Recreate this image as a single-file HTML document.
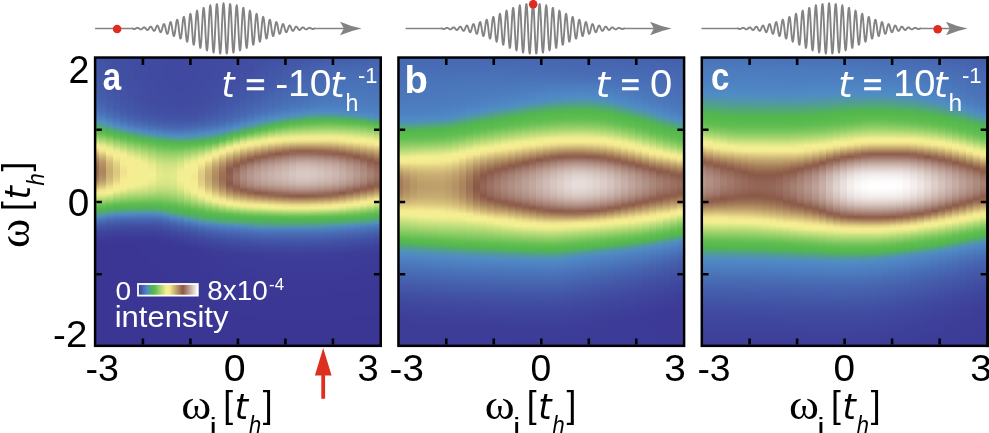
<!DOCTYPE html>
<html><head><meta charset="utf-8"><title>figure</title>
<style>
html,body{margin:0;padding:0;background:#fff}
#f{position:relative;width:989px;height:433px;overflow:hidden;background:#fff}
#f i{position:absolute;top:57.6px;height:288.3px;display:block}
.sans{font-family:"Liberation Sans",sans-serif}
.sansb{font-family:"Liberation Sans",sans-serif;font-weight:bold}
.sansi{font-family:"Liberation Sans",sans-serif;font-style:italic}
.serif{font-family:"Liberation Serif",serif}
.dvi{font-family:"DejaVu Sans",sans-serif;font-style:italic}
</style></head><body><div id="f">
<i style="left:96.05px;width:3.75px;background:linear-gradient(#4355a7 0px,#4355a7 3px,#4356a7 6px,#4357a8 9px,#4357a8 12px,#4358a9 15px,#4459a9 18px,#445aaa 21px,#445baa 24px,#445cab 27px,#455dac 30px,#455fac 33px,#4560ad 36px,#4662ae 39px,#4664b0 42px,#4767b1 45px,#486ab3 48px,#496fb6 51px,#4a75ba 54px,#4d7dbf 57px,#4f87c5 60px,#5092b4 63px,#519e91 66px,#52ad69 69px,#55b94c 72px,#68c054 75px,#89cb63 78px,#add773 81px,#d1e483 84px,#f3ef92 87px,#f6ec91 90px,#e2d183 93px,#ceb576 96px,#bc9d6a 99px,#ae8a60 102px,#a47b58 105px,#9e7355 108px,#9a6e52 111px,#996d52 114px,#9d7254 117px,#a37a58 120px,#af8b60 123px,#bfa06b 126px,#d3bc79 129px,#ebdc89 132px,#f4ee92 135px,#e1e98a 138px,#bbdc79 141px,#95cf68 144px,#72c459 147px,#59bb4d 150px,#52b25c 153px,#51a57f 156px,#508cc3 159px,#4b77bb 162px,#4766b1 165px,#4459a9 168px,#414fa3 171px,#3f479e 174px,#3e429b 177px,#3d3d98 180px,#3c3a96 183px,#3b3795 186px,#3b3694 189px,#3b3694 288px)"></i>
<i style="left:99.20px;width:7.64px;background:linear-gradient(#4253a5 0px,#4253a6 3px,#4254a6 6px,#4254a6 9px,#4355a6 12px,#4355a7 15px,#4356a7 18px,#4357a8 21px,#4358a8 24px,#4459a9 27px,#445aa9 30px,#445baa 33px,#445cab 36px,#455eac 39px,#455fad 42px,#4662ae 45px,#4765b0 48px,#4869b3 51px,#496fb6 54px,#4b76ba 57px,#4d80c0 60px,#508bc6 63px,#5197a5 66px,#51a67d 69px,#52b551 72px,#5cbc4f 75px,#7ac65c 78px,#9cd26b 81px,#bedd7b 84px,#e1e98a 87px,#f4ee92 90px,#f2e68e 93px,#dfcc81 96px,#ceb576 99px,#c1a36d 102px,#b69465 105px,#b18d61 108px,#ad885f 111px,#ac865e 114px,#af8a60 117px,#b49164 120px,#bd9e6a 123px,#cbb174 126px,#dcc97f 129px,#f1e58d 132px,#f4ee92 135px,#dde888 138px,#b6db77 141px,#90ce66 144px,#6cc256 147px,#56ba4c 150px,#52af64 153px,#51a08d 156px,#4f86c4 159px,#4a72b8 162px,#4662ae 165px,#4356a7 168px,#414da2 171px,#3f459d 174px,#3e409a 177px,#3d3c98 180px,#3c3996 183px,#3b3794 186px,#3b3694 189px,#3b3694 288px)"></i>
<i style="left:106.24px;width:7.64px;background:linear-gradient(#4251a4 0px,#4251a4 6px,#4252a5 9px,#4252a5 12px,#4253a5 15px,#4253a6 18px,#4254a6 21px,#4355a6 24px,#4356a7 27px,#4356a7 30px,#4357a8 33px,#4358a9 36px,#4459a9 39px,#445baa 42px,#455dab 45px,#455fad 48px,#4663af 51px,#4768b2 54px,#496eb5 57px,#4b76bb 60px,#4e81c1 63px,#508dc1 66px,#519b9a 69px,#51ac6d 72px,#55b94c 75px,#68c054 78px,#89cb63 81px,#aad672 84px,#cbe280 87px,#eaec8e 90px,#f4ee92 93px,#f5ea90 96px,#e6d686 99px,#dbc77e 102px,#d2ba78 105px,#cdb475 108px,#caaf73 111px,#c9ae72 114px,#cbb173 117px,#cfb676 120px,#d5bf7a 123px,#e0cd82 126px,#eddf8b 129px,#f5ed91 132px,#f3ef92 135px,#d3e484 138px,#aed873 141px,#87cb62 144px,#63bf52 147px,#52b84a 150px,#51ab6f 153px,#5196a8 156px,#4d7ebf 159px,#486cb4 162px,#455dab 165px,#4252a5 168px,#404aa0 171px,#3e449c 174px,#3d3f99 177px,#3c3b97 180px,#3b3895 183px,#3b3694 186px,#3b3694 288px)"></i>
<i style="left:113.28px;width:7.64px;background:linear-gradient(#414fa3 0px,#414fa3 6px,#4150a3 9px,#4150a4 12px,#4250a4 15px,#4251a4 18px,#4252a5 21px,#4252a5 24px,#4253a5 27px,#4253a6 30px,#4254a6 33px,#4355a7 36px,#4356a7 39px,#4357a8 42px,#4459a9 45px,#445aaa 48px,#455dac 51px,#4662ae 54px,#4767b1 57px,#496eb6 60px,#4b78bb 63px,#4e84c3 66px,#5091b7 69px,#51a18a 72px,#52b358 75px,#5bbc4e 78px,#75c55a 81px,#94cf68 84px,#b2d975 87px,#cfe382 90px,#ebec8e 93px,#f4ee92 96px,#f6ec91 99px,#eee18c 102px,#e5d585 105px,#e0ce82 108px,#ddca80 111px,#dcc87f 114px,#ddca80 117px,#e1cf83 120px,#e7d787 123px,#f1e58d 126px,#f5ed91 129px,#f4ee92 132px,#dde888 135px,#bddd7a 138px,#9cd26b 141px,#7ac75d 144px,#5cbc4f 147px,#52b552 150px,#51a779 153px,#508fbc 156px,#4c79bc 159px,#4767b2 162px,#445aaa 165px,#4150a4 168px,#3f489f 171px,#3e429b 174px,#3d3e99 177px,#3c3a97 180px,#3b3795 183px,#3b3694 186px,#3b3694 288px)"></i>
<i style="left:120.32px;width:7.64px;background:linear-gradient(#414ea2 0px,#414ea2 9px,#414ea3 12px,#414fa3 15px,#414fa3 21px,#4150a4 24px,#4251a4 27px,#4251a4 30px,#4252a5 33px,#4252a5 36px,#4253a5 39px,#4254a6 42px,#4355a7 45px,#4357a8 48px,#4459a9 51px,#445cab 54px,#4661ae 57px,#4767b2 60px,#496fb6 63px,#4c7abd 66px,#4f88c5 69px,#5197a7 72px,#51aa72 75px,#54b94b 78px,#65bf53 81px,#84ca61 84px,#a2d46e 87px,#bfdd7b 90px,#d9e687 93px,#f0ee91 96px,#f4ee92 99px,#f5ed91 102px,#f6ec91 105px,#f4e98f 108px,#f0e38d 111px,#eee18c 114px,#f0e38d 117px,#f4e98f 120px,#f6ec91 123px,#f5ed91 126px,#f4ee92 129px,#eaec8e 132px,#d0e383 135px,#b3d975 138px,#93cf68 141px,#73c459 144px,#5abb4e 147px,#52b456 150px,#51a57f 153px,#508cc4 156px,#4b77bb 159px,#4766b1 162px,#4459a9 165px,#414fa3 168px,#3f489f 171px,#3e429b 174px,#3d3e99 177px,#3c3a96 180px,#3b3795 183px,#3b3694 186px,#3b3694 288px)"></i>
<i style="left:127.36px;width:7.64px;background:linear-gradient(#414da2 0px,#414da2 15px,#414ea2 18px,#414ea2 21px,#414ea3 24px,#414fa3 27px,#414fa3 30px,#4150a3 33px,#4150a4 36px,#4251a4 39px,#4252a5 42px,#4253a5 45px,#4254a6 48px,#4356a7 51px,#4358a8 54px,#445cab 57px,#4662ae 60px,#4869b3 63px,#4a73b8 66px,#4d7fc0 69px,#508ec0 72px,#519f8e 75px,#52b357 78px,#5bbc4f 81px,#74c45a 84px,#8fcd66 87px,#a9d671 90px,#c2df7d 93px,#d9e687 96px,#eeed90 99px,#f4ee92 102px,#f5ed91 105px,#f5ed91 108px,#f6ec91 111px,#f6ec91 117px,#f5ed91 120px,#f5ed91 123px,#f4ee92 126px,#f0ee91 129px,#dbe788 132px,#c4df7d 135px,#a9d671 138px,#8dcd65 141px,#70c358 144px,#59bb4e 147px,#52b25a 150px,#51a481 153px,#508bc7 156px,#4b76ba 159px,#4765b0 162px,#4459a9 165px,#414fa3 168px,#3f479e 171px,#3e429b 174px,#3d3e99 177px,#3c3a96 180px,#3b3795 183px,#3b3694 186px,#3b3694 288px)"></i>
<i style="left:134.40px;width:7.64px;background:linear-gradient(#404ca1 0px,#404ca1 15px,#414ca1 18px,#414da2 21px,#414da2 27px,#414ea2 30px,#414ea2 33px,#414ea3 36px,#414fa3 39px,#4150a3 42px,#4250a4 45px,#4252a5 48px,#4253a5 51px,#4355a7 54px,#4459a9 57px,#455eac 60px,#4664b0 63px,#496db5 66px,#4b79bc 69px,#4f87c5 72px,#5197a6 75px,#51ab6d 78px,#56ba4c 81px,#68c054 84px,#82c960 87px,#9cd26b 90px,#b5da76 93px,#cce281 96px,#e0e98a 99px,#f1ee91 102px,#f4ee92 105px,#f4ee92 108px,#f5ed91 111px,#f5ed91 120px,#f4ee92 123px,#f3ef92 126px,#eaec8e 129px,#d6e585 132px,#bfde7b 135px,#a5d570 138px,#8acc64 141px,#6dc257 144px,#58bb4d 147px,#52b25c 150px,#51a383 153px,#508ac7 156px,#4b75ba 159px,#4765b0 162px,#4459a9 165px,#414fa3 168px,#3f479e 171px,#3e429b 174px,#3d3e99 177px,#3c3a96 180px,#3b3795 183px,#3b3794 186px,#3b3694 189px,#3b3694 288px)"></i>
<i style="left:141.44px;width:7.64px;background:linear-gradient(#404ba1 0px,#404ba1 18px,#404ca1 21px,#404ca1 30px,#414da2 33px,#414da2 39px,#414ea2 42px,#414fa3 45px,#4150a3 48px,#4251a4 51px,#4253a5 54px,#4355a7 57px,#445aaa 60px,#4661ae 63px,#4768b2 66px,#4a73b9 69px,#4d81c1 72px,#5090b9 75px,#51a384 78px,#52b74d 81px,#5dbd50 84px,#75c55a 87px,#8ecd65 90px,#a6d570 93px,#bddd7a 96px,#d1e483 99px,#e2e98b 102px,#f0ee91 105px,#f3ef92 108px,#f4ee92 111px,#f4ee92 123px,#f1ee91 126px,#e2e98a 129px,#cfe382 132px,#badc79 135px,#a1d46e 138px,#87cb62 141px,#6bc156 144px,#58ba4d 147px,#52b15d 150px,#51a385 153px,#508ac6 156px,#4b75ba 159px,#4765b0 162px,#4459a9 165px,#414fa3 168px,#3f489f 171px,#3e429b 174px,#3d3e99 177px,#3c3a97 180px,#3b3895 183px,#3b3794 186px,#3b3794 195px,#3b3694 198px,#3b3694 288px)"></i>
<i style="left:148.48px;width:7.64px;background:linear-gradient(#404aa0 0px,#404aa0 15px,#404ba0 18px,#404ba0 21px,#404ba1 24px,#404ba1 33px,#404ca1 36px,#404ca1 39px,#414ca1 42px,#414da2 45px,#414ea2 48px,#414fa3 51px,#4251a4 54px,#4253a5 57px,#4357a8 60px,#455dab 63px,#4664b0 66px,#496eb6 69px,#4c7bbd 72px,#508ac6 75px,#519b9a 78px,#52b062 81px,#58bb4d 84px,#69c155 87px,#80c85f 90px,#97d069 93px,#acd773 96px,#c0de7b 99px,#d0e383 102px,#dee889 105px,#e9ec8d 108px,#eeed90 111px,#f2ef92 114px,#f3ef92 117px,#f1ee91 120px,#eced8f 123px,#e4ea8b 126px,#d7e585 129px,#c6e07e 132px,#b2d975 135px,#9cd26b 138px,#83c960 141px,#69c155 144px,#57ba4d 147px,#52b15d 150px,#51a385 153px,#5089c6 156px,#4b75ba 159px,#4765b0 162px,#4459a9 165px,#414fa3 168px,#3f489f 171px,#3e429b 174px,#3d3e99 177px,#3c3a97 180px,#3b3895 183px,#3b3795 186px,#3b3794 189px,#3b3794 204px,#3b3694 207px,#3b3694 288px)"></i>
<i style="left:155.52px;width:7.64px;background:linear-gradient(#404aa0 0px,#404aa0 30px,#404ba0 33px,#404ba0 36px,#404ba1 39px,#404ba1 42px,#404ca1 45px,#414da2 48px,#414ea2 51px,#414fa3 54px,#4251a4 57px,#4355a6 60px,#445aaa 63px,#4661ae 66px,#486ab3 69px,#4b76ba 72px,#4e85c3 75px,#5095ac 78px,#51a875 81px,#54b94b 84px,#5ebd50 87px,#73c459 90px,#89cb63 93px,#9dd26c 96px,#b0d874 99px,#c0de7b 102px,#cde281 105px,#d8e686 108px,#dde888 111px,#e2e98a 114px,#e3ea8b 117px,#e2e98a 120px,#dee889 123px,#d8e686 126px,#cce281 129px,#bedd7a 132px,#acd772 135px,#98d06a 138px,#81c960 141px,#69c155 144px,#58bb4d 147px,#52b359 150px,#51a67d 153px,#508dc1 156px,#4b78bc 159px,#4768b2 162px,#445baa 165px,#4251a4 168px,#4049a0 171px,#3e449c 174px,#3d3f9a 177px,#3c3b97 180px,#3c3895 183px,#3b3795 186px,#3b3795 192px,#3b3794 195px,#3b3794 210px,#3b3694 213px,#3b3694 288px)"></i>
<i style="left:162.56px;width:7.64px;background:linear-gradient(#40499f 0px,#40499f 6px,#4049a0 9px,#4049a0 21px,#404aa0 24px,#404aa0 39px,#404ba0 42px,#404ba1 45px,#404ca1 48px,#414da2 51px,#414ea3 54px,#4150a4 57px,#4253a5 60px,#4358a8 63px,#455fac 66px,#4767b1 69px,#4a72b8 72px,#4d80c1 75px,#5090b9 78px,#51a385 81px,#52b551 84px,#5bbc4e 87px,#6cc256 90px,#82c960 93px,#96d069 96px,#a9d671 99px,#b9dc78 102px,#c7e07e 105px,#d2e483 108px,#d8e686 111px,#dde888 114px,#dfe889 117px,#dfe889 120px,#dbe787 123px,#d6e585 126px,#cce281 129px,#bedd7b 132px,#aed873 135px,#9bd26b 138px,#86ca62 141px,#6fc358 144px,#5bbc4f 147px,#52b74e 150px,#51ab6e 153px,#5199a1 156px,#4d80c1 159px,#496eb6 162px,#4560ad 165px,#4355a7 168px,#414da2 171px,#3f469e 174px,#3e419b 177px,#3d3d98 180px,#3c3a96 183px,#3b3895 186px,#3b3795 189px,#3b3795 201px,#3b3794 204px,#3b3794 216px,#3b3694 219px,#3b3694 288px)"></i>
<i style="left:169.60px;width:7.64px;background:linear-gradient(#40499f 0px,#40499f 21px,#4049a0 24px,#4049a0 30px,#404aa0 33px,#404aa0 42px,#404ba0 45px,#404ca1 48px,#414da2 51px,#414ea2 54px,#414fa3 57px,#4252a5 60px,#4357a8 63px,#455dab 66px,#4765b0 69px,#4970b7 72px,#4d7ebf 75px,#508dc0 78px,#519f8f 81px,#52b25a 84px,#59bb4d 87px,#69c155 90px,#7fc85e 93px,#94cf68 96px,#a7d670 99px,#b9db78 102px,#c7e07e 105px,#d3e484 108px,#dae787 111px,#dfe889 114px,#e2e98a 117px,#e1e98a 120px,#dee889 123px,#d9e687 126px,#d0e383 129px,#c4df7d 132px,#b4da76 135px,#a2d46e 138px,#8ecd65 141px,#77c55b 144px,#60be51 147px,#55b94b 150px,#52b060 153px,#51a481 156px,#508bc6 159px,#4b77bb 162px,#4767b1 165px,#445baa 168px,#4251a4 171px,#404aa0 174px,#3e449c 177px,#3d3f9a 180px,#3c3c97 183px,#3c3996 186px,#3b3795 189px,#3b3795 207px,#3b3794 210px,#3b3794 222px,#3b3694 225px,#3b3694 288px)"></i>
<i style="left:176.64px;width:7.64px;background:linear-gradient(#40499f 0px,#40499f 24px,#4049a0 27px,#4049a0 33px,#404aa0 36px,#404aa0 42px,#404ba0 45px,#404ba1 48px,#414ca1 51px,#414ea2 54px,#414fa3 57px,#4252a5 60px,#4356a7 63px,#455dab 66px,#4664b0 69px,#496fb6 72px,#4d7dbf 75px,#508dc2 78px,#519e92 81px,#52b15d 84px,#59bb4d 87px,#6bc156 90px,#83c960 93px,#9ad16b 96px,#b0d874 99px,#c3df7d 102px,#d3e484 105px,#e0e98a 108px,#e9ec8e 111px,#efee90 114px,#f2ef92 117px,#f2ef92 120px,#efee90 123px,#eaec8e 126px,#e1e98a 129px,#d4e584 132px,#c4df7d 135px,#b0d975 138px,#9bd26b 141px,#84ca61 144px,#6bc156 147px,#58bb4d 150px,#52b455 153px,#51aa71 156px,#5198a2 159px,#4d80c1 162px,#496eb6 165px,#4560ad 168px,#4356a7 171px,#414da2 174px,#3f479e 177px,#3e429b 180px,#3d3e99 183px,#3c3a96 186px,#3c3895 189px,#3b3895 192px,#3b3795 195px,#3b3795 213px,#3b3794 216px,#3b3794 225px,#3b3694 228px,#3b3694 288px)"></i>
<i style="left:183.68px;width:7.64px;background:linear-gradient(#40499f 0px,#40499f 21px,#4049a0 24px,#4049a0 30px,#404aa0 33px,#404aa0 42px,#404ba1 45px,#404ca1 48px,#414da2 51px,#414ea2 54px,#4150a3 57px,#4252a5 60px,#4357a8 63px,#455eac 66px,#4766b1 69px,#4a71b7 72px,#4d7fc0 75px,#508ebe 78px,#51a08d 81px,#52b359 84px,#5abc4e 87px,#71c459 90px,#8ccd64 93px,#a6d570 96px,#bfde7b 99px,#d5e585 102px,#e8eb8d 105px,#f3ef92 108px,#f4ee92 111px,#f4ee92 114px,#f5ed91 117px,#f5ed91 123px,#f4ee92 126px,#f4ee92 129px,#eced8f 132px,#dbe787 135px,#c6e07e 138px,#afd874 141px,#95cf68 144px,#79c65c 147px,#5dbd50 150px,#52b84a 153px,#52ae65 156px,#51a385 159px,#508ac6 162px,#4b76ba 165px,#4766b1 168px,#445baa 171px,#4251a4 174px,#404aa0 177px,#3f449d 180px,#3d409a 183px,#3c3c98 186px,#3c3996 189px,#3b3895 192px,#3b3895 201px,#3b3795 204px,#3b3795 219px,#3b3794 222px,#3b3794 231px,#3b3694 234px,#3b3694 288px)"></i>
<i style="left:190.72px;width:7.64px;background:linear-gradient(#40499f 0px,#40499f 12px,#4049a0 15px,#4049a0 21px,#404aa0 24px,#404aa0 36px,#404ba0 39px,#404ba1 42px,#404ca1 45px,#414da2 48px,#414ea2 51px,#414fa3 54px,#4251a4 57px,#4254a6 60px,#4459a9 63px,#4560ad 66px,#4768b2 69px,#4a74b9 72px,#4e82c2 75px,#5091b5 78px,#51a385 81px,#52b551 84px,#5dbd4f 87px,#79c65c 90px,#97d069 93px,#b3d976 96px,#cee382 99px,#e6eb8c 102px,#f4ee92 105px,#f5ed91 108px,#f6ec91 111px,#f6ec91 114px,#f3e88f 117px,#f2e78f 120px,#f4ea90 123px,#f6ec91 126px,#f5ed91 129px,#f4ee92 132px,#f2ef91 135px,#dce788 138px,#c3df7d 141px,#a8d671 144px,#8bcc64 147px,#6cc256 150px,#58ba4d 153px,#52b359 156px,#51a974 159px,#5096a9 162px,#4d7fc0 165px,#496db5 168px,#4560ad 171px,#4356a7 174px,#414ea2 177px,#3f479e 180px,#3e429b 183px,#3d3e99 186px,#3c3b97 189px,#3c3996 192px,#3c3895 195px,#3c3895 198px,#3b3895 201px,#3b3895 207px,#3b3795 210px,#3b3795 225px,#3b3794 228px,#3b3794 237px,#3b3694 240px,#3b3694 288px)"></i>
<i style="left:197.76px;width:7.64px;background:linear-gradient(#4049a0 0px,#4049a0 6px,#404aa0 9px,#404aa0 27px,#404ba0 30px,#404ba1 33px,#404ba1 36px,#404ca1 39px,#404ca1 42px,#414da2 45px,#414ea2 48px,#414fa3 51px,#4251a4 54px,#4253a6 57px,#4357a8 60px,#445cab 63px,#4662af 66px,#486cb4 69px,#4b78bc 72px,#4f87c4 75px,#5095aa 78px,#51a779 81px,#53b84a 84px,#63bf52 87px,#84ca61 90px,#a5d56f 93px,#c5e07e 96px,#e3ea8b 99px,#f4ee92 102px,#f5ed91 105px,#efe38c 108px,#e6d686 111px,#e1d083 114px,#decb81 117px,#ddca80 120px,#dfcc81 123px,#e3d184 126px,#e9da88 129px,#f2e78e 132px,#f5ed91 135px,#f3ef92 138px,#dce788 141px,#bcdd7a 144px,#9bd16b 147px,#7ac65d 150px,#5dbd50 153px,#52b84a 156px,#52ae67 159px,#51a189 162px,#4f88c5 165px,#4b75ba 168px,#4766b1 171px,#445baa 174px,#4252a5 177px,#404ba0 180px,#3f459d 183px,#3e419a 186px,#3d3d98 189px,#3c3a96 192px,#3c3996 195px,#3c3996 198px,#3c3895 201px,#3c3895 207px,#3b3895 210px,#3b3895 216px,#3b3795 219px,#3b3795 231px,#3b3794 234px,#3b3794 240px,#3b3694 243px,#3b3694 288px)"></i>
<i style="left:204.80px;width:7.64px;background:linear-gradient(#404aa0 0px,#404aa0 15px,#404ba0 18px,#404ba0 21px,#404ba1 24px,#404ba1 27px,#404ca1 30px,#404ca1 33px,#414ca1 36px,#414da2 39px,#414ea2 42px,#414fa3 45px,#4150a4 48px,#4252a5 51px,#4254a6 54px,#4356a7 57px,#445aaa 60px,#455fad 63px,#4766b1 66px,#4970b7 69px,#4c7dbe 72px,#508bc6 75px,#519a9e 78px,#51ac6c 81px,#57ba4c 84px,#70c358 87px,#97d069 90px,#bddd7a 93px,#e2e98b 96px,#f4ee92 99px,#f5eb90 102px,#e5d586 105px,#d9c47d 108px,#cfb676 111px,#caaf73 114px,#c6aa70 117px,#c5a96f 120px,#c7ac71 123px,#cbb274 126px,#d2bb79 129px,#decb80 132px,#ecde8a 135px,#f5ed91 138px,#f3ef92 141px,#d5e585 144px,#b0d975 147px,#8ccc64 150px,#6ac155 153px,#56ba4c 156px,#52b15d 159px,#51a77a 162px,#5090b9 165px,#4c7bbe 168px,#486cb4 171px,#4560ad 174px,#4356a7 177px,#414ea2 180px,#3f489f 183px,#3e439c 186px,#3d3f99 189px,#3c3b97 192px,#3c3a96 195px,#3c3996 198px,#3c3996 207px,#3c3895 210px,#3c3895 213px,#3b3895 216px,#3b3895 222px,#3b3795 225px,#3b3795 234px,#3b3794 237px,#3b3794 246px,#3b3694 249px,#3b3694 288px)"></i>
<i style="left:211.84px;width:7.64px;background:linear-gradient(#404aa0 0px,#404aa0 3px,#404ba0 6px,#404ba0 9px,#404ba1 12px,#404ba1 18px,#404ca1 21px,#404ca1 24px,#414ca1 27px,#414da2 30px,#414da2 33px,#414ea2 36px,#414ea3 39px,#414fa3 42px,#4251a4 45px,#4252a5 48px,#4254a6 51px,#4357a8 54px,#4459a9 57px,#455dac 60px,#4663af 63px,#486ab3 66px,#4a74b9 69px,#4e82c1 72px,#5090ba 75px,#519f8e 78px,#52b25b 81px,#5dbc4f 84px,#86ca62 87px,#b3da76 90px,#e0e98a 93px,#f4ee92 96px,#f0e38d 99px,#decb81 102px,#ceb676 105px,#c2a56d 108px,#b89767 111px,#b39063 114px,#af8b60 117px,#ae8a60 120px,#b18d61 123px,#b59365 126px,#bd9e6a 129px,#c9af72 132px,#d9c47d 135px,#eadc89 138px,#f5ed91 141px,#eced8f 144px,#c4df7d 147px,#9bd26b 150px,#75c55a 153px,#5abb4e 156px,#52b456 159px,#51aa72 162px,#5198a3 165px,#4d80c1 168px,#4970b7 171px,#4663af 174px,#4459a9 177px,#4251a4 180px,#404aa0 183px,#3f459d 186px,#3e419a 189px,#3d3d98 192px,#3c3b97 195px,#3c3a96 198px,#3c3a96 201px,#3c3996 204px,#3c3996 213px,#3c3895 216px,#3c3895 219px,#3b3895 222px,#3b3895 225px,#3b3795 228px,#3b3795 240px,#3b3794 243px,#3b3794 249px,#3b3694 252px,#3b3694 288px)"></i>
<i style="left:218.88px;width:7.64px;background:linear-gradient(#404ba1 0px,#404ba1 9px,#404ca1 12px,#404ca1 15px,#414ca1 18px,#414da2 21px,#414da2 24px,#414ea2 27px,#414ea2 30px,#414fa3 33px,#414fa3 36px,#4250a4 39px,#4252a5 42px,#4253a6 45px,#4355a7 48px,#4358a8 51px,#445aaa 54px,#455dac 57px,#4662ae 60px,#4767b1 63px,#496fb6 66px,#4c7bbd 69px,#4f89c6 72px,#5197a6 75px,#51a974 78px,#56ba4c 81px,#76c55b 84px,#a7d670 87px,#d9e686 90px,#f4ee92 93px,#f0e38d 96px,#dcc87f 99px,#cab073 102px,#bb9b68 105px,#ae8a60 108px,#a57c59 111px,#9f7556 114px,#9c7053 117px,#9b6f53 120px,#9d7354 123px,#a27958 126px,#aa845d 129px,#b79566 132px,#c6ab70 135px,#d9c47d 138px,#eee18c 141px,#f4ee92 144px,#dce788 147px,#afd874 150px,#82c960 153px,#5dbd4f 156px,#52b650 159px,#51ac6c 162px,#519e93 165px,#4e85c3 168px,#4a73b9 171px,#4766b1 174px,#445cab 177px,#4253a6 180px,#404ca1 183px,#3f479e 186px,#3e429b 189px,#3d3e99 192px,#3c3b97 195px,#3c3b97 198px,#3c3a97 201px,#3c3a96 204px,#3c3a96 207px,#3c3996 210px,#3c3996 216px,#3c3895 219px,#3c3895 222px,#3b3895 225px,#3b3895 231px,#3b3795 234px,#3b3795 243px,#3b3794 246px,#3b3794 252px,#3b3694 255px,#3b3694 288px)"></i>
<i style="left:225.92px;width:7.64px;background:linear-gradient(#404ca1 0px,#404ca1 9px,#414ca1 12px,#414da2 15px,#414da2 18px,#414ea2 21px,#414ea3 24px,#414fa3 27px,#4150a3 30px,#4250a4 33px,#4251a4 36px,#4253a5 39px,#4355a6 42px,#4356a7 45px,#4459a9 48px,#445baa 51px,#455eac 54px,#4661ae 57px,#4766b1 60px,#486cb5 63px,#4b76bb 66px,#4e83c2 69px,#5091b8 72px,#51a288 75px,#52b650 78px,#68c054 81px,#98d16a 84px,#cbe280 87px,#f4ee92 90px,#f3e88f 93px,#dcc97f 96px,#c7ac71 99px,#b59264 102px,#a47c59 105px,#976a50 108px,#8d5c49 111px,#8c5c4b 114px,#906151 117px,#916252 120px,#8f5e4e 123px,#8b5947 126px,#94654e 129px,#a27857 132px,#b39063 135px,#c8ad71 138px,#dfcd81 141px,#f6ec91 144px,#eeed90 147px,#bedd7a 150px,#8ecd65 153px,#63bf52 156px,#52b84a 159px,#52ad68 162px,#51a288 165px,#4f88c5 168px,#4b76bb 171px,#4869b3 174px,#455eac 177px,#4355a7 180px,#414ea2 183px,#40489f 186px,#3e449c 189px,#3d3f9a 192px,#3d3c98 195px,#3c3b97 198px,#3c3b97 201px,#3c3a97 204px,#3c3a96 207px,#3c3a96 210px,#3c3996 213px,#3c3996 219px,#3c3895 222px,#3c3895 225px,#3b3895 228px,#3b3895 234px,#3b3795 237px,#3b3795 246px,#3b3794 249px,#3b3794 252px,#3b3694 255px,#3b3694 288px)"></i>
<i style="left:232.96px;width:7.64px;background:linear-gradient(#414ca1 0px,#414ca1 3px,#414da2 6px,#414da2 12px,#414ea2 15px,#414ea3 18px,#414fa3 21px,#4150a4 24px,#4251a4 27px,#4251a4 30px,#4252a5 33px,#4254a6 36px,#4355a7 39px,#4357a8 42px,#445aa9 45px,#445cab 48px,#455fac 51px,#4662ae 54px,#4765b0 57px,#486ab3 60px,#4a73b8 63px,#4d7ebf 66px,#508bc7 69px,#519a9c 72px,#52af64 75px,#5cbc4f 78px,#88cb63 81px,#bbdc79 84px,#eded8f 87px,#f6ec91 90px,#e2d183 93px,#ccb274 96px,#b79566 99px,#a47c59 102px,#94664e 105px,#8d5c4b 108px,#96695a 111px,#9b7162 114px,#9f7668 117px,#a07769 120px,#9d7365 123px,#986c5d 126px,#8f5f4e 129px,#94654e 132px,#a67e5a 135px,#bb9c69 138px,#d4bd7a 141px,#eee18c 144px,#f4ee92 147px,#cce281 150px,#99d16a 153px,#6ac155 156px,#54b94b 159px,#52af64 162px,#51a481 165px,#508cc5 168px,#4c79bc 171px,#486bb4 174px,#4661ae 177px,#4357a8 180px,#4150a3 183px,#404aa0 186px,#3f459d 189px,#3e419a 192px,#3d3d98 195px,#3c3c97 198px,#3c3b97 201px,#3c3b97 204px,#3c3a97 207px,#3c3a96 210px,#3c3a96 213px,#3c3996 216px,#3c3996 222px,#3c3895 225px,#3c3895 228px,#3b3895 231px,#3b3895 234px,#3b3795 237px,#3b3795 246px,#3b3794 249px,#3b3794 255px,#3b3694 258px,#3b3694 288px)"></i>
<i style="left:240.00px;width:7.64px;background:linear-gradient(#414da2 0px,#414da2 6px,#414ea2 9px,#414ea3 12px,#414fa3 15px,#4150a3 18px,#4250a4 21px,#4251a4 24px,#4252a5 27px,#4253a6 30px,#4355a6 33px,#4356a7 36px,#4358a8 39px,#445aaa 42px,#455dab 45px,#455fad 48px,#4662ae 51px,#4765b0 54px,#4869b3 57px,#4970b7 60px,#4c79bc 63px,#4f85c3 66px,#5093b1 69px,#51a67d 72px,#54b94b 75px,#74c45a 78px,#a6d570 81px,#d9e686 84px,#f4ee92 87px,#ecde8a 90px,#d4bd79 93px,#bd9d6a 96px,#a8815b 99px,#95674f 102px,#8e5e4e 105px,#9b7162 108px,#a47d70 111px,#a98478 114px,#ad8a7e 117px,#ad8b7f 120px,#aa867a 123px,#a57e71 126px,#9b7062 129px,#8c5b4a 132px,#9b6f53 135px,#b28f62 138px,#ccb374 141px,#e8d887 144px,#f5ed91 147px,#d9e687 150px,#a4d46f 153px,#72c459 156px,#56b94c 159px,#52b061 162px,#51a67c 165px,#508fbb 168px,#4c7cbe 171px,#496eb5 174px,#4663af 177px,#4459a9 180px,#4251a4 183px,#404ba1 186px,#3f469e 189px,#3e419b 192px,#3d3e99 195px,#3c3c98 198px,#3c3b97 201px,#3c3b97 207px,#3c3a96 210px,#3c3a96 213px,#3c3996 216px,#3c3996 222px,#3c3895 225px,#3c3895 228px,#3b3895 231px,#3b3895 237px,#3b3795 240px,#3b3795 246px,#3b3794 249px,#3b3794 255px,#3b3694 258px,#3b3694 288px)"></i>
<i style="left:247.04px;width:7.64px;background:linear-gradient(#414ea2 0px,#414ea2 3px,#414ea3 6px,#414fa3 9px,#414fa3 12px,#4150a4 15px,#4251a4 18px,#4252a5 21px,#4253a6 24px,#4254a6 27px,#4356a7 30px,#4357a8 33px,#4459a9 36px,#445baa 39px,#455dac 42px,#4560ad 45px,#4662af 48px,#4765b0 51px,#4869b2 54px,#496eb6 57px,#4b76ba 60px,#4d81c1 63px,#508dc1 66px,#519d94 69px,#52b25b 72px,#5ebd50 75px,#8ccd65 78px,#bddd7a 81px,#eded90 84px,#f6ec91 87px,#e1cf82 90px,#c8ad71 93px,#b08c61 96px,#9b6f53 99px,#8a5948 102px,#9a6e5f 105px,#a68073 108px,#ae8b80 111px,#b39388 114px,#b6978d 117px,#b7988d 120px,#b39388 123px,#ae8b7f 126px,#a47d6f 129px,#946657 132px,#92634d 135px,#a9835d 138px,#c4a86f 141px,#e1d083 144px,#f5ed91 147px,#e1e98a 150px,#abd772 153px,#78c65b 156px,#57ba4d 159px,#52b15d 162px,#51a876 165px,#5094ae 168px,#4d7fc0 171px,#4970b7 174px,#4765b0 177px,#445baa 180px,#4253a5 183px,#414ca1 186px,#3f479e 189px,#3e439c 192px,#3d3f99 195px,#3d3c98 198px,#3c3c97 201px,#3c3b97 204px,#3c3b97 207px,#3c3a97 210px,#3c3a96 213px,#3c3a96 216px,#3c3996 219px,#3c3996 225px,#3c3895 228px,#3c3895 231px,#3b3895 234px,#3b3895 237px,#3b3795 240px,#3b3795 249px,#3b3794 252px,#3b3794 255px,#3b3694 258px,#3b3694 288px)"></i>
<i style="left:254.08px;width:7.64px;background:linear-gradient(#414fa3 0px,#414fa3 3px,#4150a3 6px,#4150a4 9px,#4251a4 12px,#4252a5 15px,#4253a5 18px,#4254a6 21px,#4355a7 24px,#4357a8 27px,#4358a9 30px,#445aaa 33px,#445cab 36px,#455eac 39px,#4661ae 42px,#4663af 45px,#4766b1 48px,#4869b2 51px,#496db5 54px,#4a74b9 57px,#4d7dbf 60px,#4f89c6 63px,#5196a8 66px,#51a974 69px,#56ba4c 72px,#75c55a 75px,#a2d46e 78px,#d1e383 81px,#f4ee92 84px,#f0e48d 87px,#d6c07b 90px,#bc9d6a 93px,#a57c59 96px,#90604b 99px,#956758 102px,#a47d6f 105px,#af8d82 108px,#b6978d 111px,#bb9e94 114px,#bea299 117px,#bea299 120px,#ba9d93 123px,#b5958a 126px,#ab867a 129px,#9b7062 132px,#8b5a48 135px,#a27957 138px,#be9f6a 141px,#dcc87f 144px,#f6ec91 147px,#e8eb8d 150px,#b2d975 153px,#7dc85e 156px,#59bb4e 159px,#52b25a 162px,#51a973 165px,#5198a2 168px,#4e81c1 171px,#4a72b8 174px,#4767b1 177px,#455dab 180px,#4355a6 183px,#414ea2 186px,#40489f 189px,#3e449c 192px,#3d3f9a 195px,#3d3d98 198px,#3c3c98 201px,#3c3b97 204px,#3c3b97 210px,#3c3a96 213px,#3c3a96 216px,#3c3996 219px,#3c3996 225px,#3c3895 228px,#3c3895 231px,#3b3895 234px,#3b3895 237px,#3b3795 240px,#3b3795 249px,#3b3794 252px,#3b3794 258px,#3b3694 261px,#3b3694 288px)"></i>
<i style="left:261.12px;width:7.64px;background:linear-gradient(#4150a3 0px,#4150a4 3px,#4251a4 6px,#4252a5 9px,#4253a5 12px,#4254a6 15px,#4355a7 18px,#4356a7 21px,#4358a8 24px,#4459a9 27px,#445baa 30px,#455dab 33px,#455fad 36px,#4661ae 39px,#4664b0 42px,#4766b1 45px,#4869b3 48px,#486cb5 51px,#4a72b8 54px,#4c79bc 57px,#4e84c3 60px,#5090ba 63px,#51a08d 66px,#52b456 69px,#5fbd50 72px,#89cb63 75px,#b6da77 78px,#e3ea8b 81px,#f5ed91 84px,#e6d686 87px,#ccb274 90px,#b28f63 93px,#9b6f52 96px,#8e5d4d 99px,#9e7567 102px,#ab887c 105px,#b7988d 108px,#bda197 111px,#c2a79e 114px,#c4aba2 117px,#c4aaa2 120px,#c0a59b 123px,#ba9c92 126px,#af8d82 129px,#a1786b 132px,#8e5e4e 135px,#9d7254 138px,#b99867 141px,#d8c27c 144px,#f6ec91 147px,#eded90 150px,#b7db77 153px,#82c960 156px,#5bbc4e 159px,#52b357 162px,#51aa70 165px,#519b9b 168px,#4e83c2 171px,#4a74b9 174px,#4768b2 177px,#455eac 180px,#4356a7 183px,#414fa3 186px,#4049a0 189px,#3f449d 192px,#3d409a 195px,#3d3d98 198px,#3d3c98 201px,#3c3c97 204px,#3c3b97 207px,#3c3b97 210px,#3c3a97 213px,#3c3a96 216px,#3c3a96 219px,#3c3996 222px,#3c3996 228px,#3c3895 231px,#3b3895 234px,#3b3895 240px,#3b3795 243px,#3b3795 249px,#3b3794 252px,#3b3794 258px,#3b3694 261px,#3b3694 288px)"></i>
<i style="left:268.16px;width:7.64px;background:linear-gradient(#4251a4 0px,#4252a5 3px,#4253a5 6px,#4254a6 9px,#4355a6 12px,#4356a7 15px,#4357a8 18px,#4459a9 21px,#445aaa 24px,#445cab 27px,#455eac 30px,#4560ad 33px,#4662ae 36px,#4664b0 39px,#4767b1 42px,#4869b3 45px,#486cb4 48px,#4970b7 51px,#4b76ba 54px,#4d7fc0 57px,#508ac6 60px,#5197a6 63px,#51a973 66px,#56ba4c 69px,#71c359 72px,#9bd26b 75px,#c7e07f 78px,#f3ef92 81px,#f6ec91 84px,#dcc97f 87px,#c1a46d 90px,#a8815b 93px,#91614c 96px,#96695a 99px,#a57f72 102px,#b29186 105px,#bda097 108px,#c2a89f 111px,#c7aea6 114px,#c9b2aa 117px,#c8b0a8 120px,#c4aba2 123px,#bea299 126px,#b39388 129px,#a57e71 132px,#936556 135px,#976a50 138px,#b39163 141px,#d3bc79 144px,#f3e78f 147px,#f3ef92 150px,#bcdd7a 153px,#86cb62 156px,#5cbc4f 159px,#52b455 162px,#51ab6f 165px,#519b9a 168px,#4e83c2 171px,#4a74b9 174px,#4768b2 177px,#455fac 180px,#4356a7 183px,#414fa3 186px,#404aa0 189px,#3f459d 192px,#3e409a 195px,#3d3d98 198px,#3d3c98 201px,#3c3c97 204px,#3c3b97 207px,#3c3b97 210px,#3c3a97 213px,#3c3a96 216px,#3c3a96 219px,#3c3996 222px,#3c3996 228px,#3c3895 231px,#3c3895 234px,#3b3895 237px,#3b3895 240px,#3b3795 243px,#3b3795 249px,#3b3794 252px,#3b3794 258px,#3b3694 261px,#3b3694 288px)"></i>
<i style="left:275.20px;width:7.64px;background:linear-gradient(#4252a5 0px,#4253a5 3px,#4254a6 6px,#4355a7 9px,#4357a8 12px,#4358a8 15px,#445aa9 18px,#445baa 21px,#455dab 24px,#455fac 27px,#4661ae 30px,#4663af 33px,#4765b0 36px,#4767b1 39px,#4869b3 42px,#486cb4 45px,#496fb6 48px,#4a74b9 51px,#4c7bbd 54px,#4e84c3 57px,#508fbd 60px,#519f90 63px,#52b359 66px,#5dbd4f 69px,#81c960 72px,#aad672 75px,#d3e484 78px,#f4ee92 81px,#f1e58e 84px,#d6c07b 87px,#ba9a68 90px,#a07656 93px,#8a5847 96px,#9c7264 99px,#ab877b 102px,#b8998f 105px,#c1a79e 108px,#c7afa7 111px,#cbb5ad 114px,#cdb8b0 117px,#ccb6ae 120px,#c7b0a8 123px,#c2a79e 126px,#b7988d 129px,#a88377 132px,#976b5b 135px,#93644d 138px,#af8a60 141px,#ceb676 144px,#efe28c 147px,#f3ef92 150px,#c1de7c 153px,#8bcc64 156px,#5dbd50 159px,#52b553 162px,#51ab6f 165px,#519b9a 168px,#4e83c2 171px,#4a74b9 174px,#4869b2 177px,#455fad 180px,#4357a8 183px,#4150a3 186px,#404aa0 189px,#3f459d 192px,#3e409a 195px,#3d3d98 198px,#3d3c98 201px,#3c3c98 204px,#3c3b97 207px,#3c3b97 210px,#3c3a97 213px,#3c3a96 216px,#3c3a96 219px,#3c3996 222px,#3c3996 228px,#3c3895 231px,#3c3895 234px,#3b3895 237px,#3b3895 240px,#3b3795 243px,#3b3795 249px,#3b3794 252px,#3b3794 258px,#3b3694 261px,#3b3694 288px)"></i>
<i style="left:282.24px;width:7.64px;background:linear-gradient(#4253a5 0px,#4354a6 3px,#4356a7 6px,#4357a8 9px,#4459a9 12px,#445aaa 15px,#445cab 18px,#455eac 21px,#455fad 24px,#4661ae 27px,#4663af 30px,#4765b0 33px,#4767b2 36px,#486ab3 39px,#486cb4 42px,#496fb6 45px,#4a72b8 48px,#4b77bb 51px,#4d7fc0 54px,#4f88c5 57px,#5095ac 60px,#51a779 63px,#54b94b 66px,#6ac155 69px,#8ecd65 72px,#b4da76 75px,#dce788 78px,#f4ee92 81px,#ecdf8a 84px,#d0b877 87px,#b49164 90px,#9a6d52 93px,#906050 96px,#a27a6c 99px,#b08e83 102px,#bda097 105px,#c6ada5 108px,#cbb5ad 111px,#cfbbb4 114px,#d1bdb6 117px,#cfbbb4 120px,#cbb4ad 123px,#c5aca4 126px,#ba9c92 129px,#ab887c 132px,#9a6f60 135px,#8f5f4a 138px,#ab855d 141px,#cbb073 144px,#ebde8a 147px,#f4ee92 150px,#c6e07e 153px,#8fcd66 156px,#5fbd50 159px,#52b551 162px,#51ab6e 165px,#519b9a 168px,#4e83c2 171px,#4a74b9 174px,#4869b3 177px,#455fad 180px,#4357a8 183px,#4150a4 186px,#404aa0 189px,#3f459d 192px,#3e419a 195px,#3d3e99 198px,#3d3c98 201px,#3c3c98 204px,#3c3b97 207px,#3c3b97 213px,#3c3a96 216px,#3c3a96 219px,#3c3996 222px,#3c3996 228px,#3c3895 231px,#3c3895 234px,#3b3895 237px,#3b3895 240px,#3b3795 243px,#3b3795 252px,#3b3794 255px,#3b3794 258px,#3b3694 261px,#3b3694 288px)"></i>
<i style="left:289.28px;width:7.64px;background:linear-gradient(#4254a6 0px,#4356a7 3px,#4357a8 6px,#4459a9 9px,#445baa 12px,#455dab 15px,#455eac 18px,#4560ad 21px,#4662ae 24px,#4664af 27px,#4766b1 30px,#4768b2 33px,#486ab3 36px,#486cb4 39px,#496eb6 42px,#4a71b7 45px,#4b75ba 48px,#4c7bbd 51px,#4e82c2 54px,#508cc4 57px,#519b9b 60px,#52af64 63px,#59bb4e 66px,#75c55a 69px,#98d06a 72px,#bcdd7a 75px,#e2e98a 78px,#f4ee92 81px,#e9da88 84px,#cbb274 87px,#ae8960 90px,#94654e 93px,#956859 96px,#a78175 99px,#b6968b 102px,#c2a89f 105px,#cbb5ad 108px,#d0bcb5 111px,#d4c2bb 114px,#d5c3bd 117px,#d3c1ba 120px,#cfbab3 123px,#c8b1a9 126px,#bda197 129px,#af8c81 132px,#9d7365 135px,#8c5a48 138px,#a7805b 141px,#c7ac71 144px,#e9da88 147px,#f4ee92 150px,#c9e17f 153px,#92ce67 156px,#61be51 159px,#52b650 162px,#51ab6e 165px,#519b9a 168px,#4e83c2 171px,#4a74b9 174px,#4869b3 177px,#4560ad 180px,#4357a8 183px,#4150a4 186px,#404aa0 189px,#3f459d 192px,#3e419a 195px,#3d3e99 198px,#3d3d98 201px,#3c3c98 204px,#3c3c97 207px,#3c3b97 210px,#3c3b97 213px,#3c3a96 216px,#3c3a96 219px,#3c3996 222px,#3c3996 228px,#3c3895 231px,#3c3895 234px,#3b3895 237px,#3b3895 240px,#3b3795 243px,#3b3795 252px,#3b3794 255px,#3b3794 258px,#3b3694 261px,#3b3694 288px)"></i>
<i style="left:296.32px;width:7.64px;background:linear-gradient(#4355a7 0px,#4357a8 3px,#4459a9 6px,#445baa 9px,#455dab 12px,#455fac 15px,#4661ae 18px,#4662af 21px,#4664b0 24px,#4766b1 27px,#4768b2 30px,#486ab3 33px,#486cb4 36px,#496eb6 39px,#4970b7 42px,#4a73b9 45px,#4b77bb 48px,#4d7dbf 51px,#4f85c3 54px,#508fbb 57px,#51a08d 60px,#52b456 63px,#5dbc4f 66px,#7cc75d 69px,#9dd26c 72px,#c0de7c 75px,#e5ea8c 78px,#f5ed91 81px,#e7d787 84px,#c9ae72 87px,#ab865e 90px,#91614c 93px,#986c5d 96px,#aa867a 99px,#b99b91 102px,#c6aea6 105px,#cfbab3 108px,#d4c2bb 111px,#d8c7c1 114px,#d9c9c3 117px,#d6c5bf 120px,#d2beb8 123px,#cbb5ad 126px,#bfa49b 129px,#b18f84 132px,#9f7668 135px,#8a5847 138px,#a57e5a 141px,#c6aa70 144px,#e8d988 147px,#f4ee92 150px,#c9e180 153px,#92ce67 156px,#61be51 159px,#52b650 162px,#51ab6e 165px,#519b9a 168px,#4e83c2 171px,#4a74b9 174px,#4869b3 177px,#4560ad 180px,#4357a8 183px,#4150a4 186px,#404ba0 189px,#3f459d 192px,#3e419a 195px,#3d3e99 198px,#3d3d98 201px,#3c3c98 204px,#3c3c97 207px,#3c3b97 210px,#3c3b97 213px,#3c3a97 216px,#3c3a96 219px,#3c3996 222px,#3c3996 228px,#3c3895 231px,#3c3895 234px,#3b3895 237px,#3b3895 240px,#3b3795 243px,#3b3795 252px,#3b3794 255px,#3b3794 258px,#3b3694 261px,#3b3694 288px)"></i>
<i style="left:303.36px;width:7.64px;background:linear-gradient(#4356a7 0px,#4458a9 3px,#445baa 6px,#455dab 9px,#455fad 12px,#4661ae 15px,#4663af 18px,#4765b0 21px,#4767b1 24px,#4768b2 27px,#486ab3 30px,#486cb4 33px,#496eb6 36px,#4970b7 39px,#4a73b8 42px,#4b76ba 45px,#4c7abd 48px,#4d80c0 51px,#4f88c5 54px,#5093b2 57px,#51a580 60px,#52b84a 63px,#62be52 66px,#81c960 69px,#a2d46e 72px,#c4df7d 75px,#e8eb8d 78px,#f5ed91 81px,#e6d686 84px,#c8ae72 87px,#ab855e 90px,#91614c 93px,#986d5e 96px,#ab877a 99px,#ba9c92 102px,#c7afa6 105px,#cfbbb4 108px,#d5c2bc 111px,#d8c8c2 114px,#d9c9c4 117px,#d7c6c0 120px,#d2bfb8 123px,#cbb5ae 126px,#bfa49b 129px,#b18f84 132px,#9f7668 135px,#8b5947 138px,#a67f5a 141px,#c7ac71 144px,#e9da88 147px,#f4ee92 150px,#c8e17f 153px,#91ce66 156px,#60be51 159px,#52b651 162px,#51ab6f 165px,#519a9c 168px,#4e83c2 171px,#4a74b9 174px,#4869b3 177px,#455fad 180px,#4357a8 183px,#4150a4 186px,#404aa0 189px,#3f459d 192px,#3e419a 195px,#3d3e99 198px,#3d3d98 201px,#3c3c98 204px,#3c3c97 207px,#3c3b97 210px,#3c3b97 213px,#3c3a96 216px,#3c3a96 219px,#3c3996 222px,#3c3996 228px,#3c3895 231px,#3c3895 234px,#3b3895 237px,#3b3895 240px,#3b3795 243px,#3b3795 252px,#3b3794 255px,#3b3794 258px,#3b3694 261px,#3b3694 288px)"></i>
<i style="left:310.40px;width:7.64px;background:linear-gradient(#4357a8 0px,#445aaa 3px,#455dab 6px,#455fad 9px,#4662ae 12px,#4664af 15px,#4766b1 18px,#4768b2 21px,#4869b3 24px,#486bb4 27px,#496db5 30px,#496fb6 33px,#4970b7 36px,#4a72b8 39px,#4b75ba 42px,#4b78bb 45px,#4c7cbe 48px,#4e82c2 51px,#508ac6 54px,#5096a8 57px,#51a974 60px,#55b94b 63px,#67c054 66px,#86ca62 69px,#a6d570 72px,#c7e07e 75px,#eaec8e 78px,#f5ed91 81px,#e6d686 84px,#c9ae72 87px,#ac865e 90px,#92634c 93px,#976b5b 96px,#a98478 99px,#b89a8f 102px,#c5aca4 105px,#cdb8b1 108px,#d3c0b9 111px,#d6c5bf 114px,#d8c7c1 117px,#d5c3bd 120px,#d0bcb6 123px,#cab3ab 126px,#bea298 129px,#af8c81 132px,#9d7364 135px,#8d5c49 138px,#a9825c 141px,#c9af72 144px,#ebdd89 147px,#f4ee92 150px,#c5e07e 153px,#8ecd65 156px,#5ebd50 159px,#52b553 162px,#51aa70 165px,#5199a0 168px,#4e82c2 171px,#4a73b9 174px,#4768b2 177px,#455fac 180px,#4356a7 183px,#4150a3 186px,#404aa0 189px,#3f459d 192px,#3e409a 195px,#3d3d98 198px,#3d3d98 201px,#3c3c98 204px,#3c3b97 207px,#3c3b97 213px,#3c3a96 216px,#3c3a96 219px,#3c3996 222px,#3c3996 228px,#3c3895 231px,#3c3895 234px,#3b3895 237px,#3b3895 240px,#3b3795 243px,#3b3795 252px,#3b3794 255px,#3b3794 258px,#3b3694 261px,#3b3694 288px)"></i>
<i style="left:317.44px;width:7.64px;background:linear-gradient(#4358a9 0px,#445baa 3px,#455fac 6px,#4661ae 9px,#4664b0 12px,#4766b1 15px,#4769b2 18px,#486ab3 21px,#486cb4 24px,#496db5 27px,#496fb6 30px,#4a71b7 33px,#4a73b8 36px,#4a74b9 39px,#4b77bb 42px,#4c7abd 45px,#4d7ebf 48px,#4e84c3 51px,#508bc6 54px,#5198a2 57px,#51ab6d 60px,#56ba4c 63px,#6ac155 66px,#89cb63 69px,#a8d671 72px,#c9e17f 75px,#ebec8f 78px,#f5ed91 81px,#e6d686 84px,#caaf73 87px,#ae895f 90px,#94664e 93px,#956758 96px,#a78174 99px,#b5968b 102px,#c2a89f 105px,#cab4ac 108px,#d0bbb5 111px,#d3c1ba 114px,#d5c2bc 117px,#d2bfb9 120px,#ceb8b1 123px,#c7afa7 126px,#bb9e94 129px,#ac887c 132px,#9a6f60 135px,#90604b 138px,#ac875e 141px,#ccb374 144px,#ede08b 147px,#f3ef92 150px,#c2df7c 153px,#8bcc64 156px,#5dbd4f 159px,#52b455 162px,#51aa72 165px,#5197a6 168px,#4e81c1 171px,#4a73b8 174px,#4768b2 177px,#455eac 180px,#4356a7 183px,#414fa3 186px,#404aa0 189px,#3f449d 192px,#3d409a 195px,#3d3d98 198px,#3d3c98 201px,#3c3c98 204px,#3c3b97 207px,#3c3b97 213px,#3c3a96 216px,#3c3a96 219px,#3c3996 222px,#3c3996 228px,#3c3895 231px,#3c3895 234px,#3b3895 237px,#3b3895 240px,#3b3795 243px,#3b3795 249px,#3b3794 252px,#3b3794 258px,#3b3694 261px,#3b3694 288px)"></i>
<i style="left:324.48px;width:7.64px;background:linear-gradient(#4459a9 0px,#455dab 3px,#4560ad 6px,#4664af 9px,#4766b1 12px,#4869b3 15px,#486bb4 18px,#486db5 21px,#496eb6 24px,#4970b7 27px,#4a71b7 30px,#4a73b8 33px,#4a74b9 36px,#4b76bb 39px,#4b78bc 42px,#4c7bbd 45px,#4d7fc0 48px,#4e84c3 51px,#508cc5 54px,#5199a0 57px,#51ac6b 60px,#57ba4c 63px,#6bc256 66px,#8acc64 69px,#a9d671 72px,#cae180 75px,#eced8f 78px,#f5ed91 81px,#e6d786 84px,#cbb174 87px,#b08c61 90px,#976a50 93px,#926353 96px,#a37c6f 99px,#b29186 102px,#bea399 105px,#c7afa7 108px,#ccb6af 111px,#d0bcb5 114px,#d1bdb7 117px,#cfbab3 120px,#cab4ac 123px,#c4aaa1 126px,#b7998e 129px,#a98477 132px,#966a5a 135px,#94664e 138px,#b08c61 141px,#d0b877 144px,#f0e48d 147px,#f3ef92 150px,#bedd7b 153px,#87cb62 156px,#5cbc4f 159px,#52b357 162px,#51a974 165px,#5095ac 168px,#4d80c0 171px,#4a72b8 174px,#4767b1 177px,#455dac 180px,#4355a7 183px,#414fa3 186px,#40499f 189px,#3e449c 192px,#3d409a 195px,#3d3d98 198px,#3d3c98 201px,#3c3c98 204px,#3c3b97 207px,#3c3b97 210px,#3c3a97 213px,#3c3a96 216px,#3c3a96 219px,#3c3996 222px,#3c3996 228px,#3c3895 231px,#3c3895 234px,#3b3895 237px,#3b3895 240px,#3b3795 243px,#3b3795 249px,#3b3794 252px,#3b3794 258px,#3b3694 261px,#3b3694 288px)"></i>
<i style="left:331.52px;width:7.64px;background:linear-gradient(#445aaa 0px,#455eac 3px,#4662ae 6px,#4765b0 9px,#4768b2 12px,#486bb4 15px,#496db5 18px,#496eb6 21px,#4970b7 24px,#4a71b8 27px,#4a73b8 30px,#4a74b9 33px,#4b76ba 36px,#4b77bb 39px,#4c79bc 42px,#4c7cbe 45px,#4d7fc0 48px,#4e84c3 51px,#508bc7 54px,#5198a4 57px,#51ab6e 60px,#56ba4c 63px,#6ac155 66px,#89cb63 69px,#a8d671 72px,#c8e17f 75px,#eaec8e 78px,#f5ed91 81px,#e9da88 84px,#cfb676 87px,#b49264 90px,#9b7053 93px,#8e5d4d 96px,#9f7668 99px,#ae8b7f 102px,#ba9d93 105px,#c3a9a0 108px,#c8b0a8 111px,#cbb5ae 114px,#cdb7b0 117px,#cbb4ad 120px,#c6aea5 123px,#bfa49b 126px,#b39287 129px,#a47d70 132px,#916252 135px,#9a6e52 138px,#b79566 141px,#d6c07b 144px,#f5eb90 147px,#eeed90 150px,#b7db78 153px,#82c960 156px,#5abb4e 159px,#52b25a 162px,#51a878 165px,#5092b5 168px,#4d7ebf 171px,#4970b7 174px,#4766b1 177px,#445cab 180px,#4254a6 183px,#414ea2 186px,#40489f 189px,#3e439c 192px,#3d3f9a 195px,#3d3d98 198px,#3d3c98 201px,#3c3c97 204px,#3c3b97 207px,#3c3b97 210px,#3c3a97 213px,#3c3a96 216px,#3c3a96 219px,#3c3996 222px,#3c3996 228px,#3c3895 231px,#3b3895 234px,#3b3895 240px,#3b3795 243px,#3b3795 249px,#3b3794 252px,#3b3794 258px,#3b3694 261px,#3b3694 288px)"></i>
<i style="left:338.56px;width:7.64px;background:linear-gradient(#445baa 0px,#455fad 3px,#4663af 6px,#4766b1 9px,#4869b3 12px,#486cb4 15px,#496eb6 18px,#4970b7 21px,#4a71b8 24px,#4a72b8 27px,#4a74b9 30px,#4b75ba 33px,#4b77bb 36px,#4b78bc 39px,#4c7abd 42px,#4c7cbe 45px,#4d7fc0 48px,#4e83c2 51px,#5089c6 54px,#5094ad 57px,#51a876 60px,#55b94b 63px,#67c054 66px,#86ca62 69px,#a5d56f 72px,#c5df7d 75px,#e6ea8c 78px,#f4ee92 81px,#ede08b 84px,#d4be7a 87px,#ba9a68 90px,#a27957 93px,#8c5b49 96px,#996e5f 99px,#a78275 102px,#b49489 105px,#bda096 108px,#c2a79e 111px,#c5ada4 114px,#c7afa7 117px,#c5aca3 120px,#c0a59c 123px,#b99b91 126px,#ac897d 129px,#9d7365 132px,#8a5847 135px,#a37a58 138px,#c0a16c 141px,#decb81 144px,#f5ed91 147px,#e3ea8b 150px,#aed874 153px,#7bc75d 156px,#58bb4d 159px,#52b15e 162px,#51a67d 165px,#508ec0 168px,#4c7cbe 171px,#496eb6 174px,#4664b0 177px,#445baa 180px,#4253a5 183px,#414da2 186px,#3f479e 189px,#3e439c 192px,#3d3f99 195px,#3d3d98 198px,#3d3c98 201px,#3c3c97 204px,#3c3b97 207px,#3c3b97 210px,#3c3a97 213px,#3c3a96 216px,#3c3996 219px,#3c3996 228px,#3c3895 231px,#3b3895 234px,#3b3895 237px,#3b3795 240px,#3b3795 249px,#3b3794 252px,#3b3794 258px,#3b3694 261px,#3b3694 288px)"></i>
<i style="left:345.60px;width:7.64px;background:linear-gradient(#445cab 0px,#4560ad 3px,#4664af 6px,#4767b1 9px,#486ab3 12px,#486db5 15px,#496fb6 18px,#4970b7 21px,#4a72b8 24px,#4a73b9 27px,#4a74b9 30px,#4b76ba 33px,#4b77bb 36px,#4b79bc 39px,#4c7abd 42px,#4c7cbe 45px,#4d7fc0 48px,#4e83c2 51px,#4f88c5 54px,#5091b7 57px,#51a481 60px,#53b84a 63px,#63bf52 66px,#82c960 69px,#a1d36e 72px,#c0de7b 75px,#e0e98a 78px,#f4ee92 81px,#f2e78e 84px,#dac67e 87px,#c2a56d 90px,#aa845d 93px,#94664e 96px,#926353 99px,#a0786a 102px,#ad897d 105px,#b5968b 108px,#ba9d93 111px,#bea399 114px,#c0a59c 117px,#bea298 120px,#b99b91 123px,#b29186 126px,#a57e71 129px,#956858 132px,#94654e 135px,#ad885f 138px,#cab073 141px,#e7d887 144px,#f4ee92 147px,#d7e686 150px,#a4d46f 153px,#74c45a 156px,#57ba4c 159px,#52af62 162px,#51a384 165px,#508ac7 168px,#4c79bc 171px,#486cb5 174px,#4662ae 177px,#4459a9 180px,#4251a4 183px,#404ca1 186px,#3f469e 189px,#3e429b 192px,#3d3e99 195px,#3d3c98 198px,#3c3c98 201px,#3c3b97 204px,#3c3b97 210px,#3c3a96 213px,#3c3a96 216px,#3c3996 219px,#3c3996 225px,#3c3895 228px,#3c3895 231px,#3b3895 234px,#3b3895 237px,#3b3795 240px,#3b3795 249px,#3b3794 252px,#3b3794 258px,#3b3694 261px,#3b3694 288px)"></i>
<i style="left:352.64px;width:7.64px;background:linear-gradient(#455dab 0px,#4661ae 3px,#4664b0 6px,#4767b1 9px,#486ab3 12px,#486cb5 15px,#496fb6 18px,#4970b7 21px,#4a72b8 24px,#4a73b9 27px,#4a74b9 30px,#4b76ba 33px,#4b77bb 36px,#4b79bc 39px,#4c7abd 42px,#4c7cbe 45px,#4d7ebf 48px,#4e82c1 51px,#4f86c4 54px,#508ec0 57px,#51a08d 60px,#52b650 63px,#5ebd50 66px,#7ec85e 69px,#9cd26c 72px,#bbdc79 75px,#dbe787 78px,#f4ee92 81px,#f6ec91 84px,#e0ce82 87px,#c8ad72 90px,#b18d61 93px,#9b7053 96px,#8a5847 99px,#996d5e 102px,#a57f72 105px,#ae8b7f 108px,#b39287 111px,#b7988d 114px,#b89a90 117px,#b6978d 120px,#b19085 123px,#aa867a 126px,#9d7365 129px,#8c5b4a 132px,#9d7254 135px,#b79566 138px,#d3bc79 141px,#f0e48d 144px,#f4ee92 147px,#cbe280 150px,#9ad16b 153px,#6dc257 156px,#54b94b 159px,#52ae67 162px,#51a08d 165px,#4f87c4 168px,#4b76bb 171px,#486ab3 174px,#4560ad 177px,#4357a8 180px,#4150a4 183px,#404aa0 186px,#3f459d 189px,#3e419a 192px,#3d3d98 195px,#3d3c98 198px,#3c3c97 201px,#3c3b97 204px,#3c3b97 207px,#3c3a97 210px,#3c3a96 213px,#3c3a96 216px,#3c3996 219px,#3c3996 225px,#3c3895 228px,#3c3895 231px,#3b3895 234px,#3b3895 237px,#3b3795 240px,#3b3795 249px,#3b3794 252px,#3b3794 255px,#3b3694 258px,#3b3694 288px)"></i>
<i style="left:359.68px;width:7.64px;background:linear-gradient(#455eac 0px,#4661ae 3px,#4664b0 6px,#4767b1 9px,#486ab3 12px,#486cb4 15px,#496eb6 18px,#4970b7 21px,#4a71b8 24px,#4a73b8 27px,#4a74b9 30px,#4b75ba 33px,#4b77bb 36px,#4b78bc 39px,#4c7abd 42px,#4c7bbe 45px,#4d7ebf 48px,#4d81c1 51px,#4e85c3 54px,#508bc7 57px,#519a9c 60px,#52b15d 63px,#5bbc4f 66px,#77c65b 69px,#96d069 72px,#b5da77 75px,#d4e584 78px,#f3ef92 81px,#f5ed91 84px,#e7d787 87px,#d0b877 90px,#b99967 93px,#a47c59 96px,#92634c 99px,#906151 102px,#9d7365 105px,#a68073 108px,#ab877b 111px,#af8c81 114px,#b08f83 117px,#ae8c80 120px,#a98578 123px,#a27a6c 126px,#946657 129px,#91624c 132px,#a8815b 135px,#c2a56d 138px,#decb81 141px,#f6ec91 144px,#eded8f 147px,#bedd7b 150px,#8fcd66 153px,#64bf53 156px,#52b84a 159px,#51ac6c 162px,#519b9b 165px,#4e83c2 168px,#4a73b9 171px,#4768b2 174px,#455eac 177px,#4355a7 180px,#414ea3 183px,#40499f 186px,#3e449c 189px,#3d409a 192px,#3d3d98 195px,#3c3c98 198px,#3c3b97 201px,#3c3b97 207px,#3c3a97 210px,#3c3a96 213px,#3c3996 216px,#3c3996 225px,#3c3895 228px,#3b3895 231px,#3b3895 237px,#3b3795 240px,#3b3795 246px,#3b3794 249px,#3b3794 255px,#3b3694 258px,#3b3694 288px)"></i>
<i style="left:366.72px;width:7.64px;background:linear-gradient(#455fad 0px,#4662ae 3px,#4765b0 6px,#4767b1 9px,#4869b3 12px,#486cb4 15px,#496eb5 18px,#496fb6 21px,#4a71b7 24px,#4a72b8 27px,#4a74b9 30px,#4b75ba 33px,#4b76bb 36px,#4b78bb 39px,#4c79bc 42px,#4c7bbd 45px,#4d7dbf 48px,#4d80c0 51px,#4e83c2 54px,#4f89c6 57px,#5094ae 60px,#51aa70 63px,#57ba4d 66px,#6ec257 69px,#8ecd65 72px,#add873 75px,#cce281 78px,#ebec8f 81px,#f5ed91 84px,#eee08b 87px,#d7c27c 90px,#c1a36c 93px,#ab865e 96px,#996d51 99px,#8c5b48 102px,#916252 105px,#9a6e5f 108px,#a1786a 111px,#a57f72 114px,#a78275 117px,#a57f72 120px,#9f7567 123px,#956858 126px,#8a5847 129px,#9a6e52 132px,#b18d62 135px,#ccb374 138px,#e9da88 141px,#f5ed91 144px,#dee889 147px,#b0d874 150px,#83c960 153px,#5dbc4f 156px,#52b553 159px,#51a973 162px,#5095ac 165px,#4d7fc0 168px,#4970b7 171px,#4765b0 174px,#445baa 177px,#4253a6 180px,#414da2 183px,#3f479e 186px,#3e439c 189px,#3d3f99 192px,#3d3c98 195px,#3c3c97 198px,#3c3b97 201px,#3c3b97 204px,#3c3a97 207px,#3c3a96 210px,#3c3a96 213px,#3c3996 216px,#3c3996 222px,#3c3895 225px,#3c3895 228px,#3b3895 231px,#3b3895 234px,#3b3795 237px,#3b3795 246px,#3b3794 249px,#3b3794 255px,#3b3694 258px,#3b3694 288px)"></i>
<i style="left:373.76px;width:6.04px;background:linear-gradient(#4560ad 0px,#4663af 3px,#4765b0 6px,#4767b1 9px,#4869b3 12px,#486bb4 15px,#496db5 18px,#496fb6 21px,#4970b7 24px,#4a72b8 27px,#4a73b9 30px,#4a74b9 33px,#4b76ba 36px,#4b77bb 39px,#4b79bc 42px,#4c7abd 45px,#4c7cbe 48px,#4d7fc0 51px,#4e82c2 54px,#4f87c4 57px,#508ebd 60px,#51a287 63px,#52b84a 66px,#63bf52 69px,#82c960 72px,#a0d36d 75px,#bfde7b 78px,#dee889 81px,#f4ee92 84px,#f3e98f 87px,#decb80 90px,#c9ae72 93px,#b69465 96px,#a57d59 99px,#96694f 102px,#8a5847 105px,#936555 108px,#986c5d 111px,#9c7263 114px,#9e7466 117px,#9c7263 120px,#976a5b 123px,#8f5f4e 126px,#94664e 129px,#a77f5b 132px,#bd9e6a 135px,#d7c17c 138px,#f2e78f 141px,#f3ef92 144px,#cae180 147px,#9ed26c 150px,#75c55a 153px,#59bb4d 156px,#52b25c 159px,#51a67c 162px,#508ebe 165px,#4c7bbd 168px,#496db5 171px,#4662ae 174px,#4459a9 177px,#4251a4 180px,#404ba0 183px,#3f469d 186px,#3e419b 189px,#3d3e99 192px,#3c3c98 195px,#3c3b97 198px,#3c3b97 204px,#3c3a96 207px,#3c3a96 210px,#3c3996 213px,#3c3996 222px,#3c3895 225px,#3b3895 228px,#3b3895 234px,#3b3795 237px,#3b3795 246px,#3b3794 249px,#3b3794 255px,#3b3694 258px,#3b3694 288px)"></i>
<i style="left:399.40px;width:3.75px;background:linear-gradient(#4768b2 0px,#4869b3 3px,#486ab3 6px,#486cb4 9px,#496db5 12px,#496eb6 15px,#4970b7 18px,#4a71b7 21px,#4a72b8 24px,#4a73b9 27px,#4a75ba 30px,#4b76ba 33px,#4b77bb 36px,#4b78bc 39px,#4c79bc 42px,#4c7bbd 45px,#4c7cbe 48px,#4d7ebf 51px,#4d81c1 54px,#4e83c2 57px,#4f88c5 60px,#508dc1 63px,#5198a4 66px,#51a67d 69px,#52b358 72px,#56b94c 75px,#5bbc4f 78px,#65bf53 81px,#77c55b 84px,#8acc64 87px,#a0d36d 90px,#b8db78 93px,#d1e483 96px,#eced8f 99px,#f4ee92 102px,#f1e58e 105px,#ddca80 108px,#cdb375 111px,#bea06b 114px,#b39063 117px,#ab855e 120px,#a77f5b 123px,#a47b59 126px,#a47b59 129px,#a67f5a 132px,#ab855d 135px,#b18e62 138px,#bc9d69 141px,#c9ae72 144px,#d8c37d 147px,#eadb88 150px,#f5ed91 153px,#f3ef92 156px,#e3ea8b 159px,#cfe382 162px,#bcdd7a 165px,#aad671 168px,#97d069 171px,#85ca61 174px,#72c459 177px,#5ebd50 180px,#55b94b 183px,#52ae67 186px,#51a08c 189px,#5096a9 192px,#508dc1 195px,#4f86c4 198px,#4d80c1 201px,#4c7cbe 204px,#4b76bb 207px,#4a72b8 210px,#496db5 213px,#4869b3 216px,#4765b0 219px,#4560ad 222px,#445cab 225px,#4459a9 228px,#4355a7 231px,#4252a5 234px,#414fa3 237px,#404ca1 240px,#40499f 243px,#3f479e 246px,#3f459d 249px,#3e439c 252px,#3e419b 255px,#3d409a 258px,#3d3e99 261px,#3d3d98 264px,#3d3d98 288px)"></i>
<i style="left:402.55px;width:7.64px;background:linear-gradient(#4768b2 0px,#4869b3 3px,#486bb4 6px,#486cb4 9px,#496db5 12px,#496fb6 15px,#4970b7 18px,#4a71b8 21px,#4a73b8 24px,#4a74b9 27px,#4b75ba 30px,#4b76ba 33px,#4b77bb 36px,#4b78bc 39px,#4c7abd 42px,#4c7bbd 45px,#4c7dbe 48px,#4d7ebf 51px,#4d81c1 54px,#4e84c3 57px,#4f88c5 60px,#508dc0 63px,#5198a3 66px,#51a67c 69px,#52b357 72px,#56ba4c 75px,#5bbc4f 78px,#65bf53 81px,#77c55b 84px,#8bcc64 87px,#a2d46e 90px,#badc79 93px,#d4e484 96px,#eeed90 99px,#f4ee92 102px,#f2e68e 105px,#e1cf83 108px,#d2bb78 111px,#c6aa70 114px,#bc9c69 117px,#b59365 120px,#b18e62 123px,#af8a60 126px,#af8a60 129px,#b18d62 132px,#b59264 135px,#ba9a68 138px,#c3a66e 141px,#ceb576 144px,#dcc87f 147px,#ebdc89 150px,#f5ed91 153px,#f4ee92 156px,#e6eb8c 159px,#d2e483 162px,#bfde7b 165px,#acd773 168px,#9ad16b 171px,#88cb62 174px,#75c55a 177px,#60be51 180px,#56ba4c 183px,#52b060 186px,#51a287 189px,#5197a5 192px,#508ebe 195px,#4f87c5 198px,#4e81c1 201px,#4c7cbe 204px,#4b77bb 207px,#4a73b8 210px,#496eb6 213px,#486ab3 216px,#4765b0 219px,#4661ae 222px,#455dab 225px,#4459a9 228px,#4356a7 231px,#4252a5 234px,#414fa3 237px,#404ca1 240px,#404aa0 243px,#3f479e 246px,#3f459d 249px,#3e439c 252px,#3e429b 255px,#3d409a 258px,#3d3e99 261px,#3d3d98 264px,#3d3d98 288px)"></i>
<i style="left:409.59px;width:7.64px;background:linear-gradient(#4768b2 0px,#4869b3 3px,#486bb4 6px,#486cb4 9px,#496db5 12px,#496fb6 15px,#4970b7 18px,#4a72b8 21px,#4a73b9 24px,#4a74b9 27px,#4b75ba 30px,#4b76bb 33px,#4b77bb 36px,#4b79bc 39px,#4c7abd 42px,#4c7bbd 45px,#4c7dbe 48px,#4d7fc0 51px,#4d81c1 54px,#4e84c3 57px,#4f88c5 60px,#508ebf 63px,#5199a0 66px,#51a77a 69px,#52b456 72px,#56ba4c 75px,#5cbc4f 78px,#66c054 81px,#78c65c 84px,#8dcd65 87px,#a5d56f 90px,#bedd7a 93px,#d7e686 96px,#f2ef91 99px,#f5ed91 102px,#f2e68e 105px,#e3d284 108px,#d6c17b 111px,#ccb274 114px,#c3a66e 117px,#be9f6a 120px,#ba9a68 123px,#b89766 126px,#b79666 129px,#b99967 132px,#bd9d6a 135px,#c1a36d 138px,#c9ae72 141px,#d2bb78 144px,#decb80 147px,#ebdd89 150px,#f6ec91 153px,#f4ee92 156px,#ebec8f 159px,#d7e686 162px,#c3df7d 165px,#b1d975 168px,#9ed26c 171px,#8bcc64 174px,#78c65b 177px,#64bf53 180px,#58ba4d 183px,#52b358 186px,#51a481 189px,#5199a0 192px,#5090ba 195px,#4f88c5 198px,#4e82c2 201px,#4d7dbf 204px,#4b78bc 207px,#4a73b9 210px,#496fb6 213px,#486ab3 216px,#4766b1 219px,#4662ae 222px,#455eac 225px,#445aaa 228px,#4356a7 231px,#4253a5 234px,#4150a3 237px,#414da2 240px,#404aa0 243px,#3f489f 246px,#3f469d 249px,#3e449c 252px,#3e429b 255px,#3e409a 258px,#3d3f99 261px,#3d3e99 264px,#3d3d98 267px,#3d3d98 288px)"></i>
<i style="left:416.63px;width:7.64px;background:linear-gradient(#4768b2 0px,#4869b3 3px,#486bb4 6px,#486cb5 9px,#496eb5 12px,#496fb6 15px,#4971b7 18px,#4a72b8 21px,#4a73b9 24px,#4a75ba 27px,#4b76ba 30px,#4b77bb 33px,#4b78bb 36px,#4c79bc 39px,#4c7abd 42px,#4c7bbe 45px,#4d7dbf 48px,#4d7fc0 51px,#4e81c1 54px,#4e84c3 57px,#4f89c6 60px,#508fbc 63px,#519a9d 66px,#51a876 69px,#52b553 72px,#56ba4c 75px,#5cbc4f 78px,#68c054 81px,#7ac65d 84px,#90ce66 87px,#a9d671 90px,#c2df7d 93px,#dde788 96px,#f3ef92 99px,#f5ed91 102px,#f3e88f 105px,#e5d585 108px,#d9c47d 111px,#cfb777 114px,#c7ac71 117px,#c3a66e 120px,#bfa16b 123px,#bd9e6a 126px,#bd9d6a 129px,#bea06b 132px,#c1a46d 135px,#c5a96f 138px,#ccb274 141px,#d4be7a 144px,#dfcc81 147px,#ebde8a 150px,#f6ec91 153px,#f4ee92 156px,#f1ee91 159px,#dde888 162px,#cae180 165px,#b6db77 168px,#a2d46e 171px,#8fcd66 174px,#7bc75d 177px,#67c054 180px,#5abb4e 183px,#52b650 186px,#51a67b 189px,#519b9c 192px,#5091b6 195px,#508ac6 198px,#4e83c2 201px,#4d7ebf 204px,#4c79bc 207px,#4a74b9 210px,#4970b7 213px,#486bb4 216px,#4767b1 219px,#4663af 222px,#455eac 225px,#445baa 228px,#4357a8 231px,#4254a6 234px,#4150a4 237px,#414da2 240px,#404aa0 243px,#3f489f 246px,#3f469e 249px,#3e449c 252px,#3e429b 255px,#3e409a 258px,#3d3f99 261px,#3d3e99 264px,#3d3d98 267px,#3d3d98 288px)"></i>
<i style="left:423.67px;width:7.64px;background:linear-gradient(#4768b2 0px,#4869b3 3px,#486bb4 6px,#486cb5 9px,#496eb6 12px,#496fb6 15px,#4a71b7 18px,#4a72b8 21px,#4a74b9 24px,#4b75ba 27px,#4b76ba 30px,#4b77bb 33px,#4b78bc 36px,#4c79bc 39px,#4c7abd 42px,#4c7cbe 45px,#4d7dbf 48px,#4d7fc0 51px,#4e81c1 54px,#4e85c3 57px,#5089c6 60px,#5090b8 63px,#519c98 66px,#51aa72 69px,#52b650 72px,#57ba4d 75px,#5dbc4f 78px,#69c155 81px,#7cc75e 84px,#93cf67 87px,#abd772 90px,#c5e07e 93px,#dfe889 96px,#f3ef92 99px,#f5ed91 102px,#f2e78e 105px,#e5d585 108px,#dac57e 111px,#d0b877 114px,#c8ae72 117px,#c4a76f 120px,#c1a36c 123px,#bea06b 126px,#be9f6b 129px,#bfa16c 132px,#c2a56e 135px,#c6aa70 138px,#ccb274 141px,#d4be7a 144px,#decb81 147px,#eadc89 150px,#f6ec91 153px,#f4ee92 156px,#f3ef92 159px,#e0e98a 162px,#cce281 165px,#b9db78 168px,#a5d570 171px,#92ce67 174px,#7ec85e 177px,#6ac155 180px,#5bbc4f 183px,#52b84a 186px,#51a974 189px,#519c97 192px,#5092b2 195px,#508bc7 198px,#4e84c3 201px,#4d7fc0 204px,#4c7abd 207px,#4b75ba 210px,#4970b7 213px,#486cb4 216px,#4768b2 219px,#4663af 222px,#455fad 225px,#445baa 228px,#4357a8 231px,#4254a6 234px,#4251a4 237px,#414ea2 240px,#404ba1 243px,#40489f 246px,#3f469e 249px,#3f449d 252px,#3e439c 255px,#3e419a 258px,#3d3f9a 261px,#3d3e99 264px,#3d3d98 267px,#3d3d98 288px)"></i>
<i style="left:430.71px;width:7.64px;background:linear-gradient(#4768b2 0px,#4869b3 3px,#486bb4 6px,#486db5 9px,#496eb6 12px,#4970b7 15px,#4a71b7 18px,#4a72b8 21px,#4a74b9 24px,#4b75ba 27px,#4b76bb 30px,#4b77bb 33px,#4b78bc 36px,#4c79bc 39px,#4c7bbd 42px,#4c7cbe 45px,#4d7ebf 48px,#4d7fc0 51px,#4e82c2 54px,#4f85c4 57px,#508ac7 60px,#5092b4 63px,#519e92 66px,#51ac6d 69px,#52b74c 72px,#58ba4d 75px,#5dbd50 78px,#6cc256 81px,#7fc85f 84px,#96d069 87px,#aed874 90px,#c8e17f 93px,#e2e98a 96px,#f3ef92 99px,#f5ed91 102px,#f1e68e 105px,#e5d485 108px,#dac57e 111px,#d1b977 114px,#c9ae72 117px,#c5a86f 120px,#c1a46d 123px,#bfa16b 126px,#bfa06b 129px,#c0a26c 132px,#c3a66e 135px,#c6ab70 138px,#ccb274 141px,#d4bd7a 144px,#ddca80 147px,#e9da88 150px,#f6ec91 153px,#f5ed91 156px,#f3ef92 159px,#e3ea8b 162px,#cfe382 165px,#bcdc79 168px,#a8d671 171px,#94cf68 174px,#81c95f 177px,#6dc257 180px,#5cbc4f 183px,#54b94b 186px,#51ab6d 189px,#519e93 192px,#5094af 195px,#508cc4 198px,#4f85c4 201px,#4d80c0 204px,#4c7bbd 207px,#4b76ba 210px,#4a71b7 213px,#486db5 216px,#4768b2 219px,#4664b0 222px,#4560ad 225px,#445cab 228px,#4358a8 231px,#4355a6 234px,#4251a4 237px,#414ea3 240px,#404ba1 243px,#40499f 246px,#3f479e 249px,#3f459d 252px,#3e439c 255px,#3e419b 258px,#3d3f9a 261px,#3d3e99 264px,#3d3d98 267px,#3d3d98 288px)"></i>
<i style="left:437.75px;width:7.64px;background:linear-gradient(#4768b2 0px,#4869b3 3px,#486bb4 6px,#486db5 9px,#496eb6 12px,#4970b7 15px,#4a71b8 18px,#4a73b8 21px,#4a74b9 24px,#4b75ba 27px,#4b76bb 30px,#4b77bb 33px,#4b78bc 36px,#4c7abd 39px,#4c7bbd 42px,#4c7cbe 45px,#4d7ebf 48px,#4d80c0 51px,#4e83c2 54px,#4f86c4 57px,#508bc6 60px,#5094af 63px,#51a08c 66px,#52ae67 69px,#52b84a 72px,#59bb4d 75px,#5ebd50 78px,#6ec257 81px,#82c960 84px,#99d16a 87px,#b2d975 90px,#cbe280 93px,#e5ea8c 96px,#f4ee92 99px,#f5ed91 102px,#f0e48d 105px,#e4d385 108px,#d9c57d 111px,#d0b877 114px,#c9ae72 117px,#c5a86f 120px,#c2a46d 123px,#bfa16c 126px,#bfa06b 129px,#c0a26c 132px,#c3a66e 135px,#c6aa70 138px,#cbb174 141px,#d3bc79 144px,#dcc97f 147px,#e8d987 150px,#f5ea90 153px,#f5ed91 156px,#f3ef92 159px,#e5ea8c 162px,#d2e483 165px,#bedd7b 168px,#abd772 171px,#97d069 174px,#83ca61 177px,#70c358 180px,#5ebd50 183px,#55b94c 186px,#52ae65 189px,#519f8f 192px,#5095ab 195px,#508dc2 198px,#4f86c4 201px,#4d81c1 204px,#4c7cbe 207px,#4b77bb 210px,#4a72b8 213px,#496db5 216px,#4869b3 219px,#4765b0 222px,#4560ad 225px,#445cab 228px,#4459a9 231px,#4355a7 234px,#4252a5 237px,#414fa3 240px,#404ca1 243px,#40499f 246px,#3f479e 249px,#3f459d 252px,#3e439c 255px,#3e419b 258px,#3d409a 261px,#3d3e99 264px,#3d3d98 267px,#3d3d98 282px,#3d3c98 285px,#3d3c98 288px)"></i>
<i style="left:444.79px;width:7.64px;background:linear-gradient(#4768b2 0px,#4869b3 3px,#486bb4 6px,#496db5 9px,#496eb6 12px,#4970b7 15px,#4a71b8 18px,#4a73b9 21px,#4a74b9 24px,#4b76ba 27px,#4b77bb 30px,#4b78bb 33px,#4b79bc 36px,#4c7abd 39px,#4c7bbe 42px,#4c7dbe 45px,#4d7ebf 48px,#4d81c1 51px,#4e84c3 54px,#4f88c5 57px,#508dc1 60px,#5197a6 63px,#51a482 66px,#52b15e 69px,#54b94b 72px,#5abb4e 75px,#62be52 78px,#73c459 81px,#87cb62 84px,#9ed26c 87px,#b7db77 90px,#d0e383 93px,#eaec8e 96px,#f4ee92 99px,#f6ec91 102px,#ecdf8a 105px,#e0ce82 108px,#d6c07b 111px,#cdb475 114px,#c5a970 117px,#c1a46d 120px,#be9f6b 123px,#bc9c69 126px,#bb9b69 129px,#bc9d69 132px,#bfa06b 135px,#c2a56e 138px,#c8ad71 141px,#d0b877 144px,#d9c57d 147px,#e5d485 150px,#f1e58e 153px,#f5ed91 156px,#f3ef92 159px,#e5ea8c 162px,#d2e483 165px,#bedd7b 168px,#abd772 171px,#98d16a 174px,#86ca62 177px,#73c459 180px,#60be51 183px,#57ba4c 186px,#52b15e 189px,#51a18a 192px,#5196a8 195px,#508ebf 198px,#4f87c5 201px,#4e81c1 204px,#4c7cbe 207px,#4b77bb 210px,#4a72b8 213px,#496eb6 216px,#4869b3 219px,#4765b0 222px,#4661ae 225px,#455dab 228px,#4459a9 231px,#4356a7 234px,#4252a5 237px,#414fa3 240px,#404ca1 243px,#4049a0 246px,#3f479e 249px,#3f459d 252px,#3e439c 255px,#3e429b 258px,#3d409a 261px,#3d3f99 264px,#3d3e99 267px,#3d3d98 270px,#3d3d98 279px,#3d3c98 282px,#3d3c98 288px)"></i>
<i style="left:451.83px;width:7.64px;background:linear-gradient(#4768b2 0px,#4869b3 3px,#486bb4 6px,#496db5 9px,#496eb6 12px,#4970b7 15px,#4a71b8 18px,#4a73b9 21px,#4a74b9 24px,#4b76ba 27px,#4b77bb 30px,#4b78bc 33px,#4c79bc 36px,#4c7abd 39px,#4c7cbe 42px,#4d7dbf 45px,#4d7fc0 48px,#4e82c1 51px,#4f85c4 54px,#508ac6 57px,#5091b7 60px,#519c98 63px,#51a974 66px,#52b553 69px,#56ba4c 72px,#5cbc4f 75px,#67c054 78px,#7ac65c 81px,#90ce66 84px,#a8d671 87px,#c1de7c 90px,#dbe787 93px,#f3ef92 96px,#f5ed91 99px,#f3e78f 102px,#e6d686 105px,#dac57e 108px,#cfb776 111px,#c6ab70 114px,#bfa16b 117px,#bb9b68 120px,#b89766 123px,#b59365 126px,#b59264 129px,#b69465 132px,#b99867 135px,#bc9d69 138px,#c2a56d 141px,#cbb073 144px,#d4be7a 147px,#e0ce82 150px,#eee08b 153px,#f5ed91 156px,#f4ee92 159px,#e8eb8d 162px,#d4e584 165px,#c0de7c 168px,#aed873 171px,#9bd16b 174px,#88cb63 177px,#75c55a 180px,#62be52 183px,#58bb4d 186px,#52b357 189px,#51a385 192px,#5198a4 195px,#508fbc 198px,#4f88c5 201px,#4e82c2 204px,#4d7dbf 207px,#4b78bc 210px,#4a73b9 213px,#496eb6 216px,#486ab3 219px,#4766b1 222px,#4662ae 225px,#455dac 228px,#445aa9 231px,#4356a7 234px,#4253a5 237px,#414fa3 240px,#414ca1 243px,#404aa0 246px,#3f479e 249px,#3f469d 252px,#3e449c 255px,#3e429b 258px,#3e409a 261px,#3d3f99 264px,#3d3e99 267px,#3d3d98 270px,#3d3d98 279px,#3d3c98 282px,#3d3c98 288px)"></i>
<i style="left:458.87px;width:7.64px;background:linear-gradient(#4767b2 0px,#4869b3 3px,#486bb4 6px,#486db5 9px,#496eb6 12px,#4970b7 15px,#4a72b8 18px,#4a73b9 21px,#4a75ba 24px,#4b76ba 27px,#4b77bb 30px,#4b78bc 33px,#4c7abd 36px,#4c7bbd 39px,#4c7cbe 42px,#4d7ebf 45px,#4d80c1 48px,#4e83c2 51px,#4f87c5 54px,#508dc2 57px,#5096aa 60px,#51a288 63px,#52ae65 66px,#53b84a 69px,#59bb4d 72px,#5fbd50 75px,#6fc357 78px,#83c960 81px,#9ad16b 84px,#b4da76 87px,#cee382 90px,#e9ec8d 93px,#f4ee92 96px,#f6ec91 99px,#e9db88 102px,#dcc97f 105px,#d0b877 108px,#c5a970 111px,#bc9d6a 114px,#b59364 117px,#b08d61 120px,#ad885f 123px,#ab855d 126px,#aa845d 129px,#ab855e 132px,#ae8960 135px,#b28f62 138px,#b89767 141px,#c2a46d 144px,#cdb375 147px,#dac57e 150px,#e8d987 153px,#f6ec91 156px,#f4ee92 159px,#ecec8f 162px,#d7e585 165px,#c3df7d 168px,#b0d874 171px,#9dd26c 174px,#8bcc64 177px,#78c65b 180px,#65bf53 183px,#59bb4e 186px,#52b650 189px,#51a580 192px,#5199a0 195px,#5090b9 198px,#4f89c6 201px,#4e83c2 204px,#4d7ebf 207px,#4b78bc 210px,#4a74b9 213px,#496fb6 216px,#486bb4 219px,#4766b1 222px,#4662ae 225px,#455eac 228px,#445aaa 231px,#4356a7 234px,#4253a5 237px,#4150a4 240px,#414da2 243px,#404aa0 246px,#3f489f 249px,#3f469d 252px,#3e449c 255px,#3e429b 258px,#3e409a 261px,#3d3f99 264px,#3d3e99 267px,#3d3d98 270px,#3d3d98 276px,#3d3c98 279px,#3d3c98 288px)"></i>
<i style="left:465.91px;width:7.64px;background:linear-gradient(#4767b2 0px,#4869b3 3px,#486bb4 6px,#486db5 9px,#496eb6 12px,#4970b7 15px,#4a72b8 18px,#4a73b9 21px,#4b75ba 24px,#4b76bb 27px,#4b77bb 30px,#4b79bc 33px,#4c7abd 36px,#4c7bbe 39px,#4d7dbf 42px,#4d7fc0 45px,#4e82c1 48px,#4f85c4 51px,#508ac6 54px,#5091b8 57px,#519b9a 60px,#51a877 63px,#52b357 66px,#55b94c 69px,#5bbc4f 72px,#65bf53 75px,#78c65b 78px,#8ecd65 81px,#a7d570 84px,#c1de7c 87px,#dde788 90px,#f3ef92 93px,#f5ed91 96px,#eee18b 99px,#decc81 102px,#d1b977 105px,#c4a76f 108px,#b99867 111px,#af8b61 114px,#a8815b 117px,#a37a58 120px,#9f7556 123px,#9d7254 126px,#9c7153 129px,#9d7354 132px,#a17756 135px,#a57d59 138px,#ac865e 141px,#b69465 144px,#c2a56d 147px,#d0b877 150px,#e0ce82 153px,#f2e78e 156px,#f5ed91 159px,#f2ef91 162px,#dbe788 165px,#c7e07e 168px,#b3da76 171px,#a0d36d 174px,#8dcd65 177px,#7ac75d 180px,#67c054 183px,#5abb4e 186px,#52b84b 189px,#51a77a 192px,#519a9d 195px,#5091b7 198px,#508ac6 201px,#4e83c2 204px,#4d7ebf 207px,#4c79bc 210px,#4a74b9 213px,#4970b7 216px,#486bb4 219px,#4767b1 222px,#4663af 225px,#455eac 228px,#445aaa 231px,#4357a8 234px,#4253a6 237px,#4150a4 240px,#414da2 243px,#404aa0 246px,#3f489f 249px,#3f469e 252px,#3e449c 255px,#3e429b 258px,#3e419a 261px,#3d3f99 264px,#3d3e99 267px,#3d3d98 270px,#3d3d98 276px,#3d3c98 279px,#3d3c98 288px)"></i>
<i style="left:472.95px;width:7.64px;background:linear-gradient(#4767b2 0px,#4869b3 3px,#486bb4 6px,#486db5 9px,#496eb6 12px,#4970b7 15px,#4a72b8 18px,#4a73b9 21px,#4b75ba 24px,#4b76bb 27px,#4b78bb 30px,#4c79bc 33px,#4c7bbd 36px,#4c7cbe 39px,#4d7ebf 42px,#4d80c1 45px,#4e83c2 48px,#4f87c5 51px,#508dc3 54px,#5095ab 57px,#51a18b 60px,#52ad69 63px,#52b84b 66px,#58ba4d 69px,#5dbd50 72px,#6cc256 75px,#81c95f 78px,#98d16a 81px,#b2d975 84px,#cee382 87px,#eaec8e 90px,#f4ee92 93px,#f5ea90 96px,#e3d284 99px,#d3bb79 102px,#c4a76f 105px,#b69465 108px,#aa845d 111px,#a07756 114px,#986b51 117px,#93644d 120px,#8f5f4b 123px,#8c5b49 126px,#8b5a48 129px,#8d5c49 132px,#90614b 135px,#95674f 138px,#9d7254 141px,#a8815c 144px,#b59365 147px,#c5a96f 150px,#d6c17b 153px,#ebdc89 156px,#f5ed91 159px,#f3ef92 162px,#e1e98a 165px,#cbe280 168px,#b7db77 171px,#a3d46f 174px,#90ce66 177px,#7dc75e 180px,#6ac155 183px,#5bbc4f 186px,#53b84b 189px,#51a974 192px,#519b99 195px,#5092b4 198px,#508ac7 201px,#4e84c3 204px,#4d7fc0 207px,#4c7abd 210px,#4a75ba 213px,#4970b7 216px,#486cb4 219px,#4767b2 222px,#4663af 225px,#455fac 228px,#445baa 231px,#4357a8 234px,#4254a6 237px,#4251a4 240px,#414da2 243px,#404ba0 246px,#3f489f 249px,#3f469e 252px,#3f449d 255px,#3e429b 258px,#3e419a 261px,#3d3f9a 264px,#3d3e99 267px,#3d3d98 270px,#3d3d98 276px,#3d3c98 279px,#3d3c98 288px)"></i>
<i style="left:479.99px;width:7.64px;background:linear-gradient(#4767b1 0px,#4869b3 3px,#486bb4 6px,#486cb5 9px,#496eb6 12px,#4970b7 15px,#4a72b8 18px,#4a73b9 21px,#4b75ba 24px,#4b77bb 27px,#4b78bc 30px,#4c79bc 33px,#4c7bbd 36px,#4d7dbf 39px,#4d7fc0 42px,#4e82c1 45px,#4f85c3 48px,#508ac6 51px,#5090ba 54px,#519a9e 57px,#51a67d 60px,#52b25c 63px,#54b94b 66px,#5abb4e 69px,#62be52 72px,#74c45a 75px,#89cb63 78px,#a1d46e 81px,#bcdc79 84px,#d8e686 87px,#f3ef92 90px,#f5ed91 93px,#ecde8a 96px,#dac57e 99px,#c9ae72 102px,#ba9a68 105px,#ac865e 108px,#9f7556 111px,#95674f 114px,#8c5b49 117px,#8d5c4b 120px,#916151 123px,#936555 126px,#946757 129px,#936455 132px,#8f5f4f 135px,#8a5948 138px,#92634d 141px,#9e7354 144px,#ab865e 147px,#bc9c69 150px,#ceb575 153px,#e1d083 156px,#f6ec91 159px,#f4ee92 162px,#e5ea8c 165px,#cee382 168px,#b9db78 171px,#a5d56f 174px,#92ce67 177px,#7fc85f 180px,#6cc256 183px,#5cbc4f 186px,#54b94b 189px,#51ab6e 192px,#519d96 195px,#5093b2 198px,#508bc7 201px,#4e84c3 204px,#4d7fc0 207px,#4c7abd 210px,#4b75ba 213px,#4970b7 216px,#486cb4 219px,#4768b2 222px,#4663af 225px,#455fad 228px,#445baa 231px,#4357a8 234px,#4254a6 237px,#4251a4 240px,#414ea2 243px,#404ba1 246px,#40489f 249px,#3f469e 252px,#3f449d 255px,#3e439c 258px,#3e419b 261px,#3d3f9a 264px,#3d3e99 267px,#3d3d98 270px,#3d3d98 276px,#3d3c98 279px,#3d3c98 288px)"></i>
<i style="left:487.03px;width:7.64px;background:linear-gradient(#4767b1 0px,#4869b2 3px,#486bb4 6px,#486cb5 9px,#496eb6 12px,#4970b7 15px,#4a72b8 18px,#4a73b9 21px,#4b75ba 24px,#4b77bb 27px,#4b78bc 30px,#4c7abd 33px,#4c7cbe 36px,#4d7ebf 39px,#4d80c0 42px,#4e83c2 45px,#4f87c5 48px,#508cc5 51px,#5094af 54px,#519f90 57px,#51ab6e 60px,#52b650 63px,#57ba4c 66px,#5cbc4f 69px,#69c155 72px,#7cc75d 75px,#92ce67 78px,#abd772 81px,#c6e07e 84px,#e2e98b 87px,#f4ee92 90px,#f6ec91 93px,#e4d385 96px,#d2ba78 99px,#c1a36c 102px,#b18e62 105px,#a37a58 108px,#976950 111px,#8c5b48 114px,#906151 117px,#956859 120px,#996e5f 123px,#9c7163 126px,#9d7364 129px,#9b7062 132px,#976b5c 135px,#936455 138px,#8a5847 141px,#96684f 144px,#a47b59 147px,#b49264 150px,#c6aa70 153px,#dac67e 156px,#efe38c 159px,#f4ee92 162px,#eced8f 165px,#d4e584 168px,#bedd7a 171px,#a9d671 174px,#95d068 177px,#82c960 180px,#6fc357 183px,#5dbd50 186px,#55b94c 189px,#52ad67 192px,#519e92 195px,#5094af 198px,#508cc5 201px,#4e85c3 204px,#4d7fc0 207px,#4c7abd 210px,#4b75ba 213px,#4a71b7 216px,#486cb5 219px,#4768b2 222px,#4664af 225px,#4560ad 228px,#445cab 231px,#4358a8 234px,#4354a6 237px,#4251a4 240px,#414ea2 243px,#404ba1 246px,#40499f 249px,#3f479e 252px,#3f459d 255px,#3e439c 258px,#3e419b 261px,#3d409a 264px,#3d3e99 267px,#3d3d98 270px,#3d3d98 276px,#3d3c98 279px,#3d3c98 285px,#3c3c98 288px)"></i>
<i style="left:494.07px;width:7.64px;background:linear-gradient(#4767b1 0px,#4869b2 3px,#486ab3 6px,#486cb4 9px,#496eb6 12px,#4970b7 15px,#4a72b8 18px,#4a73b9 21px,#4b75ba 24px,#4b77bb 27px,#4b79bc 30px,#4c7abd 33px,#4c7cbe 36px,#4d7fc0 39px,#4e81c1 42px,#4e85c3 45px,#5089c6 48px,#508fbc 51px,#5198a2 54px,#51a482 57px,#52b061 60px,#53b94b 63px,#59bb4d 66px,#5fbd51 69px,#70c358 72px,#84ca61 75px,#9bd26b 78px,#b5da77 81px,#d0e383 84px,#eded8f 87px,#f5ed91 90px,#efe38c 93px,#dcc97f 96px,#caaf73 99px,#b99867 102px,#a9835c 105px,#9b6f53 108px,#8f5e4a 111px,#906050 114px,#986c5d 117px,#9d7365 120px,#a1786b 123px,#a37c6f 126px,#a47d70 129px,#a27a6d 132px,#9e7567 135px,#9a6e5f 138px,#916252 141px,#8f5e4a 144px,#9c7154 147px,#ad885f 150px,#bfa06b 153px,#d3bc79 156px,#e8d887 159px,#f5ed91 162px,#f3ef92 165px,#dbe787 168px,#c3df7d 171px,#add873 174px,#99d16a 177px,#85ca61 180px,#71c358 183px,#5ebd50 186px,#57ba4c 189px,#52b061 192px,#519f8e 195px,#5094ad 198px,#508cc4 201px,#4f85c4 204px,#4d80c0 207px,#4c7bbd 210px,#4b76ba 213px,#4a71b7 216px,#486db5 219px,#4768b2 222px,#4664b0 225px,#4560ad 228px,#445cab 231px,#4358a8 234px,#4355a6 237px,#4251a4 240px,#414ea3 243px,#404ba1 246px,#40499f 249px,#3f479e 252px,#3f459d 255px,#3e439c 258px,#3e419b 261px,#3d409a 264px,#3d3e99 267px,#3d3d98 270px,#3d3d98 276px,#3d3c98 279px,#3d3c98 282px,#3c3c98 285px,#3c3c98 288px)"></i>
<i style="left:501.11px;width:7.64px;background:linear-gradient(#4767b1 0px,#4768b2 3px,#486ab3 6px,#486cb4 9px,#496eb5 12px,#4970b7 15px,#4a71b8 18px,#4a73b9 21px,#4b75ba 24px,#4b77bb 27px,#4c79bc 30px,#4c7bbd 33px,#4d7dbf 36px,#4d80c0 39px,#4e83c2 42px,#4f86c4 45px,#508bc6 48px,#5092b2 51px,#519d95 54px,#51a974 57px,#52b455 60px,#56ba4c 63px,#5bbc4f 66px,#65bf53 69px,#77c55b 72px,#8dcd65 75px,#a6d570 78px,#c1de7c 81px,#dde888 84px,#f3ef92 87px,#f5ed91 90px,#ebdd8a 93px,#d9c47d 96px,#c6aa70 99px,#b39163 102px,#a27958 105px,#93654d 108px,#8d5c4b 111px,#976b5c 114px,#9f7668 117px,#a47d70 120px,#a88276 123px,#aa867a 126px,#ab877a 129px,#a98477 132px,#a57e71 135px,#a0786a 138px,#986c5d 141px,#8c5b4a 144px,#96684f 147px,#a8815b 150px,#bc9c69 153px,#d1b978 156px,#e6d686 159px,#f6ec91 162px,#f4ee92 165px,#e5ea8c 168px,#cce281 171px,#b5da76 174px,#9ed36c 177px,#88cb63 180px,#73c459 183px,#60be51 186px,#57ba4d 189px,#52b25b 192px,#51a18a 195px,#5095aa 198px,#508dc3 201px,#4f86c4 204px,#4d80c0 207px,#4c7bbe 210px,#4b76bb 213px,#4a71b8 216px,#496db5 219px,#4769b2 222px,#4664b0 225px,#4560ad 228px,#445cab 231px,#4358a9 234px,#4355a7 237px,#4252a5 240px,#414ea3 243px,#404ca1 246px,#40499f 249px,#3f479e 252px,#3f459d 255px,#3e439c 258px,#3e419b 261px,#3d409a 264px,#3d3e99 267px,#3d3d98 270px,#3d3d98 276px,#3d3c98 279px,#3d3c98 282px,#3c3c98 285px,#3c3c98 288px)"></i>
<i style="left:508.15px;width:7.64px;background:linear-gradient(#4767b1 0px,#4768b2 3px,#486ab3 6px,#486cb4 9px,#496eb5 12px,#496fb6 15px,#4a71b8 18px,#4a73b9 21px,#4b75ba 24px,#4b77bb 27px,#4c79bc 30px,#4c7cbe 33px,#4d7ebf 36px,#4e81c1 39px,#4e84c3 42px,#4f88c5 45px,#508ebf 48px,#5197a7 51px,#51a288 54px,#52ae67 57px,#52b84a 60px,#58ba4d 63px,#5dbd50 66px,#6bc156 69px,#7ec85e 72px,#95d068 75px,#afd874 78px,#cae180 81px,#e6eb8c 84px,#f4ee92 87px,#f6ec91 90px,#e4d485 93px,#d1b978 96px,#be9f6a 99px,#ab855e 102px,#9a6e52 105px,#8c5a48 108px,#946657 111px,#9e7567 114px,#a68073 117px,#aa867a 120px,#ae8b80 123px,#b08f83 126px,#b18f84 129px,#af8c81 132px,#ab877b 135px,#a68073 138px,#9e7466 141px,#926454 144px,#8f5e4a 147px,#9f7556 150px,#b39163 153px,#c9ae72 156px,#decc81 159px,#f3e88f 162px,#f4ee92 165px,#eced8f 168px,#d2e483 171px,#b9dc79 174px,#a2d46e 177px,#8bcc64 180px,#76c55b 183px,#62be52 186px,#58bb4d 189px,#52b456 192px,#51a287 195px,#5196a8 198px,#508dc1 201px,#4f86c4 204px,#4d80c1 207px,#4c7cbe 210px,#4b77bb 213px,#4a72b8 216px,#496db5 219px,#4869b3 222px,#4765b0 225px,#4560ad 228px,#445cab 231px,#4459a9 234px,#4355a7 237px,#4252a5 240px,#414fa3 243px,#404ca1 246px,#40499f 249px,#3f479e 252px,#3f459d 255px,#3e439c 258px,#3e419b 261px,#3d409a 264px,#3d3f99 267px,#3d3e99 270px,#3d3d98 273px,#3d3d98 276px,#3d3c98 279px,#3d3c98 282px,#3c3c98 285px,#3c3c98 288px)"></i>
<i style="left:515.19px;width:7.64px;background:linear-gradient(#4767b1 0px,#4768b2 3px,#486ab3 6px,#486cb4 9px,#496db5 12px,#496fb6 15px,#4a71b8 18px,#4a73b9 21px,#4b75ba 24px,#4b78bb 27px,#4c7abd 30px,#4c7cbe 33px,#4d7fc0 36px,#4e82c2 39px,#4f86c4 42px,#508ac7 45px,#5091b7 48px,#519b9b 51px,#51a67b 54px,#52b25b 57px,#54b94b 60px,#5abb4e 63px,#61be51 66px,#71c358 69px,#85ca61 72px,#9dd26c 75px,#b7db77 78px,#d2e484 81px,#efed90 84px,#f5ed91 87px,#f1e58d 90px,#ddca80 93px,#c9ae72 96px,#b59365 99px,#a27958 102px,#92634d 105px,#8f5f4f 108px,#9b7062 111px,#a57f71 114px,#ac897d 117px,#b08f83 120px,#b49489 123px,#b6978c 126px,#b6978d 129px,#b49489 132px,#b08f83 135px,#ac887c 138px,#a47d70 141px,#996d5e 144px,#8c5a49 147px,#986b51 150px,#ab865e 153px,#c1a36d 156px,#d7c27c 159px,#eddf8b 162px,#f5ed91 165px,#f3ef92 168px,#d8e686 171px,#bedd7b 174px,#a6d570 177px,#8ecd65 180px,#78c65c 183px,#63bf52 186px,#59bb4d 189px,#52b552 192px,#51a483 195px,#5197a5 198px,#508ec0 201px,#4f86c4 204px,#4d81c1 207px,#4c7cbe 210px,#4b77bb 213px,#4a72b8 216px,#496eb5 219px,#4869b3 222px,#4765b0 225px,#4661ae 228px,#455dab 231px,#4459a9 234px,#4355a7 237px,#4252a5 240px,#414fa3 243px,#404ca1 246px,#4049a0 249px,#3f479e 252px,#3f459d 255px,#3e439c 258px,#3e429b 261px,#3d409a 264px,#3d3f99 267px,#3d3e99 270px,#3d3d98 273px,#3d3d98 276px,#3d3c98 279px,#3c3c98 282px,#3c3c98 288px)"></i>
<i style="left:522.23px;width:7.64px;background:linear-gradient(#4766b1 0px,#4768b2 3px,#4869b3 6px,#486bb4 9px,#496db5 12px,#496fb6 15px,#4a71b7 18px,#4a73b9 21px,#4b76ba 24px,#4b78bc 27px,#4c7bbd 30px,#4d7dbf 33px,#4d80c1 36px,#4e84c3 39px,#4f87c5 42px,#508cc3 45px,#5094ad 48px,#519f8f 51px,#51ab6f 54px,#52b551 57px,#56ba4c 60px,#5bbc4f 63px,#65bf53 66px,#77c55b 69px,#8ccd65 72px,#a5d56f 75px,#bfde7b 78px,#dbe787 81px,#f3ef92 84px,#f5ed91 87px,#eadc89 90px,#d6c07b 93px,#c1a36c 96px,#ac875f 99px,#9a6e52 102px,#8b5947 105px,#96695a 108px,#a27a6d 111px,#ac887c 114px,#b29286 117px,#b7988d 120px,#ba9d93 123px,#bc9f96 126px,#bc9f96 129px,#ba9c92 132px,#b6978c 135px,#b19085 138px,#aa8579 141px,#9f7567 144px,#926353 147px,#91614c 150px,#a37b58 153px,#b99967 156px,#d0b877 159px,#e7d787 162px,#f5ed91 165px,#f3ef92 168px,#dde888 171px,#c2df7c 174px,#a9d671 177px,#91ce67 180px,#7ac75d 183px,#65bf53 186px,#59bb4e 189px,#52b64f 192px,#51a57e 195px,#5198a2 198px,#508ebe 201px,#4f87c5 204px,#4e81c1 207px,#4c7cbe 210px,#4b77bb 213px,#4a72b8 216px,#496eb5 219px,#4869b3 222px,#4765b0 225px,#4661ae 228px,#455dab 231px,#4459a9 234px,#4355a7 237px,#4252a5 240px,#414fa3 243px,#404ca1 246px,#4049a0 249px,#3f479e 252px,#3f459d 255px,#3e439c 258px,#3e429b 261px,#3e409a 264px,#3d3f99 267px,#3d3e99 270px,#3d3d98 273px,#3d3d98 276px,#3d3c98 279px,#3c3c98 282px,#3c3c98 285px,#3c3c97 288px)"></i>
<i style="left:529.27px;width:7.64px;background:linear-gradient(#4766b1 0px,#4768b2 3px,#4869b3 6px,#486bb4 9px,#496db5 12px,#496fb6 15px,#4a71b7 18px,#4a73b9 21px,#4b76ba 24px,#4b78bc 27px,#4c7bbe 30px,#4d7ebf 33px,#4e82c1 36px,#4f85c3 39px,#5089c6 42px,#508fbc 45px,#5198a3 48px,#51a384 51px,#52af64 54px,#52b84a 57px,#58ba4d 60px,#5dbd50 63px,#6ac155 66px,#7dc75e 69px,#93cf67 72px,#acd772 75px,#c7e07e 78px,#e3ea8b 81px,#f4ee92 84px,#f6ec91 87px,#e4d385 90px,#cfb676 93px,#b99967 96px,#a57d59 99px,#92634d 102px,#916252 105px,#9e7566 108px,#a98478 111px,#b39287 114px,#b99b91 117px,#bda197 120px,#c1a69d 123px,#c2a9a0 126px,#c2a89f 129px,#c0a59c 132px,#bca096 135px,#b7998e 138px,#af8d82 141px,#a57e71 144px,#996d5e 147px,#8a5847 150px,#9d7254 153px,#b39063 156px,#cab073 159px,#e2d083 162px,#f6ec91 165px,#f4ee92 168px,#e1e98a 171px,#c6e07e 174px,#acd773 177px,#94cf68 180px,#7dc75e 183px,#67c054 186px,#5abb4e 189px,#52b74d 192px,#51a67b 195px,#51999f 198px,#508fbc 201px,#4f87c5 204px,#4e81c1 207px,#4c7cbe 210px,#4b77bb 213px,#4a73b8 216px,#496eb6 219px,#486ab3 222px,#4765b0 225px,#4661ae 228px,#455dab 231px,#4459a9 234px,#4356a7 237px,#4252a5 240px,#414fa3 243px,#404ca1 246px,#404aa0 249px,#3f479e 252px,#3f459d 255px,#3e449c 258px,#3e429b 261px,#3e409a 264px,#3d3f99 267px,#3d3e99 270px,#3d3d98 273px,#3d3d98 276px,#3d3c98 279px,#3c3c98 282px,#3c3c97 285px,#3c3c97 288px)"></i>
<i style="left:536.31px;width:7.64px;background:linear-gradient(#4766b1 0px,#4767b2 3px,#4869b2 6px,#486bb4 9px,#486cb5 12px,#496fb6 15px,#4a71b7 18px,#4a73b9 21px,#4b76ba 24px,#4b79bc 27px,#4c7cbe 30px,#4d80c0 33px,#4e83c2 36px,#4f86c4 39px,#508bc7 42px,#5091b5 45px,#519c99 48px,#51a779 51px,#52b25b 54px,#54b94b 57px,#59bb4e 60px,#5fbd51 63px,#6fc357 66px,#82c960 69px,#99d16a 72px,#b2d975 75px,#cde281 78px,#eaec8e 81px,#f4ee92 84px,#f2e78e 87px,#ddca80 90px,#c7ac71 93px,#b18d62 96px,#9c7154 99px,#8a5847 102px,#996d5e 105px,#a57f72 108px,#b08f83 111px,#ba9c92 114px,#c0a59c 117px,#c4aba3 120px,#c8b0a8 123px,#c9b2ab 126px,#c9b2aa 129px,#c6aea6 132px,#c3a9a0 135px,#bea299 138px,#b6968c 141px,#ab877b 144px,#9f7668 147px,#906151 150px,#95674f 153px,#ab855e 156px,#c3a76e 159px,#dcc97f 162px,#f3e88f 165px,#f4ee92 168px,#e5ea8c 171px,#cae180 174px,#afd874 177px,#97d069 180px,#7fc85f 183px,#68c155 186px,#5abb4e 189px,#52b74c 192px,#51a877 195px,#519b9c 198px,#5090ba 201px,#4f88c5 204px,#4e82c1 207px,#4c7dbe 210px,#4b78bc 213px,#4a73b9 216px,#496eb6 219px,#486ab3 222px,#4766b1 225px,#4662ae 228px,#455dac 231px,#445aa9 234px,#4356a7 237px,#4253a5 240px,#414fa3 243px,#414ca1 246px,#404aa0 249px,#3f479e 252px,#3f469d 255px,#3e449c 258px,#3e429b 261px,#3e409a 264px,#3d3f99 267px,#3d3e99 270px,#3d3d98 273px,#3d3d98 276px,#3d3c98 279px,#3c3c98 282px,#3c3c97 285px,#3c3c97 288px)"></i>
<i style="left:543.35px;width:7.64px;background:linear-gradient(#4766b1 0px,#4767b1 3px,#4768b2 6px,#486ab3 9px,#486cb4 12px,#496eb6 15px,#4971b7 18px,#4a73b9 21px,#4b76ba 24px,#4c79bc 27px,#4d7dbf 30px,#4d81c1 33px,#4e84c3 36px,#4f88c5 39px,#508cc3 42px,#5094ad 45px,#519f90 48px,#51aa71 51px,#52b553 54px,#56b94c 57px,#5bbc4e 60px,#62bf52 63px,#73c459 66px,#87cb62 69px,#9ed26c 72px,#b8db78 75px,#d3e484 78px,#f0ee90 81px,#f5ed91 84px,#ede08b 87px,#d7c27c 90px,#c0a26c 93px,#aa835d 96px,#95674f 99px,#906151 102px,#9f7669 105px,#ac897d 108px,#b7998e 111px,#c1a79e 114px,#c7afa7 117px,#cbb5ae 120px,#cfbab3 123px,#d0bcb6 126px,#d0bcb5 129px,#cdb8b1 132px,#c9b2aa 135px,#c4aba3 138px,#bc9f95 141px,#b18f84 144px,#a57e71 147px,#96695a 150px,#8f5f4a 153px,#a57d59 156px,#be9f6b 159px,#d8c37c 162px,#f0e48d 165px,#f4ee92 168px,#e8eb8d 171px,#cce281 174px,#b1d975 177px,#98d16a 180px,#81c95f 183px,#6ac155 186px,#5abc4e 189px,#52b84b 192px,#51a974 195px,#519c99 198px,#5090b9 201px,#4f88c5 204px,#4e82c2 207px,#4d7dbf 210px,#4b78bc 213px,#4a73b9 216px,#496fb6 219px,#486ab3 222px,#4766b1 225px,#4662ae 228px,#455eac 231px,#445aa9 234px,#4356a7 237px,#4253a5 240px,#4150a3 243px,#414da2 246px,#404aa0 249px,#3f489f 252px,#3f469d 255px,#3e449c 258px,#3e429b 261px,#3e409a 264px,#3d3f99 267px,#3d3e99 270px,#3d3d98 273px,#3d3d98 276px,#3d3c98 279px,#3c3c98 282px,#3c3c97 285px,#3c3c97 288px)"></i>
<i style="left:550.39px;width:7.64px;background:linear-gradient(#4766b1 0px,#4767b1 3px,#4768b2 6px,#486ab3 9px,#486cb4 12px,#496eb6 15px,#4970b7 18px,#4a73b9 21px,#4b76ba 24px,#4c7abd 27px,#4d7ebf 30px,#4e82c1 33px,#4e85c3 36px,#4f89c6 39px,#508ebe 42px,#5197a6 45px,#51a288 48px,#52ad69 51px,#52b74e 54px,#57ba4c 57px,#5cbc4f 60px,#66c053 63px,#77c55b 66px,#8bcc64 69px,#a3d46e 72px,#bddd7a 75px,#d8e686 78px,#f3ef92 81px,#f5ed91 84px,#e9da88 87px,#d2ba78 90px,#ba9a68 93px,#a37b58 96px,#8f5f4a 99px,#96695a 102px,#a57f72 105px,#b39287 108px,#bea299 111px,#c8b0a8 114px,#ceb9b2 117px,#d2bfb8 120px,#d5c4be 123px,#d7c6c0 126px,#d6c5bf 129px,#d3c1ba 132px,#cfbbb4 135px,#cab4ac 138px,#c1a79e 141px,#b6978c 144px,#a98578 147px,#9a6f61 150px,#8b5948 153px,#a17756 156px,#ba9a68 159px,#d6c07b 162px,#efe38c 165px,#f4ee92 168px,#e8eb8d 171px,#cce281 174px,#b1d975 177px,#98d16a 180px,#81c95f 183px,#6ac155 186px,#5abb4e 189px,#52b74c 192px,#51a975 195px,#519b9a 198px,#5090b9 201px,#4f88c5 204px,#4e82c2 207px,#4d7dbf 210px,#4b78bc 213px,#4a73b9 216px,#496eb6 219px,#486ab3 222px,#4766b1 225px,#4661ae 228px,#455dac 231px,#445aa9 234px,#4356a7 237px,#4253a5 240px,#414fa3 243px,#414ca1 246px,#404aa0 249px,#3f479e 252px,#3f469d 255px,#3e449c 258px,#3e429b 261px,#3e409a 264px,#3d3f99 267px,#3d3e99 270px,#3d3d98 273px,#3d3d98 276px,#3d3c98 279px,#3c3c98 282px,#3c3c97 285px,#3c3c97 288px)"></i>
<i style="left:557.43px;width:7.64px;background:linear-gradient(#4766b1 0px,#4766b1 3px,#4767b2 6px,#4869b3 9px,#486bb4 12px,#496db5 15px,#4970b7 18px,#4a73b8 21px,#4b76ba 24px,#4c7abd 27px,#4d7fc0 30px,#4e82c2 33px,#4f86c4 36px,#508ac6 39px,#5090b9 42px,#51999f 45px,#51a481 48px,#52af63 51px,#52b84a 54px,#58ba4d 57px,#5dbc4f 60px,#68c054 63px,#7ac65c 66px,#8fcd66 69px,#a7d570 72px,#c1de7c 75px,#dde788 78px,#f3ef92 81px,#f6ec91 84px,#e5d585 87px,#cdb475 90px,#b59365 93px,#9f7455 96px,#8a5947 99px,#9b7061 102px,#ab877a 105px,#b89a90 108px,#c4aba2 111px,#ceb9b1 114px,#d4c1bb 117px,#d8c8c2 120px,#dbccc7 123px,#ddcec9 126px,#dccdc8 129px,#d9c9c3 132px,#d5c3bd 135px,#cfbbb4 138px,#c6aea5 141px,#ba9d93 144px,#ad8a7f 147px,#9e7466 150px,#8c5b4b 153px,#9e7354 156px,#b99867 159px,#d5bf7a 162px,#f0e48d 165px,#f4ee92 168px,#e5ea8c 171px,#c9e17f 174px,#aed873 177px,#95d068 180px,#7ec85e 183px,#67c054 186px,#5abb4e 189px,#52b64f 192px,#51a67b 195px,#5199a0 198px,#508ebe 201px,#4f87c4 204px,#4d81c1 207px,#4c7cbe 210px,#4b77bb 213px,#4a72b8 216px,#496db5 219px,#4869b3 222px,#4765b0 225px,#4560ad 228px,#445cab 231px,#4459a9 234px,#4355a7 237px,#4252a5 240px,#414fa3 243px,#404ca1 246px,#40499f 249px,#3f479e 252px,#3f459d 255px,#3e439c 258px,#3e429b 261px,#3d409a 264px,#3d3f99 267px,#3d3e99 270px,#3d3d98 273px,#3d3c98 276px,#3d3c98 279px,#3c3c97 282px,#3c3c97 288px)"></i>
<i style="left:564.47px;width:7.64px;background:linear-gradient(#4765b0 0px,#4766b1 3px,#4767b1 6px,#4768b2 9px,#486ab3 12px,#496db5 15px,#4970b7 18px,#4a72b8 21px,#4b76ba 24px,#4c7bbd 27px,#4d7fc0 30px,#4e83c2 33px,#4f87c4 36px,#508bc7 39px,#5092b5 42px,#519b9b 45px,#51a67d 48px,#52b05f 51px,#53b84a 54px,#58bb4d 57px,#5dbd50 60px,#6ac155 63px,#7cc75d 66px,#91ce66 69px,#a9d671 72px,#c3df7d 75px,#dfe889 78px,#f4ee92 81px,#f6ec91 84px,#e3d284 87px,#cbb173 90px,#b39063 93px,#9b7053 96px,#8d5c4b 99px,#9f7567 102px,#af8d81 105px,#bda198 108px,#c9b2ab 111px,#d4c1bb 114px,#dacac5 117px,#ded1cc 120px,#e2d5d1 123px,#e3d7d3 126px,#e2d6d2 129px,#dfd1cd 132px,#dbcbc6 135px,#d5c3bc 138px,#cbb4ad 141px,#bfa39a 144px,#b19085 147px,#a1796b 150px,#8f5f4f 153px,#9b7053 156px,#b89666 159px,#d6c07b 162px,#f2e68e 165px,#f4ee92 168px,#e1e98a 171px,#c4df7d 174px,#a9d671 177px,#91ce66 180px,#79c65c 183px,#63bf52 186px,#59bb4d 189px,#52b455 192px,#51a286 195px,#5095ab 198px,#508bc6 201px,#4e84c3 204px,#4d7fc0 207px,#4c7abd 210px,#4b75ba 213px,#4970b7 216px,#486cb4 219px,#4767b2 222px,#4663af 225px,#455fac 228px,#445baa 231px,#4357a8 234px,#4254a6 237px,#4251a4 240px,#414ea2 243px,#404ba0 246px,#40489f 249px,#3f469e 252px,#3f449d 255px,#3e439c 258px,#3e419b 261px,#3d3f9a 264px,#3d3e99 267px,#3d3d98 270px,#3d3d98 273px,#3d3c98 276px,#3c3c98 279px,#3c3c97 282px,#3c3c97 285px,#3c3b97 288px)"></i>
<i style="left:571.51px;width:7.64px;background:linear-gradient(#4765b0 0px,#4766b1 3px,#4767b1 6px,#4768b2 9px,#486ab3 12px,#486cb5 15px,#496fb6 18px,#4a72b8 21px,#4b76ba 24px,#4c7bbd 27px,#4d80c0 30px,#4e84c3 33px,#4f87c5 36px,#508cc4 39px,#5093b1 42px,#519c97 45px,#51a779 48px,#52b15d 51px,#53b94b 54px,#58bb4d 57px,#5dbd50 60px,#6bc156 63px,#7dc75e 66px,#92ce67 69px,#aad772 72px,#c4df7d 75px,#e0e98a 78px,#f4ee92 81px,#f6ec91 84px,#e2d083 87px,#cab073 90px,#b28e62 93px,#9b6f52 96px,#8e5d4d 99px,#a0776a 102px,#b19085 105px,#c0a59c 108px,#cdb7b0 111px,#d7c6c1 114px,#ded0cb 117px,#e3d6d2 120px,#e6dbd8 123px,#e7ddda 126px,#e6dcd8 129px,#e3d7d3 132px,#ded0cc 135px,#d8c7c2 138px,#ceb9b2 141px,#c1a79e 144px,#b39388 147px,#a37b6e 150px,#906150 153px,#9b6f53 156px,#b89767 159px,#d8c27c 162px,#f4ea90 165px,#f4ee92 168px,#dce788 171px,#bfde7b 174px,#a4d56f 177px,#8bcc64 180px,#74c45a 183px,#60be51 186px,#57ba4d 189px,#52b05f 192px,#519e93 195px,#5091b6 198px,#4f89c6 201px,#4e82c2 204px,#4d7dbf 207px,#4b78bc 210px,#4a73b9 213px,#496eb6 216px,#486ab3 219px,#4765b0 222px,#4661ae 225px,#455dab 228px,#4459a9 231px,#4356a7 234px,#4252a5 237px,#414fa3 240px,#404ca1 243px,#404aa0 246px,#3f479e 249px,#3f459d 252px,#3e449c 255px,#3e429b 258px,#3e409a 261px,#3d3f99 264px,#3d3e99 267px,#3d3d98 270px,#3d3c98 273px,#3d3c98 276px,#3c3c97 279px,#3c3c97 282px,#3c3b97 285px,#3c3b97 288px)"></i>
<i style="left:578.55px;width:7.64px;background:linear-gradient(#4765b0 0px,#4765b0 3px,#4766b1 6px,#4768b2 9px,#486ab3 12px,#486cb4 15px,#496fb6 18px,#4a72b8 21px,#4b75ba 24px,#4c7bbd 27px,#4d80c1 30px,#4e84c3 33px,#4f87c5 36px,#508cc3 39px,#5094af 42px,#519d95 45px,#51a878 48px,#52b25c 51px,#54b94b 54px,#59bb4d 57px,#5ebd50 60px,#6bc156 63px,#7dc75e 66px,#93cf67 69px,#abd772 72px,#c5e07e 75px,#e1e98a 78px,#f4ee92 81px,#f6ec91 84px,#e2d083 87px,#cab073 90px,#b28f63 93px,#9c7053 96px,#8d5c4b 99px,#9f7668 102px,#b08f83 105px,#bfa49b 108px,#ccb6af 111px,#d7c6c0 114px,#ddcfca 117px,#e2d6d1 120px,#e5dbd7 123px,#e7ddd9 126px,#e6dbd7 129px,#e2d6d2 132px,#decfcb 135px,#d7c6c1 138px,#cdb7b0 141px,#c0a69c 144px,#b29186 147px,#a1796c 150px,#8e5e4e 153px,#9d7354 156px,#bb9c69 159px,#dbc77f 162px,#f6ec91 165px,#f3ef92 168px,#d8e686 171px,#badc79 174px,#9fd36d 177px,#86cb62 180px,#6fc358 183px,#5dbd50 186px,#56ba4c 189px,#51ac6d 192px,#519a9e 195px,#508ebf 198px,#4f86c4 201px,#4d80c1 204px,#4c7bbe 207px,#4b76ba 210px,#4a71b7 213px,#486cb5 216px,#4768b2 219px,#4664af 222px,#455fad 225px,#445baa 228px,#4358a8 231px,#4254a6 234px,#4251a4 237px,#414ea2 240px,#404ba1 243px,#40499f 246px,#3f469e 249px,#3f459d 252px,#3e439c 255px,#3e419b 258px,#3d409a 261px,#3d3e99 264px,#3d3d98 267px,#3d3d98 270px,#3d3c98 273px,#3c3c98 276px,#3c3c97 279px,#3c3c97 282px,#3c3b97 285px,#3c3b97 288px)"></i>
<i style="left:585.59px;width:7.64px;background:linear-gradient(#4765b0 0px,#4765b0 3px,#4766b1 6px,#4768b2 9px,#4869b3 12px,#486cb4 15px,#496eb6 18px,#4a71b8 21px,#4a75ba 24px,#4c7abd 27px,#4d7fc0 30px,#4e83c2 33px,#4f87c4 36px,#508cc5 39px,#5093b2 42px,#519c98 45px,#51a67b 48px,#52b15e 51px,#53b84b 54px,#58bb4d 57px,#5dbd50 60px,#6ac155 63px,#7cc75d 66px,#91ce67 69px,#a9d671 72px,#c3df7d 75px,#dfe889 78px,#f4ee92 81px,#f6ec91 84px,#e4d384 87px,#ccb375 90px,#b59364 93px,#9e7355 96px,#8a5948 99px,#9d7364 102px,#ae8b7f 105px,#bda197 108px,#c9b2ab 111px,#d4c2bb 114px,#dbcbc6 117px,#dfd2cd 120px,#e3d7d2 123px,#e4d9d5 126px,#e3d7d3 129px,#dfd2cd 132px,#dbcbc6 135px,#d4c2bc 138px,#cab3ab 141px,#bda198 144px,#af8d81 147px,#9e7567 150px,#8b5948 153px,#a27957 156px,#c0a26c 159px,#dfcd81 162px,#f5ed91 165px,#f3ef92 168px,#d3e484 171px,#b6da77 174px,#9bd16b 177px,#82c960 180px,#6bc156 183px,#5cbc4f 186px,#54b94b 189px,#51a67c 192px,#5096a8 195px,#508cc5 198px,#4e84c3 201px,#4d7fc0 204px,#4c7abd 207px,#4a74b9 210px,#496fb6 213px,#486bb4 216px,#4766b1 219px,#4662ae 222px,#455eac 225px,#445aaa 228px,#4356a7 231px,#4253a5 234px,#4150a3 237px,#414da2 240px,#404aa0 243px,#3f489f 246px,#3f469d 249px,#3e449c 252px,#3e429b 255px,#3e409a 258px,#3d3f99 261px,#3d3e99 264px,#3d3d98 267px,#3d3c98 270px,#3c3c98 273px,#3c3c97 276px,#3c3c97 279px,#3c3b97 282px,#3c3b97 288px)"></i>
<i style="left:592.63px;width:7.64px;background:linear-gradient(#4664b0 0px,#4765b0 3px,#4766b1 6px,#4767b2 9px,#4869b3 12px,#486cb4 15px,#496eb6 18px,#4a71b7 21px,#4a74b9 24px,#4c79bc 27px,#4d7ebf 30px,#4e82c2 33px,#4f86c4 36px,#508ac7 39px,#5090b8 42px,#51999f 45px,#51a482 48px,#52af64 51px,#52b84a 54px,#57ba4d 57px,#5cbc4f 60px,#67c054 63px,#78c65c 66px,#8dcd65 69px,#a5d56f 72px,#bfde7b 75px,#dbe787 78px,#f3ef92 81px,#f5ed91 84px,#e7d787 87px,#d0b877 90px,#b89867 93px,#a17857 96px,#8d5c49 99px,#996e5f 102px,#aa867a 105px,#b99b91 108px,#c6ada5 111px,#d0bcb6 114px,#d7c6c0 117px,#dbccc7 120px,#dfd1cc 123px,#e0d3cf 126px,#dfd1cd 129px,#dccdc7 132px,#d7c6c0 135px,#d1bdb6 138px,#c6ada5 141px,#b99c91 144px,#ab877b 147px,#9a6f60 150px,#8e5d4a 153px,#a8815b 156px,#c6aa70 159px,#e4d485 162px,#f5ed91 165px,#eeed90 168px,#cee382 171px,#b1d975 174px,#96d069 177px,#7dc85e 180px,#67c054 183px,#5bbc4e 186px,#52b84a 189px,#51a189 192px,#5093b1 195px,#5089c6 198px,#4e82c2 201px,#4d7dbf 204px,#4b78bb 207px,#4a73b8 210px,#496eb5 213px,#4869b3 216px,#4664b0 219px,#4560ad 222px,#445cab 225px,#4458a9 228px,#4355a7 231px,#4252a5 234px,#414fa3 237px,#404ca1 240px,#40499f 243px,#3f479e 246px,#3f459d 249px,#3e439c 252px,#3e419b 255px,#3d409a 258px,#3d3e99 261px,#3d3d98 264px,#3d3c98 267px,#3d3c98 270px,#3c3c98 273px,#3c3c97 276px,#3c3b97 279px,#3c3b97 288px)"></i>
<i style="left:599.67px;width:7.64px;background:linear-gradient(#4664b0 0px,#4765b0 3px,#4766b1 6px,#4767b1 9px,#4869b3 12px,#486bb4 15px,#496eb5 18px,#4970b7 21px,#4a73b9 24px,#4b78bb 27px,#4c7cbe 30px,#4d80c1 33px,#4e84c3 36px,#4f88c5 39px,#508ebe 42px,#5197a7 45px,#51a18a 48px,#51ac6c 51px,#52b650 54px,#56ba4c 57px,#5bbc4f 60px,#64bf53 63px,#74c45a 66px,#88cb63 69px,#a0d36d 72px,#badc79 75px,#d5e585 78px,#f2ef92 81px,#f5ed91 84px,#ebdd89 87px,#d4be7a 90px,#bd9e6a 93px,#a67e5a 96px,#91614c 99px,#956859 102px,#a68074 105px,#b5968b 108px,#c1a79e 111px,#ccb6af 114px,#d3c0b9 117px,#d7c6c0 120px,#dbcbc6 123px,#dccdc8 126px,#dbcbc6 129px,#d7c6c1 132px,#d3c0b9 135px,#ccb6af 138px,#c1a79e 141px,#b5958a 144px,#a68074 147px,#956858 150px,#93654d 153px,#ae8960 156px,#ccb374 159px,#eadb89 162px,#f5ed91 165px,#e8eb8d 168px,#c9e17f 171px,#acd772 174px,#91ce67 177px,#79c65c 180px,#63bf52 183px,#59bb4e 186px,#52b357 189px,#519d95 192px,#5090ba 195px,#4f87c5 198px,#4d81c1 201px,#4c7bbe 204px,#4b76ba 207px,#4a71b7 210px,#486cb4 213px,#4767b1 216px,#4663af 219px,#455fac 222px,#445baa 225px,#4357a8 228px,#4254a6 231px,#4250a4 234px,#414da2 237px,#404ba0 240px,#3f489f 243px,#3f469e 246px,#3f449d 249px,#3e429b 252px,#3e419a 255px,#3d3f99 258px,#3d3e99 261px,#3d3d98 264px,#3d3c98 267px,#3c3c98 270px,#3c3c97 273px,#3c3c97 276px,#3c3b97 279px,#3c3b97 288px)"></i>
<i style="left:606.71px;width:7.64px;background:linear-gradient(#4664af 0px,#4664b0 3px,#4766b1 6px,#4767b1 9px,#4869b3 12px,#486bb4 15px,#496db5 18px,#4970b7 21px,#4a73b8 24px,#4b76ba 27px,#4c7abd 30px,#4d7ebf 33px,#4e82c2 36px,#4f86c4 39px,#508bc6 42px,#5093b2 45px,#519d96 48px,#51a877 51px,#52b25a 54px,#54b94b 57px,#59bb4e 60px,#5fbd50 63px,#6ec257 66px,#81c960 69px,#98d06a 72px,#b1d975 75px,#cce281 78px,#e9ec8e 81px,#f4ee92 84px,#f2e68e 87px,#dcc87f 90px,#c5a86f 93px,#ae895f 96px,#986b51 99px,#8f5f4f 102px,#a07769 105px,#af8c81 108px,#bb9e94 111px,#c6ada5 114px,#cdb7b0 117px,#d1beb7 120px,#d5c3bc 123px,#d6c5bf 126px,#d5c3bd 129px,#d2beb8 132px,#cdb7b0 135px,#c6aea6 138px,#bb9f95 141px,#af8d81 144px,#a0786a 147px,#8f5f4e 150px,#9b6f53 153px,#b69565 156px,#d4bd7a 159px,#f0e38d 162px,#f4ee92 165px,#e2e98a 168px,#c3df7d 171px,#a6d570 174px,#8ccc64 177px,#74c45a 180px,#5fbd50 183px,#57ba4c 186px,#51ad6a 189px,#5199a0 192px,#508dc2 195px,#4e85c3 198px,#4d7fc0 201px,#4c7abd 204px,#4a74b9 207px,#496fb6 210px,#486ab3 213px,#4765b0 216px,#4661ae 219px,#455dab 222px,#4459a9 225px,#4355a7 228px,#4252a5 231px,#414fa3 234px,#404ca1 237px,#404aa0 240px,#3f479e 243px,#3f459d 246px,#3e439c 249px,#3e429b 252px,#3d409a 255px,#3d3f99 258px,#3d3d98 261px,#3d3c98 264px,#3c3c98 267px,#3c3c97 270px,#3c3c97 273px,#3c3b97 276px,#3c3b97 288px)"></i>
<i style="left:613.75px;width:7.64px;background:linear-gradient(#4663af 0px,#4664b0 3px,#4766b1 6px,#4767b2 9px,#4869b3 12px,#486bb4 15px,#496db5 18px,#496fb6 21px,#4a72b8 24px,#4b75ba 27px,#4b78bc 30px,#4c7cbe 33px,#4d80c0 36px,#4e84c3 39px,#4f88c5 42px,#508fbd 45px,#5197a5 48px,#51a287 51px,#52ad68 54px,#52b74d 57px,#57ba4c 60px,#5cbc4f 63px,#66c054 66px,#78c65c 69px,#8dcd65 72px,#a6d570 75px,#c0de7c 78px,#dde888 81px,#f3ef92 84px,#f6ec91 87px,#e5d586 90px,#cfb676 93px,#b89766 96px,#a27857 99px,#8e5d4a 102px,#976b5c 105px,#a78174 108px,#b39388 111px,#bea299 114px,#c5ada4 117px,#cab3ac 120px,#cdb8b1 123px,#cfbab3 126px,#ceb9b2 129px,#cbb4ad 132px,#c6ada5 135px,#bfa49b 138px,#b49489 141px,#a88276 144px,#996d5e 147px,#8d5d49 150px,#a57d59 153px,#c0a26c 156px,#dcc87f 159px,#f6ec91 162px,#f4ee92 165px,#dce788 168px,#bddd7a 171px,#a1d36e 174px,#87cb62 177px,#6ec257 180px,#5dbc4f 183px,#54b94b 186px,#51a67d 189px,#5095aa 192px,#508ac7 195px,#4e83c2 198px,#4d7dbf 201px,#4b78bb 204px,#4a72b8 207px,#496db5 210px,#4768b2 213px,#4663af 216px,#455fad 219px,#445baa 222px,#4357a8 225px,#4254a6 228px,#4251a4 231px,#414ea2 234px,#404ba1 237px,#40489f 240px,#3f469e 243px,#3f449d 246px,#3e439c 249px,#3e419b 252px,#3d3f9a 255px,#3d3e99 258px,#3d3d98 261px,#3c3c98 264px,#3c3c97 267px,#3c3b97 270px,#3c3b97 288px)"></i>
<i style="left:620.79px;width:7.64px;background:linear-gradient(#4663af 0px,#4664b0 3px,#4766b1 6px,#4767b1 9px,#4869b2 12px,#486bb4 15px,#496db5 18px,#496fb6 21px,#4a71b8 24px,#4a74b9 27px,#4b77bb 30px,#4c7abd 33px,#4d7dbf 36px,#4e81c1 39px,#4f85c4 42px,#508bc7 45px,#5092b4 48px,#519c98 51px,#51a779 54px,#52b25b 57px,#54b94b 60px,#59bb4e 63px,#5fbd51 66px,#6fc357 69px,#82c960 72px,#9ad16a 75px,#b3da76 78px,#cfe382 81px,#eced8f 84px,#f5ed91 87px,#efe38d 90px,#dac57e 93px,#c3a66e 96px,#ad885f 99px,#986b51 102px,#8e5e4e 105px,#9e7466 108px,#ab877a 111px,#b6978c 114px,#bea298 117px,#c2a89f 120px,#c6ada5 123px,#c8b0a8 126px,#c6aea6 129px,#c3aaa1 132px,#bea39a 135px,#b8998f 138px,#ac897d 141px,#a07769 144px,#906151 147px,#976a50 150px,#af8b60 153px,#c9af72 156px,#e4d384 159px,#f5ed91 162px,#f3ef92 165px,#d5e585 168px,#b7db77 171px,#9bd16b 174px,#81c95f 177px,#68c155 180px,#5abb4e 183px,#52b64f 186px,#51a08c 189px,#5091b5 192px,#4f88c5 195px,#4d81c1 198px,#4c7bbd 201px,#4b76ba 204px,#4970b7 207px,#486bb4 210px,#4766b1 213px,#4662ae 216px,#455dac 219px,#445aa9 222px,#4356a7 225px,#4253a5 228px,#4150a3 231px,#414da2 234px,#404aa0 237px,#3f479e 240px,#3f459d 243px,#3e449c 246px,#3e429b 249px,#3d409a 252px,#3d3f99 255px,#3d3d98 258px,#3d3c98 261px,#3c3c97 264px,#3c3b97 267px,#3c3b97 288px)"></i>
<i style="left:627.83px;width:7.64px;background:linear-gradient(#4663af 0px,#4664b0 3px,#4765b0 6px,#4767b1 9px,#4869b2 12px,#486ab3 15px,#486cb5 18px,#496eb6 21px,#4970b7 24px,#4a73b8 27px,#4b75ba 30px,#4b78bc 33px,#4c7bbd 36px,#4d7ebf 39px,#4e82c2 42px,#4f87c5 45px,#508dc0 48px,#5096a8 51px,#51a18a 54px,#51ac6b 57px,#52b64f 60px,#57ba4c 63px,#5cbc4f 66px,#66c054 69px,#78c65b 72px,#8dcd65 75px,#a6d570 78px,#c1de7c 81px,#dee889 84px,#f4ee92 87px,#f6ec91 90px,#e5d485 93px,#ceb676 96px,#b89766 99px,#a27958 102px,#8f5f4a 105px,#956859 108px,#a37b6e 111px,#ae8c80 114px,#b6978d 117px,#bb9e94 120px,#bfa39a 123px,#c1a69d 126px,#bfa49b 129px,#bca096 132px,#b7998e 135px,#b08e83 138px,#a57e71 141px,#986c5d 144px,#8c5b49 147px,#a17857 150px,#b99867 153px,#d2bb79 156px,#ebdd89 159px,#f5ed91 162px,#eced8f 165px,#cde281 168px,#b0d874 171px,#94cf68 174px,#7ac65c 177px,#63bf52 180px,#58ba4d 183px,#52af62 186px,#519b99 189px,#508ebf 192px,#4f85c3 195px,#4d7ebf 198px,#4c79bc 201px,#4a73b9 204px,#496eb5 207px,#4769b2 210px,#4664b0 213px,#4560ad 216px,#445cab 219px,#4358a8 222px,#4254a6 225px,#4251a4 228px,#414ea2 231px,#404ba1 234px,#40499f 237px,#3f469e 240px,#3f449d 243px,#3e439c 246px,#3e419b 249px,#3d3f9a 252px,#3d3e99 255px,#3d3d98 258px,#3c3c97 261px,#3c3b97 264px,#3c3b97 288px)"></i>
<i style="left:634.87px;width:7.64px;background:linear-gradient(#4662af 0px,#4664af 3px,#4765b0 6px,#4767b1 9px,#4768b2 12px,#486ab3 15px,#486cb4 18px,#496eb6 21px,#4970b7 24px,#4a72b8 27px,#4a74b9 30px,#4b76bb 33px,#4c79bc 36px,#4c7cbe 39px,#4d7fc0 42px,#4e84c3 45px,#5089c6 48px,#5090b9 51px,#519a9e 54px,#51a57e 57px,#52b060 60px,#53b84b 63px,#59bb4d 66px,#5ebd50 69px,#6dc256 72px,#80c85f 75px,#97d069 78px,#b2d975 81px,#cee382 84px,#ebec8f 87px,#f5ed91 90px,#f0e48d 93px,#dac67e 96px,#c3a66e 99px,#ad885f 102px,#996c51 105px,#8c5b4a 108px,#9a6f60 111px,#a68174 114px,#af8d81 117px,#b49489 120px,#b8998f 123px,#b99c92 126px,#b89a90 129px,#b5958b 132px,#b08e83 135px,#a98478 138px,#9d7365 141px,#8f5f4f 144px,#95674f 147px,#aa845d 150px,#c2a46d 153px,#dac67e 156px,#f2e68e 159px,#f4ee92 162px,#e4ea8b 165px,#c5e07e 168px,#a8d671 171px,#8ccd65 174px,#73c459 177px,#5dbd50 180px,#55b94b 183px,#51a877 186px,#5196a7 189px,#508ac7 192px,#4e82c2 195px,#4c7cbe 198px,#4b77bb 201px,#4a71b7 204px,#486bb4 207px,#4766b1 210px,#4662ae 213px,#455eac 216px,#445aa9 219px,#4356a7 222px,#4253a5 225px,#4150a3 228px,#414da2 231px,#404aa0 234px,#3f479e 237px,#3f459d 240px,#3e449c 243px,#3e429b 246px,#3d409a 249px,#3d3e99 252px,#3d3d98 255px,#3c3c98 258px,#3c3b97 261px,#3c3b97 288px)"></i>
<i style="left:641.91px;width:7.64px;background:linear-gradient(#4662ae 0px,#4663af 3px,#4765b0 6px,#4766b1 9px,#4768b2 12px,#486ab3 15px,#486bb4 18px,#496db5 21px,#496fb6 24px,#4a71b7 27px,#4a73b8 30px,#4b75ba 33px,#4b77bb 36px,#4c79bc 39px,#4c7cbe 42px,#4d80c1 45px,#4f85c4 48px,#508bc6 51px,#5093b1 54px,#519d94 57px,#51a975 60px,#52b357 63px,#55b94b 66px,#5abb4e 69px,#62be52 72px,#73c459 75px,#88cb63 78px,#a0d36d 81px,#bcdc7a 84px,#d9e686 87px,#f3ef92 90px,#f5ed91 93px,#e8d887 96px,#d1b978 99px,#ba9a68 102px,#a47c59 105px,#92634c 108px,#916252 111px,#9e7466 114px,#a78275 117px,#ac897d 120px,#b08f83 123px,#b29186 126px,#b19085 129px,#ae8b7f 132px,#a98477 135px,#a1796b 138px,#956858 141px,#8d5c49 144px,#9f7555 147px,#b49264 150px,#cbb174 153px,#e3d184 156px,#f6ec91 159px,#f4ee92 162px,#dbe787 165px,#bcdd7a 168px,#9fd36d 171px,#83ca61 174px,#6ac155 177px,#5bbc4e 180px,#52b64f 183px,#51a18a 186px,#5091b6 189px,#4f87c4 192px,#4d80c0 195px,#4c7abd 198px,#4a74b9 201px,#496eb6 204px,#4869b2 207px,#4664af 210px,#455fad 213px,#445baa 216px,#4358a8 219px,#4254a6 222px,#4251a4 225px,#414ea2 228px,#404ba1 231px,#40499f 234px,#3f469e 237px,#3f449d 240px,#3e439c 243px,#3e419a 246px,#3d3f99 249px,#3d3e99 252px,#3d3c98 255px,#3c3b97 258px,#3c3b97 288px)"></i>
<i style="left:648.95px;width:7.64px;background:linear-gradient(#4661ae 0px,#4663af 3px,#4664b0 6px,#4766b1 9px,#4767b2 12px,#4869b3 15px,#486bb4 18px,#486db5 21px,#496eb6 24px,#4970b7 27px,#4a72b8 30px,#4a73b9 33px,#4b75ba 36px,#4b77bb 39px,#4c7abd 42px,#4d7dbf 45px,#4e81c1 48px,#4f87c4 51px,#508dc1 54px,#5096a9 57px,#51a18b 60px,#51ac6b 63px,#52b64f 66px,#57ba4c 69px,#5cbc4f 72px,#66c054 75px,#79c65c 78px,#90ce66 81px,#aad672 84px,#c6e07e 87px,#e4ea8b 90px,#f4ee92 93px,#f5ea90 96px,#dfcc81 99px,#c8ad71 102px,#b18e62 105px,#9d7254 108px,#8c5b48 111px,#956859 114px,#a07769 117px,#a57f72 120px,#a98578 123px,#ab887c 126px,#aa867a 129px,#a78174 132px,#a27a6c 135px,#996e5f 138px,#8d5c4c 141px,#96684f 144px,#a9825c 147px,#be9f6b 150px,#d5be7a 153px,#ebdd8a 156px,#f5ed91 159px,#efee90 162px,#d0e382 165px,#b1d975 168px,#94cf68 171px,#79c65c 174px,#62be52 177px,#57ba4d 180px,#52ae65 183px,#519a9c 186px,#508cc3 189px,#4e83c2 192px,#4c7dbe 195px,#4b77bb 198px,#4a71b7 201px,#486bb4 204px,#4766b1 207px,#4661ae 210px,#455dab 213px,#4459a9 216px,#4355a7 219px,#4252a5 222px,#414fa3 225px,#414ca1 228px,#404aa0 231px,#3f479e 234px,#3f459d 237px,#3e439c 240px,#3e419b 243px,#3d409a 246px,#3d3e99 249px,#3d3d98 252px,#3c3c97 255px,#3c3b97 258px,#3c3b97 261px,#3c3a97 264px,#3c3a97 267px,#3c3b97 270px,#3c3b97 288px)"></i>
<i style="left:655.99px;width:7.64px;background:linear-gradient(#4661ae 0px,#4662ae 3px,#4664af 6px,#4765b0 9px,#4767b1 12px,#4768b2 15px,#486ab3 18px,#486cb4 21px,#496db5 24px,#496fb6 27px,#4970b7 30px,#4a72b8 33px,#4a74b9 36px,#4b76ba 39px,#4b78bb 42px,#4c7abd 45px,#4d7ebf 48px,#4e82c2 51px,#4f88c5 54px,#508fbb 57px,#5199a0 60px,#51a481 63px,#52b062 66px,#53b84a 69px,#58bb4d 72px,#5ebd50 75px,#6cc256 78px,#81c95f 81px,#99d16a 84px,#b5da76 87px,#d2e484 90px,#f1ee91 93px,#f5ed91 96px,#eadc89 99px,#d3bc79 102px,#bb9b68 105px,#a57c59 108px,#93644d 111px,#8d5c4b 114px,#966959 117px,#9d7465 120px,#a37c6e 123px,#a57f72 126px,#a47d70 129px,#9f7769 132px,#996d5e 135px,#906151 138px,#8d5c49 141px,#9c7053 144px,#af8b60 147px,#c6aa70 150px,#ddca80 153px,#f3e88f 156px,#f4ee92 159px,#e3ea8b 162px,#c3df7d 165px,#a5d56f 168px,#88cb63 171px,#6ec257 174px,#5cbc4f 177px,#53b94b 180px,#51a57e 183px,#5094af 186px,#4f88c5 189px,#4d80c0 192px,#4c7abd 195px,#4a74b9 198px,#496eb5 201px,#4768b2 204px,#4663af 207px,#455eac 210px,#445aaa 213px,#4357a8 216px,#4253a6 219px,#4150a4 222px,#414da2 225px,#404aa0 228px,#3f489f 231px,#3f469d 234px,#3e449c 237px,#3e429b 240px,#3e409a 243px,#3d3f99 246px,#3d3d98 249px,#3c3c98 252px,#3c3b97 255px,#3c3a97 258px,#3c3a97 282px,#3c3b97 285px,#3c3b97 288px)"></i>
<i style="left:663.03px;width:7.64px;background:linear-gradient(#4560ad 0px,#4661ae 3px,#4663af 6px,#4664b0 9px,#4766b1 12px,#4767b2 15px,#4869b3 18px,#486bb4 21px,#486cb5 24px,#496eb6 27px,#496fb6 30px,#4a71b7 33px,#4a72b8 36px,#4a74b9 39px,#4b76ba 42px,#4b78bc 45px,#4c7bbd 48px,#4d7ebf 51px,#4e84c3 54px,#508ac7 57px,#5092b4 60px,#519c97 63px,#51a876 66px,#52b357 69px,#55b94c 72px,#5abb4e 75px,#62be52 78px,#73c459 81px,#89cb63 84px,#a2d46e 87px,#bfdd7b 90px,#dee888 93px,#f4ee92 96px,#f2e78f 99px,#dac57e 102px,#c3a66e 105px,#ae8a60 108px,#9c7153 111px,#8d5d49 114px,#936455 117px,#996e5f 120px,#9e7466 123px,#a0776a 126px,#9f7668 129px,#9b7062 132px,#96695a 135px,#8c5b4a 138px,#95674f 141px,#a57d5a 144px,#b89766 147px,#cdb375 150px,#e3d284 153px,#f5ed91 156px,#f3ef92 159px,#d2e483 162px,#b2d975 165px,#95d069 168px,#7bc75d 171px,#63bf52 174px,#58bb4d 177px,#52b25b 180px,#519d95 183px,#508dc1 186px,#4e84c3 189px,#4c7dbe 192px,#4b77bb 195px,#4970b7 198px,#486ab3 201px,#4665b0 204px,#4560ad 207px,#445baa 210px,#4358a8 213px,#4254a6 216px,#4251a4 219px,#414ea2 222px,#404ba1 225px,#40499f 228px,#3f469e 231px,#3e449c 234px,#3e429b 237px,#3e419a 240px,#3d3f99 243px,#3d3e99 246px,#3d3c98 249px,#3c3b97 252px,#3c3a97 255px,#3c3a96 258px,#3c3a96 276px,#3c3a97 279px,#3c3a97 285px,#3c3b97 288px)"></i>
<i style="left:670.07px;width:7.64px;background:linear-gradient(#455fad 0px,#4560ad 3px,#4662ae 6px,#4663af 9px,#4765b0 12px,#4767b1 15px,#4768b2 18px,#486ab3 21px,#486bb4 24px,#496db5 27px,#496eb6 30px,#496fb6 33px,#4a71b7 36px,#4a72b8 39px,#4a74b9 42px,#4b76ba 45px,#4b78bc 48px,#4c7bbd 51px,#4d7fc0 54px,#4e85c3 57px,#508cc5 60px,#5095ac 63px,#51a08c 66px,#51ac6a 69px,#52b74d 72px,#57ba4d 75px,#5cbc4f 78px,#68c055 81px,#7cc75d 84px,#93cf68 87px,#afd874 90px,#cde281 93px,#eeed90 96px,#f5ed91 99px,#e5d485 102px,#cdb375 105px,#b79666 108px,#a47b59 111px,#94664e 114px,#8d5c4b 117px,#946657 120px,#996d5e 123px,#9b7162 126px,#9a6f60 129px,#96695a 132px,#906151 135px,#8e5e4a 138px,#9c7153 141px,#ad885f 144px,#c0a26c 147px,#d6c07b 150px,#eee18b 153px,#f4ee92 156px,#e3e98b 159px,#c2de7c 162px,#a3d46f 165px,#87cb62 168px,#6ec257 171px,#5cbc4f 174px,#54b94b 177px,#51a877 180px,#5095ac 183px,#4f88c5 186px,#4d80c0 189px,#4c79bc 192px,#4a73b9 195px,#486db5 198px,#4766b1 201px,#4661ae 204px,#455dab 207px,#4459a9 210px,#4355a7 213px,#4252a5 216px,#414fa3 219px,#404ca1 222px,#4049a0 225px,#3f479e 228px,#3f459d 231px,#3e439c 234px,#3e419b 237px,#3d409a 240px,#3d3e99 243px,#3d3d98 246px,#3c3b97 249px,#3c3a97 252px,#3c3a96 255px,#3c3a96 279px,#3c3a97 282px,#3c3a97 285px,#3c3b97 288px)"></i>
<i style="left:677.11px;width:6.04px;background:linear-gradient(#455eac 0px,#4560ad 3px,#4661ae 6px,#4663af 9px,#4664b0 12px,#4766b1 15px,#4767b1 18px,#4869b2 21px,#486ab3 24px,#486cb4 27px,#496db5 30px,#496eb6 33px,#4970b7 36px,#4a71b7 39px,#4a72b8 42px,#4a74b9 45px,#4b76ba 48px,#4b78bc 51px,#4c7bbe 54px,#4d80c0 57px,#4f86c4 60px,#508ec0 63px,#5198a3 66px,#51a480 69px,#52b15e 72px,#54b94b 75px,#59bb4e 78px,#5fbd50 81px,#6fc358 84px,#85ca61 87px,#9fd36d 90px,#bddd7a 93px,#dee889 96px,#f4ee92 99px,#efe38c 102px,#d6c17b 105px,#c0a16c 108px,#ab865e 111px,#9a6f52 114px,#8d5c49 117px,#8f604f 120px,#946757 123px,#976a5b 126px,#956859 129px,#916252 132px,#8b5a49 135px,#94664e 138px,#a37a58 141px,#b59365 144px,#caaf73 147px,#e1cf82 150px,#f6ec91 153px,#f3ef92 156px,#d1e483 159px,#b1d975 162px,#94cf68 165px,#79c65c 168px,#63bf52 171px,#59bb4d 174px,#52b456 177px,#519f91 180px,#508dc1 183px,#4e83c2 186px,#4c7cbe 189px,#4b76ba 192px,#496fb6 195px,#4768b2 198px,#4662af 201px,#455eac 204px,#4459a9 207px,#4356a7 210px,#4252a5 213px,#414fa3 216px,#414da2 219px,#404aa0 222px,#3f479e 225px,#3f459d 228px,#3e439c 231px,#3e419b 234px,#3d409a 237px,#3d3e99 240px,#3d3d98 243px,#3c3c97 246px,#3c3b97 249px,#3c3a96 252px,#3c3a96 282px,#3c3a97 285px,#3c3b97 288px)"></i>
<i style="left:702.75px;width:3.75px;background:linear-gradient(#4a71b8 0px,#4a74b9 3px,#4b77bb 6px,#4c79bc 9px,#4c7bbe 12px,#4d7dbf 15px,#4d7fc0 18px,#4d80c0 21px,#4e81c1 24px,#4e83c2 27px,#4f86c4 30px,#4f89c6 33px,#508cc4 36px,#5091b7 39px,#5196a7 42px,#519d95 45px,#51a482 48px,#51ab6d 51px,#52b25a 54px,#53b84a 57px,#57ba4c 60px,#5bbc4f 63px,#62be52 66px,#72c459 69px,#86cb62 72px,#a0d36d 75px,#bddd7a 78px,#dbe787 81px,#f3ef92 84px,#f5ed91 87px,#e7d786 90px,#d1ba78 93px,#bc9c69 96px,#a7805b 99px,#95674f 102px,#8d5d4c 105px,#9a6f60 108px,#a57e71 111px,#ac887c 114px,#b08e83 117px,#b49489 120px,#b6968c 123px,#b5968b 126px,#b39287 129px,#af8c81 132px,#aa8579 135px,#a1796b 138px,#966959 141px,#8b5a48 144px,#9b7053 147px,#af8b60 150px,#c5a86f 153px,#dbc77e 156px,#f0e48d 159px,#f5ed91 162px,#eeed90 165px,#d3e484 168px,#b9db78 171px,#a0d36d 174px,#89cb63 177px,#73c459 180px,#61be51 183px,#58bb4d 186px,#52b74d 189px,#51ab6f 192px,#519f8f 195px,#5095ac 198px,#508cc4 201px,#4f86c4 204px,#4e82c2 207px,#4d7ebf 210px,#4c79bc 213px,#4a74b9 216px,#4970b7 219px,#486bb4 222px,#4768b2 225px,#4664b0 228px,#4661ae 231px,#455eac 234px,#445aaa 237px,#4357a8 240px,#4254a6 243px,#4251a4 246px,#414fa3 249px,#414ca1 252px,#404aa0 255px,#40499f 258px,#3f479e 261px,#3f469d 264px,#3f449d 267px,#3e439c 270px,#3e429b 273px,#3e419b 276px,#3e409a 279px,#3d409a 282px,#3d3f99 285px,#3d3f99 288px)"></i>
<i style="left:705.90px;width:7.64px;background:linear-gradient(#4a71b8 0px,#4a74b9 3px,#4b77bb 6px,#4c79bc 9px,#4c7bbe 12px,#4d7dbf 15px,#4d7fc0 18px,#4d80c0 21px,#4e81c1 24px,#4e83c2 27px,#4f86c4 30px,#4f89c6 33px,#508cc4 36px,#5090b8 39px,#5096a9 42px,#519c97 45px,#51a384 48px,#51aa71 51px,#52b15d 54px,#52b84b 57px,#56ba4c 60px,#5abb4e 63px,#60be51 66px,#6ec257 69px,#81c960 72px,#99d16a 75px,#b5da76 78px,#d2e483 81px,#f0ee91 84px,#f5ed91 87px,#eee18c 90px,#dac57e 93px,#c4a86f 96px,#b08c61 99px,#9d7254 102px,#8d5d49 105px,#936556 108px,#9e7567 111px,#a68074 114px,#ab877b 117px,#af8c81 120px,#b18f84 123px,#b18f84 126px,#ae8c80 129px,#aa867a 132px,#a57f72 135px,#9d7365 138px,#926353 141px,#8f5f4a 144px,#9f7556 147px,#b28f63 150px,#c7ac71 153px,#dcc97f 156px,#f1e48d 159px,#f5ed91 162px,#efee90 165px,#d4e584 168px,#badc79 171px,#a1d36e 174px,#8acc63 177px,#74c45a 180px,#61be52 183px,#59bb4d 186px,#52b74b 189px,#51ab6e 192px,#519f8f 195px,#5095ac 198px,#508cc3 201px,#4f86c4 204px,#4e82c2 207px,#4d7ebf 210px,#4c79bc 213px,#4a74b9 216px,#4970b7 219px,#486bb4 222px,#4768b2 225px,#4664b0 228px,#4661ae 231px,#455eac 234px,#445baa 237px,#4357a8 240px,#4254a6 243px,#4251a4 246px,#414fa3 249px,#414ca1 252px,#404ba0 255px,#40499f 258px,#3f479e 261px,#3f469d 264px,#3f449d 267px,#3e439c 270px,#3e429b 273px,#3e419b 276px,#3e409a 279px,#3d409a 282px,#3d3f99 285px,#3d3e99 288px)"></i>
<i style="left:712.94px;width:7.64px;background:linear-gradient(#4a71b8 0px,#4a74b9 3px,#4b77bb 6px,#4c79bc 9px,#4c7bbe 12px,#4d7dbf 15px,#4d7fc0 18px,#4d80c0 21px,#4e81c1 24px,#4e83c2 27px,#4f85c4 30px,#4f88c5 33px,#508cc5 36px,#5090b9 39px,#5095ab 42px,#519b9a 45px,#51a288 48px,#51a975 51px,#52b062 54px,#52b64f 57px,#55b94b 60px,#59bb4e 63px,#5ebd50 66px,#6ac155 69px,#7cc75d 72px,#92ce67 75px,#acd772 78px,#c8e07f 81px,#e5ea8c 84px,#f4ee92 87px,#f6ec91 90px,#e3d284 93px,#cfb676 96px,#ba9a68 99px,#a77f5b 102px,#96684f 105px,#8c5b4a 108px,#976b5c 111px,#a0786a 114px,#a57f72 117px,#a98478 120px,#ab887c 123px,#ab887c 126px,#a98478 129px,#a57f72 132px,#a1786b 135px,#996d5e 138px,#8e5d4d 141px,#93644d 144px,#a37a58 147px,#b69465 150px,#c9af72 153px,#decb80 156px,#f1e58d 159px,#f5ed91 162px,#f0ee91 165px,#d5e585 168px,#bbdc79 171px,#a2d46e 174px,#8bcc64 177px,#75c55a 180px,#62be52 183px,#59bb4e 186px,#52b84a 189px,#51ac6c 192px,#51a08e 195px,#5095ab 198px,#508dc3 201px,#4f87c4 204px,#4e82c2 207px,#4d7ebf 210px,#4c79bc 213px,#4a74b9 216px,#4970b7 219px,#486cb4 222px,#4768b2 225px,#4664b0 228px,#4661ae 231px,#455eac 234px,#445baa 237px,#4357a8 240px,#4254a6 243px,#4251a4 246px,#414fa3 249px,#414da2 252px,#404ba0 255px,#40499f 258px,#3f479e 261px,#3f469d 264px,#3f449d 267px,#3e439c 270px,#3e429b 273px,#3e419b 276px,#3e409a 279px,#3d409a 282px,#3d3f99 285px,#3d3e99 288px)"></i>
<i style="left:719.98px;width:7.64px;background:linear-gradient(#4a71b8 0px,#4a74b9 3px,#4b77bb 6px,#4c79bc 9px,#4c7bbe 12px,#4d7dbf 15px,#4d7fc0 18px,#4d80c0 21px,#4e81c1 24px,#4e83c2 27px,#4f85c3 30px,#4f88c5 33px,#508cc5 36px,#508fbb 39px,#5094ad 42px,#519a9c 45px,#51a18b 48px,#51a778 51px,#52ae65 54px,#52b553 57px,#54b94b 60px,#58bb4d 63px,#5dbc4f 66px,#67c054 69px,#77c65b 72px,#8ccc64 75px,#a4d56f 78px,#bfde7b 81px,#dbe787 84px,#f3ef92 87px,#f5ed91 90px,#ebdc89 93px,#d6c07b 96px,#c1a36d 99px,#ad885f 102px,#9b7053 105px,#8e5d4a 108px,#8f5f4e 111px,#976a5b 114px,#9d7465 117px,#a37b6e 120px,#a67f72 123px,#a68073 126px,#a37c6f 129px,#9f7668 132px,#996d5e 135px,#916353 138px,#8a5847 141px,#95674e 144px,#a47b59 147px,#b69465 150px,#c9af72 153px,#ddca80 156px,#f1e58d 159px,#f5ed91 162px,#f1ee91 165px,#d7e685 168px,#bddd7a 171px,#a4d46f 174px,#8ccd65 177px,#77c55b 180px,#63bf52 183px,#5abb4e 186px,#52b84a 189px,#51ac6b 192px,#51a08d 195px,#5095aa 198px,#508dc2 201px,#4f87c4 204px,#4e82c2 207px,#4d7ebf 210px,#4c79bc 213px,#4a75ba 216px,#4970b7 219px,#486cb4 222px,#4768b2 225px,#4664b0 228px,#4661ae 231px,#455eac 234px,#445baa 237px,#4358a8 240px,#4354a6 243px,#4251a4 246px,#414fa3 249px,#414da2 252px,#404ba0 255px,#40499f 258px,#3f479e 261px,#3f469d 264px,#3f449d 267px,#3e439c 270px,#3e429b 273px,#3e419b 276px,#3e409a 279px,#3d3f9a 282px,#3d3f99 285px,#3d3e99 288px)"></i>
<i style="left:727.02px;width:7.64px;background:linear-gradient(#4a71b8 0px,#4a74b9 3px,#4b77bb 6px,#4c79bc 9px,#4c7bbe 12px,#4d7dbf 15px,#4d7ebf 18px,#4d80c0 21px,#4e81c1 24px,#4e83c2 27px,#4f85c3 30px,#4f88c5 33px,#508bc6 36px,#508fbb 39px,#5094ae 42px,#519a9e 45px,#51a08d 48px,#51a77b 51px,#52ad68 54px,#52b456 57px,#53b94b 60px,#58ba4d 63px,#5cbc4f 66px,#65bf53 69px,#74c45a 72px,#87cb62 75px,#9dd26c 78px,#b5da77 81px,#d0e383 84px,#eded8f 87px,#f5ed91 90px,#eee18b 93px,#d9c57d 96px,#c6aa70 99px,#b49264 102px,#a47b59 105px,#95684f 108px,#8a5847 111px,#946657 114px,#996e5f 117px,#9e7466 120px,#a0786a 123px,#a1786b 126px,#9f7668 129px,#9b7162 132px,#976b5c 135px,#906151 138px,#8e5d4a 141px,#9a6d52 144px,#a8805b 147px,#b79666 150px,#c8ad71 153px,#dac67e 156px,#ede08b 159px,#f5ed91 162px,#f0ee91 165px,#d5e585 168px,#bcdc79 171px,#a3d46f 174px,#8dcd65 177px,#78c65b 180px,#64bf53 183px,#5abb4e 186px,#53b84a 189px,#52ad69 192px,#51a08c 195px,#5096a9 198px,#508dc1 201px,#4f87c5 204px,#4e82c2 207px,#4d7ebf 210px,#4c7abd 213px,#4b75ba 216px,#4970b7 219px,#486cb4 222px,#4768b2 225px,#4664b0 228px,#4661ae 231px,#455eac 234px,#445baa 237px,#4358a8 240px,#4355a6 243px,#4252a5 246px,#414fa3 249px,#414da2 252px,#404ba0 255px,#40499f 258px,#3f479e 261px,#3f469d 264px,#3f449d 267px,#3e439c 270px,#3e429b 273px,#3e419b 276px,#3e409a 279px,#3d3f9a 282px,#3d3f99 285px,#3d3e99 288px)"></i>
<i style="left:734.06px;width:7.64px;background:linear-gradient(#4a71b8 0px,#4a74b9 3px,#4b77bb 6px,#4c79bc 9px,#4c7bbd 12px,#4d7dbf 15px,#4d7ebf 18px,#4d80c0 21px,#4e81c1 24px,#4e83c2 27px,#4e85c3 30px,#4f88c5 33px,#508bc6 36px,#508fbc 39px,#5094af 42px,#51999f 45px,#519f8e 48px,#51a67c 51px,#51ac6a 54px,#52b358 57px,#53b84a 60px,#57ba4d 63px,#5bbc4f 66px,#63bf52 69px,#72c459 72px,#84ca61 75px,#9ad16a 78px,#b1d975 81px,#cce281 84px,#e7eb8d 87px,#f4ee92 90px,#f3e88f 93px,#dfcc81 96px,#cbb274 99px,#ba9a68 102px,#aa845d 105px,#9c7053 108px,#90604b 111px,#8e5e4d 114px,#946657 117px,#986c5d 120px,#9b7062 123px,#9c7263 126px,#9b7061 129px,#986b5c 132px,#936556 135px,#8d5d4c 138px,#90614b 141px,#9b7053 144px,#a9825c 147px,#b89766 150px,#c8ad72 153px,#dac67e 156px,#eddf8b 159px,#f5ed91 162px,#f2ef91 165px,#d7e685 168px,#bddd7a 171px,#a5d56f 174px,#8ecd65 177px,#79c65c 180px,#66c053 183px,#5abc4e 186px,#54b94b 189px,#52ae67 192px,#51a18a 195px,#5096a8 198px,#508dc1 201px,#4f87c5 204px,#4e83c2 207px,#4d7ebf 210px,#4c7abd 213px,#4b75ba 216px,#4970b7 219px,#486cb4 222px,#4768b2 225px,#4765b0 228px,#4661ae 231px,#455eac 234px,#445baa 237px,#4358a8 240px,#4355a6 243px,#4252a5 246px,#414fa3 249px,#414da2 252px,#404ba0 255px,#40499f 258px,#3f479e 261px,#3f469d 264px,#3f449d 267px,#3e439c 270px,#3e429b 273px,#3e419b 276px,#3e409a 279px,#3d3f9a 282px,#3d3f99 285px,#3d3e99 288px)"></i>
<i style="left:741.10px;width:7.64px;background:linear-gradient(#4a71b8 0px,#4a74b9 3px,#4b77bb 6px,#4c79bc 9px,#4c7bbd 12px,#4d7dbf 15px,#4d7ebf 18px,#4d80c0 21px,#4d81c1 24px,#4e83c2 27px,#4e85c3 30px,#4f88c5 33px,#508bc7 36px,#508fbd 39px,#5093af 42px,#5199a0 45px,#519f8f 48px,#51a67d 51px,#51ac6b 54px,#52b359 57px,#53b84a 60px,#57ba4c 63px,#5bbc4f 66px,#63bf52 69px,#71c459 72px,#83ca61 75px,#99d16a 78px,#b0d974 81px,#cae180 84px,#e5ea8c 87px,#f4ee92 90px,#f5eb91 93px,#e2d083 96px,#cfb777 99px,#bea06b 102px,#af8b60 105px,#a17757 108px,#95684f 111px,#8b5a48 114px,#8f604f 117px,#936556 120px,#976a5b 123px,#986c5d 126px,#976b5c 129px,#956758 132px,#916151 135px,#8b5a49 138px,#92624c 141px,#9c7154 144px,#a9835c 147px,#b89766 150px,#c8ad71 153px,#d9c57d 156px,#ecde8a 159px,#f5ed91 162px,#f3ef92 165px,#d8e686 168px,#bfdd7b 171px,#a6d570 174px,#90ce66 177px,#7ac75d 180px,#67c054 183px,#5bbc4e 186px,#54b94b 189px,#52ae65 192px,#51a189 195px,#5197a7 198px,#508ec0 201px,#4f87c5 204px,#4e83c2 207px,#4d7fc0 210px,#4c7abd 213px,#4b75ba 216px,#4970b7 219px,#486cb4 222px,#4768b2 225px,#4765b0 228px,#4661ae 231px,#455eac 234px,#445baa 237px,#4358a8 240px,#4355a6 243px,#4252a5 246px,#414fa3 249px,#414da2 252px,#404ba1 255px,#40499f 258px,#3f479e 261px,#3f469e 264px,#3f459d 267px,#3e439c 270px,#3e429b 273px,#3e419b 276px,#3e409a 279px,#3d3f9a 282px,#3d3f99 285px,#3d3e99 288px)"></i>
<i style="left:748.14px;width:7.64px;background:linear-gradient(#4a71b7 0px,#4a74b9 3px,#4b76bb 6px,#4c79bc 9px,#4c7bbd 12px,#4c7dbe 15px,#4d7ebf 18px,#4d7fc0 21px,#4d81c1 24px,#4e82c2 27px,#4e85c3 30px,#4f87c5 33px,#508bc7 36px,#508fbd 39px,#5093b0 42px,#5199a0 45px,#519f8f 48px,#51a67d 51px,#51ac6b 54px,#52b359 57px,#53b84a 60px,#57ba4c 63px,#5bbc4f 66px,#63bf52 69px,#71c459 72px,#83ca61 75px,#98d16a 78px,#b0d974 81px,#cae180 84px,#e4ea8c 87px,#f4ee92 90px,#f6ec91 93px,#e4d385 96px,#d2bb79 99px,#c2a56d 102px,#b39063 105px,#a57d5a 108px,#9a6e52 111px,#90604b 114px,#8b5a49 117px,#8f604f 120px,#936455 123px,#956758 126px,#946757 129px,#926454 132px,#8f5e4e 135px,#8a5847 138px,#92634d 141px,#9d7254 144px,#a9825c 147px,#b79666 150px,#c7ab70 153px,#d8c37c 156px,#eadc89 159px,#f5ed91 162px,#f3ef92 165px,#dbe787 168px,#c1de7c 171px,#a8d671 174px,#91ce67 177px,#7cc75d 180px,#68c054 183px,#5bbc4f 186px,#55b94b 189px,#52af62 192px,#51a288 195px,#5197a6 198px,#508ebf 201px,#4f88c5 204px,#4e83c2 207px,#4d7fc0 210px,#4c7abd 213px,#4b75ba 216px,#4a71b7 219px,#486cb5 222px,#4769b2 225px,#4765b0 228px,#4662ae 231px,#455eac 234px,#445baa 237px,#4358a8 240px,#4355a7 243px,#4252a5 246px,#414fa3 249px,#414da2 252px,#404ba1 255px,#40499f 258px,#3f489f 261px,#3f469e 264px,#3f459d 267px,#3e439c 270px,#3e429b 273px,#3e419b 276px,#3e409a 279px,#3d3f9a 282px,#3d3f99 285px,#3d3e99 288px)"></i>
<i style="left:755.18px;width:7.64px;background:linear-gradient(#4a71b7 0px,#4a74b9 3px,#4b76bb 6px,#4b79bc 9px,#4c7bbd 12px,#4c7dbe 15px,#4d7ebf 18px,#4d7fc0 21px,#4d81c1 24px,#4e82c2 27px,#4e85c3 30px,#4f87c5 33px,#508bc7 36px,#508ebd 39px,#5093b0 42px,#5199a1 45px,#519f90 48px,#51a67d 51px,#51ac6b 54px,#52b359 57px,#53b84a 60px,#57ba4c 63px,#5bbc4f 66px,#63bf52 69px,#71c459 72px,#83ca61 75px,#98d16a 78px,#b0d874 81px,#c9e17f 84px,#e4ea8b 87px,#f4ee92 90px,#f6ec91 93px,#e6d686 96px,#d4be7a 99px,#c4a86f 102px,#b59465 105px,#a8815c 108px,#9d7254 111px,#93644d 114px,#8b5a48 117px,#8d5d4c 120px,#916252 123px,#936555 126px,#936556 129px,#916353 132px,#8e5e4d 135px,#8a5847 138px,#91624c 141px,#9b7053 144px,#a7805b 147px,#b59364 150px,#c4a86f 153px,#d5be7a 156px,#e7d787 159px,#f6ec91 162px,#f4ee92 165px,#dfe889 168px,#c5df7d 171px,#abd772 174px,#94cf68 177px,#7ec85e 180px,#6ac155 183px,#5cbc4f 186px,#55b94c 189px,#52b05f 192px,#51a286 195px,#5198a4 198px,#508ebd 201px,#4f88c5 204px,#4e83c2 207px,#4d7fc0 210px,#4c7bbd 213px,#4b76ba 216px,#4a71b7 219px,#486db5 222px,#4869b2 225px,#4765b0 228px,#4662ae 231px,#455fac 234px,#445baa 237px,#4358a9 240px,#4355a7 243px,#4252a5 246px,#414fa3 249px,#414da2 252px,#404ba1 255px,#4049a0 258px,#3f489f 261px,#3f469e 264px,#3f459d 267px,#3e439c 270px,#3e429b 273px,#3e419b 276px,#3e409a 279px,#3d3f9a 282px,#3d3f99 285px,#3d3e99 288px)"></i>
<i style="left:762.22px;width:7.64px;background:linear-gradient(#4a71b7 0px,#4a74b9 3px,#4b76bb 6px,#4b79bc 9px,#4c7bbd 12px,#4c7dbe 15px,#4d7ebf 18px,#4d7fc0 21px,#4d81c1 24px,#4e82c2 27px,#4e85c3 30px,#4f87c5 33px,#508bc7 36px,#508ebe 39px,#5093b1 42px,#5199a1 45px,#519f90 48px,#51a57e 51px,#51ac6b 54px,#52b359 57px,#53b84a 60px,#57ba4c 63px,#5bbc4f 66px,#63bf52 69px,#71c459 72px,#83ca61 75px,#98d16a 78px,#afd874 81px,#c9e17f 84px,#e3ea8b 87px,#f4ee92 90px,#f6ec91 93px,#e6d786 96px,#d5bf7a 99px,#c5a96f 102px,#b69565 105px,#a9825c 108px,#9d7254 111px,#93654d 114px,#8b5a48 117px,#8d5d4c 120px,#916252 123px,#936556 126px,#946657 129px,#926454 132px,#8f604f 135px,#8b5a49 138px,#8f5f4b 141px,#996d51 144px,#a47c59 147px,#b28e62 150px,#c1a36c 153px,#d1b978 156px,#e3d284 159px,#f5eb91 162px,#f4ee92 165px,#e5ea8c 168px,#c9e180 171px,#afd874 174px,#97d069 177px,#80c85f 180px,#6bc156 183px,#5cbc4f 186px,#56ba4c 189px,#52b15c 192px,#51a384 195px,#5198a2 198px,#508fbc 201px,#4f88c5 204px,#4e84c3 207px,#4d7fc0 210px,#4c7bbd 213px,#4b76ba 216px,#4a71b8 219px,#496db5 222px,#4869b3 225px,#4765b0 228px,#4662ae 231px,#455fac 234px,#445cab 237px,#4459a9 240px,#4355a7 243px,#4252a5 246px,#4150a3 249px,#414da2 252px,#404ba1 255px,#4049a0 258px,#3f489f 261px,#3f469e 264px,#3f459d 267px,#3e449c 270px,#3e429b 273px,#3e419b 276px,#3e409a 279px,#3d3f9a 282px,#3d3f99 285px,#3d3e99 288px)"></i>
<i style="left:769.26px;width:7.64px;background:linear-gradient(#4a71b7 0px,#4a73b9 3px,#4b76ba 6px,#4b78bc 9px,#4c7bbd 12px,#4c7cbe 15px,#4d7ebf 18px,#4d7fc0 21px,#4d81c1 24px,#4e82c2 27px,#4e84c3 30px,#4f87c5 33px,#508bc7 36px,#508ebe 39px,#5093b1 42px,#5199a1 45px,#519f90 48px,#51a57e 51px,#51ac6b 54px,#52b359 57px,#53b84a 60px,#57ba4c 63px,#5bbc4f 66px,#63bf52 69px,#71c459 72px,#83c960 75px,#98d06a 78px,#afd874 81px,#c8e17f 84px,#e2e98b 87px,#f4ee92 90px,#f6ec91 93px,#e7d787 96px,#d5bf7b 99px,#c5a970 102px,#b69565 105px,#a9825c 108px,#9d7254 111px,#93644d 114px,#8b5947 117px,#8e5e4d 120px,#926353 123px,#946757 126px,#956859 129px,#946657 132px,#916252 135px,#8d5c4c 138px,#8d5c49 141px,#96694f 144px,#a17757 147px,#ae8960 150px,#bd9e6a 153px,#cdb375 156px,#decb81 159px,#f1e58d 162px,#f4ee92 165px,#ebec8f 168px,#cfe382 171px,#b4da76 174px,#9ad16b 177px,#82c960 180px,#6dc257 183px,#5dbd4f 186px,#57ba4c 189px,#52b359 192px,#51a481 195px,#5199a0 198px,#508fbb 201px,#4f89c6 204px,#4e84c3 207px,#4d80c0 210px,#4c7bbe 213px,#4b76bb 216px,#4a72b8 219px,#496db5 222px,#4869b3 225px,#4766b1 228px,#4662af 231px,#455fad 234px,#445cab 237px,#4459a9 240px,#4356a7 243px,#4253a5 246px,#4150a3 249px,#414da2 252px,#404ba1 255px,#404aa0 258px,#3f489f 261px,#3f469e 264px,#3f459d 267px,#3e449c 270px,#3e429b 273px,#3e419b 276px,#3e409a 279px,#3d3f9a 282px,#3d3f99 285px,#3d3e99 288px)"></i>
<i style="left:776.30px;width:7.64px;background:linear-gradient(#4971b7 0px,#4a73b9 3px,#4b76ba 6px,#4b78bc 9px,#4c7abd 12px,#4c7cbe 15px,#4d7ebf 18px,#4d7fc0 21px,#4d81c1 24px,#4e82c2 27px,#4e84c3 30px,#4f87c5 33px,#508bc7 36px,#508ebe 39px,#5093b1 42px,#5198a2 45px,#519f90 48px,#51a57e 51px,#51ac6b 54px,#52b359 57px,#53b84a 60px,#57ba4c 63px,#5bbc4f 66px,#63bf52 69px,#71c459 72px,#83c960 75px,#98d06a 78px,#afd874 81px,#c8e07f 84px,#e2e98a 87px,#f4ee92 90px,#f6ec91 93px,#e7d787 96px,#d5bf7a 99px,#c4a86f 102px,#b59465 105px,#a7805b 108px,#9b7053 111px,#91624c 114px,#8c5a49 117px,#916252 120px,#946757 123px,#976b5c 126px,#986c5e 129px,#976b5c 132px,#956758 135px,#916151 138px,#8b5a49 141px,#92634c 144px,#9d7154 147px,#a9835d 150px,#b89767 153px,#c8ad71 156px,#d9c57d 159px,#ecde8a 162px,#f5ed91 165px,#f2ef92 168px,#d5e585 171px,#b9db78 174px,#9ed26c 177px,#85ca61 180px,#6fc358 183px,#5ebd50 186px,#57ba4d 189px,#52b455 192px,#51a57e 195px,#519a9e 198px,#5090b9 201px,#5089c6 204px,#4e84c3 207px,#4d80c0 210px,#4c7cbe 213px,#4b77bb 216px,#4a72b8 219px,#496db5 222px,#4869b3 225px,#4766b1 228px,#4662af 231px,#455fad 234px,#445cab 237px,#4459a9 240px,#4356a7 243px,#4253a5 246px,#4150a4 249px,#414da2 252px,#404ba1 255px,#404aa0 258px,#3f489f 261px,#3f469e 264px,#3f459d 267px,#3e449c 270px,#3e439c 273px,#3e419b 276px,#3e409a 279px,#3d3f9a 282px,#3d3f99 285px,#3d3e99 288px)"></i>
<i style="left:783.34px;width:7.64px;background:linear-gradient(#4970b7 0px,#4a73b9 3px,#4b76ba 6px,#4b78bc 9px,#4c7abd 12px,#4c7cbe 15px,#4d7ebf 18px,#4d7fc0 21px,#4d80c1 24px,#4e82c2 27px,#4e84c3 30px,#4f87c5 33px,#508ac7 36px,#508ebe 39px,#5093b1 42px,#5198a2 45px,#519f90 48px,#51a57e 51px,#51ac6b 54px,#52b359 57px,#53b84a 60px,#57ba4c 63px,#5bbc4f 66px,#63bf52 69px,#71c459 72px,#83c960 75px,#97d069 78px,#aed874 81px,#c7e07f 84px,#e1e98a 87px,#f4ee92 90px,#f6ec91 93px,#e6d686 96px,#d4bd79 99px,#c2a56e 102px,#b39063 105px,#a47c59 108px,#976a50 111px,#8c5b49 114px,#916252 117px,#966a5b 120px,#9a6f61 123px,#9d7465 126px,#9f7668 129px,#9e7466 132px,#9b7062 135px,#976b5c 138px,#926353 141px,#8b5a48 144px,#96684f 147px,#a37a58 150px,#b28f62 153px,#c2a56d 156px,#d4bd7a 159px,#e7d787 162px,#f5ed91 165px,#f3ef92 168px,#dbe787 171px,#bedd7a 174px,#a2d46e 177px,#89cb63 180px,#72c459 183px,#5fbd50 186px,#58ba4d 189px,#52b551 192px,#51a67b 195px,#519a9c 198px,#5091b7 201px,#508ac6 204px,#4e84c3 207px,#4d80c1 210px,#4c7cbe 213px,#4b77bb 216px,#4a72b8 219px,#496eb5 222px,#486ab3 225px,#4766b1 228px,#4663af 231px,#455fad 234px,#445cab 237px,#4459a9 240px,#4356a7 243px,#4253a5 246px,#4150a4 249px,#414ea2 252px,#404ca1 255px,#404aa0 258px,#3f489f 261px,#3f479e 264px,#3f459d 267px,#3e449c 270px,#3e439c 273px,#3e419b 276px,#3e409a 279px,#3d3f9a 282px,#3d3f99 285px,#3d3e99 288px)"></i>
<i style="left:790.38px;width:7.64px;background:linear-gradient(#4970b7 0px,#4a73b9 3px,#4b75ba 6px,#4b78bb 9px,#4c7abd 12px,#4c7cbe 15px,#4d7ebf 18px,#4d7fc0 21px,#4d80c1 24px,#4e82c2 27px,#4e84c3 30px,#4f87c5 33px,#508bc7 36px,#508ebe 39px,#5093b1 42px,#5199a1 45px,#519f90 48px,#51a67d 51px,#51ac6a 54px,#52b358 57px,#53b84a 60px,#57ba4d 63px,#5bbc4f 66px,#64bf52 69px,#72c459 72px,#85ca61 75px,#9ad16b 78px,#b2d975 81px,#cbe280 84px,#e5ea8c 87px,#f4ee92 90px,#f6ec91 93px,#e8d887 96px,#d4be7a 99px,#c1a36d 102px,#ae8a60 105px,#9e7354 108px,#90614b 111px,#8c5b4b 114px,#946656 117px,#9a6f61 120px,#a07769 123px,#a47d6f 126px,#a57f72 129px,#a47d70 132px,#a1796b 135px,#9c7163 138px,#956858 141px,#8e5d4d 144px,#8f5e4a 147px,#9b6f53 150px,#ab855e 153px,#bd9e6a 156px,#d1b978 159px,#e5d485 162px,#f6ec91 165px,#f4ee92 168px,#e3ea8b 171px,#c6e07e 174px,#a9d671 177px,#8ecd65 180px,#75c55a 183px,#62be52 186px,#59bb4d 189px,#52b74d 192px,#51a876 195px,#519c99 198px,#5091b6 201px,#508ac6 204px,#4e85c3 207px,#4d81c1 210px,#4c7cbe 213px,#4b77bb 216px,#4a73b8 219px,#496eb6 222px,#486ab3 225px,#4766b1 228px,#4663af 231px,#4560ad 234px,#455cab 237px,#4459a9 240px,#4356a7 243px,#4253a5 246px,#4250a4 249px,#414ea2 252px,#404ca1 255px,#404aa0 258px,#40489f 261px,#3f479e 264px,#3f459d 267px,#3e449c 270px,#3e439c 273px,#3e429b 276px,#3e409a 279px,#3d3f9a 282px,#3d3e99 285px,#3d3e99 288px)"></i>
<i style="left:797.42px;width:7.64px;background:linear-gradient(#4970b7 0px,#4a73b8 3px,#4b75ba 6px,#4b78bb 9px,#4c7abd 12px,#4c7cbe 15px,#4d7dbf 18px,#4d7fc0 21px,#4d80c1 24px,#4e82c2 27px,#4e85c3 30px,#4f87c5 33px,#508bc7 36px,#508ebe 39px,#5093b0 42px,#5199a0 45px,#519f8e 48px,#51a67c 51px,#52ad69 54px,#52b456 57px,#53b94b 60px,#58ba4d 63px,#5cbc4f 66px,#65bf53 69px,#74c45a 72px,#87cb62 75px,#9dd26c 78px,#b5da76 81px,#cfe382 84px,#e9ec8e 87px,#f4ee92 90px,#f6ec91 93px,#e4d385 96px,#d0b877 99px,#bd9d6a 102px,#aa845d 105px,#996d51 108px,#8b5948 111px,#946757 114px,#9e7466 117px,#a47d6f 120px,#a88276 123px,#ab877b 126px,#ac897d 129px,#ab877b 132px,#a88377 135px,#a47e70 138px,#9f7668 141px,#96695a 144px,#8b5948 147px,#96694f 150px,#a77f5b 153px,#b99867 156px,#ccb374 159px,#e0ce82 162px,#f3e88f 165px,#f4ee92 168px,#e9ec8e 171px,#cbe280 174px,#aed873 177px,#92cf67 180px,#7ac65c 183px,#64bf53 186px,#5abb4e 189px,#53b84a 192px,#51aa71 195px,#519d96 198px,#5092b3 201px,#508bc7 204px,#4f85c3 207px,#4d81c1 210px,#4c7dbe 213px,#4b78bb 216px,#4a73b9 219px,#496eb6 222px,#486ab3 225px,#4767b1 228px,#4663af 231px,#4560ad 234px,#455dab 237px,#445aa9 240px,#4356a7 243px,#4253a6 246px,#4251a4 249px,#414ea2 252px,#404ca1 255px,#404aa0 258px,#40489f 261px,#3f479e 264px,#3f459d 267px,#3e449c 270px,#3e439c 273px,#3e429b 276px,#3e409a 279px,#3d3f9a 282px,#3d3e99 285px,#3d3e99 288px)"></i>
<i style="left:804.46px;width:7.64px;background:linear-gradient(#4970b7 0px,#4a72b8 3px,#4b75ba 6px,#4b77bb 9px,#4c7abd 12px,#4c7cbe 15px,#4d7dbf 18px,#4d7fc0 21px,#4d80c1 24px,#4e82c2 27px,#4e85c3 30px,#4f87c5 33px,#508bc7 36px,#508fbd 39px,#5094af 42px,#519a9f 45px,#51a08c 48px,#51a779 51px,#52ae66 54px,#52b554 57px,#54b94b 60px,#58bb4d 63px,#5dbc4f 66px,#67c054 69px,#77c55b 72px,#8acc63 75px,#a0d36d 78px,#b9dc78 81px,#d4e484 84px,#efee90 87px,#f5ed91 90px,#f1e58e 93px,#ddca80 96px,#c8ae72 99px,#b49164 102px,#a07756 105px,#90604b 108px,#916252 111px,#9d7364 114px,#a68073 117px,#ac887c 120px,#b08e82 123px,#b39287 126px,#b49489 129px,#b39287 132px,#b08e83 135px,#ac887c 138px,#a78174 141px,#9e7466 144px,#936455 147px,#8e5d4a 150px,#9e7354 153px,#b08c61 156px,#c5a86f 159px,#dac57e 162px,#eee18c 165px,#f5ed91 168px,#efee90 171px,#d1e483 174px,#b3da76 177px,#97d069 180px,#7ec85e 183px,#68c054 186px,#5bbc4e 189px,#54b94b 192px,#51ac6c 195px,#519e93 198px,#5093b1 201px,#508bc7 204px,#4f85c4 207px,#4e81c1 210px,#4c7dbe 213px,#4b78bc 216px,#4a73b9 219px,#496fb6 222px,#486bb4 225px,#4767b1 228px,#4663af 231px,#4560ad 234px,#455dab 237px,#445aa9 240px,#4357a8 243px,#4254a6 246px,#4251a4 249px,#414ea2 252px,#404ca1 255px,#404aa0 258px,#40489f 261px,#3f479e 264px,#3f459d 267px,#3e449c 270px,#3e439c 273px,#3e429b 276px,#3e419a 279px,#3d3f9a 282px,#3d3e99 285px,#3d3e99 288px)"></i>
<i style="left:811.50px;width:7.64px;background:linear-gradient(#4970b7 0px,#4a72b8 3px,#4a75ba 6px,#4b77bb 9px,#4c79bc 12px,#4c7bbe 15px,#4d7dbf 18px,#4d7fc0 21px,#4d81c1 24px,#4e83c2 27px,#4e85c3 30px,#4f88c5 33px,#508bc7 36px,#508fbc 39px,#5094ae 42px,#519a9d 45px,#51a18a 48px,#51a877 51px,#52af63 54px,#52b651 57px,#55b94b 60px,#59bb4d 63px,#5dbd50 66px,#69c155 69px,#7ac65c 72px,#8ecd65 75px,#a5d56f 78px,#bedd7b 81px,#d9e686 84px,#f3ef92 87px,#f5ed91 90px,#ebdd8a 93px,#d5bf7b 96px,#bfa06b 99px,#a9835c 102px,#96684f 105px,#8d5d4c 108px,#9a6f61 111px,#a68073 114px,#af8d81 117px,#b4948a 120px,#b99a90 123px,#bb9f95 126px,#bda097 129px,#bb9f95 132px,#b89a90 135px,#b4958a 138px,#af8d82 141px,#a78174 144px,#9c7163 147px,#8f5f4f 150px,#94654e 153px,#a67f5a 156px,#bc9c69 159px,#d2bb78 162px,#e8d988 165px,#f5ed91 168px,#f3ef92 171px,#d6e585 174px,#b8db78 177px,#9cd26b 180px,#82c960 183px,#6bc156 186px,#5cbc4f 189px,#55b94b 192px,#52ae67 195px,#519f90 198px,#5094af 201px,#508bc6 204px,#4f86c4 207px,#4e81c1 210px,#4d7dbf 213px,#4b78bc 216px,#4a73b9 219px,#496fb6 222px,#486bb4 225px,#4767b1 228px,#4664af 231px,#4560ad 234px,#455dab 237px,#445aaa 240px,#4357a8 243px,#4254a6 246px,#4251a4 249px,#414ea3 252px,#404ca1 255px,#404aa0 258px,#40499f 261px,#3f479e 264px,#3f469d 267px,#3f449d 270px,#3e439c 273px,#3e429b 276px,#3e419a 279px,#3d3f9a 282px,#3d3e99 285px,#3d3d98 288px)"></i>
<i style="left:818.54px;width:7.64px;background:linear-gradient(#496fb6 0px,#4a72b8 3px,#4a74b9 6px,#4b77bb 9px,#4c79bc 12px,#4c7bbd 15px,#4d7dbf 18px,#4d7fc0 21px,#4d81c1 24px,#4e83c2 27px,#4f85c3 30px,#4f88c5 33px,#508bc6 36px,#508fbb 39px,#5095ac 42px,#519b9b 45px,#51a287 48px,#51a974 51px,#52b060 54px,#52b74d 57px,#56b94c 60px,#5abb4e 63px,#5fbd50 66px,#6cc256 69px,#7dc75e 72px,#92ce67 75px,#a9d671 78px,#c4df7d 81px,#dfe889 84px,#f4ee92 87px,#f6ec91 90px,#e4d384 93px,#ccb374 96px,#b49264 99px,#9e7355 102px,#8b5947 105px,#996d5e 108px,#a57f72 111px,#b18f84 114px,#ba9c92 117px,#bfa49b 120px,#c3aaa1 123px,#c6aea6 126px,#c7afa7 129px,#c6aea5 132px,#c3a9a1 135px,#bfa39a 138px,#ba9c92 141px,#b18f84 144px,#a68073 147px,#9a6f60 150px,#8b5a49 153px,#9b7053 156px,#b18e62 159px,#caaf73 162px,#e2d083 165px,#f6ec91 168px,#f4ee92 171px,#dbe787 174px,#bddd7a 177px,#a0d36d 180px,#86ca62 183px,#6fc357 186px,#5dbd4f 189px,#56ba4c 192px,#52b061 195px,#51a08c 198px,#5094ad 201px,#508cc5 204px,#4f86c4 207px,#4e82c1 210px,#4d7dbf 213px,#4b79bc 216px,#4a74b9 219px,#496fb6 222px,#486bb4 225px,#4767b2 228px,#4664af 231px,#4560ad 234px,#455dac 237px,#445aaa 240px,#4357a8 243px,#4254a6 246px,#4251a4 249px,#414ea3 252px,#404ca1 255px,#404aa0 258px,#40499f 261px,#3f479e 264px,#3f469d 267px,#3f449d 270px,#3e439c 273px,#3e429b 276px,#3e419a 279px,#3d3f9a 282px,#3d3e99 285px,#3d3d98 288px)"></i>
<i style="left:825.58px;width:7.64px;background:linear-gradient(#496fb6 0px,#4a72b8 3px,#4a74b9 6px,#4b77bb 9px,#4b79bc 12px,#4c7bbd 15px,#4d7dbf 18px,#4d7fc0 21px,#4d81c1 24px,#4e83c2 27px,#4f85c4 30px,#4f88c5 33px,#508cc5 36px,#5090b9 39px,#5096aa 42px,#519c97 45px,#51a384 48px,#51ab6f 51px,#52b25b 54px,#52b84a 57px,#57ba4c 60px,#5bbc4e 63px,#61be52 66px,#70c358 69px,#82c960 72px,#97d069 75px,#b0d974 78px,#cbe280 81px,#e8eb8d 84px,#f4ee92 87px,#f1e58d 90px,#d9c47d 93px,#bfa16b 96px,#a67f5a 99px,#90604b 102px,#966959 105px,#a57e71 108px,#b29186 111px,#bda198 114px,#c7aea6 117px,#ccb6af 120px,#d0bcb5 123px,#d3c0ba 126px,#d4c1bb 129px,#d2bfb9 132px,#cfbbb4 135px,#cbb5ad 138px,#c6ada5 141px,#bca096 144px,#b29085 147px,#a57f72 150px,#976a5b 153px,#8e5d4a 156px,#a47c59 159px,#be9f6b 162px,#d9c47d 165px,#f2e78e 168px,#f4ee92 171px,#e1e98a 174px,#c2df7c 177px,#a6d570 180px,#8bcc64 183px,#73c459 186px,#5ebd50 189px,#57ba4c 192px,#52b25b 195px,#51a189 198px,#5095aa 201px,#508cc4 204px,#4f86c4 207px,#4e82c1 210px,#4d7ebf 213px,#4c79bc 216px,#4a74b9 219px,#496fb6 222px,#486bb4 225px,#4767b2 228px,#4664b0 231px,#4661ae 234px,#455dac 237px,#445aaa 240px,#4357a8 243px,#4254a6 246px,#4251a4 249px,#414fa3 252px,#414ca1 255px,#404aa0 258px,#40499f 261px,#3f479e 264px,#3f469d 267px,#3f449d 270px,#3e439c 273px,#3e429b 276px,#3e419a 279px,#3d3f9a 282px,#3d3e99 285px,#3d3d98 288px)"></i>
<i style="left:832.62px;width:7.64px;background:linear-gradient(#496fb6 0px,#4a71b8 3px,#4a74b9 6px,#4b76bb 9px,#4b79bc 12px,#4c7bbd 15px,#4c7dbe 18px,#4d7fc0 21px,#4d81c1 24px,#4e83c2 27px,#4f86c4 30px,#4f88c5 33px,#508cc4 36px,#5091b8 39px,#5197a7 42px,#519d94 45px,#51a57f 48px,#51ac6a 51px,#52b456 54px,#53b94b 57px,#58ba4d 60px,#5cbc4f 63px,#65bf53 66px,#74c45a 69px,#87cb62 72px,#9ed36c 75px,#b8db78 78px,#d4e584 81px,#f3ef92 84px,#f5ed91 87px,#e7d887 90px,#cdb475 93px,#b28f63 96px,#9a6d52 99px,#8f5f4f 102px,#a1786b 105px,#b08f83 108px,#bea298 111px,#c9b3ab 114px,#d3c0b9 117px,#d8c7c2 120px,#dccec9 123px,#dfd2cd 126px,#e0d3ce 129px,#ded0cc 132px,#dbccc6 135px,#d7c5c0 138px,#d1bdb7 141px,#c7b0a8 144px,#bca096 147px,#b08e82 150px,#a1796b 153px,#906151 156px,#986c51 159px,#b39063 162px,#d0b877 165px,#ecde8a 168px,#f4ee92 171px,#e7eb8d 174px,#c7e07f 177px,#aad772 180px,#8fcd66 183px,#77c55b 186px,#61be51 189px,#58ba4d 192px,#52b456 195px,#51a385 198px,#5096a8 201px,#508dc3 204px,#4f86c4 207px,#4e82c2 210px,#4d7ebf 213px,#4c79bc 216px,#4a74b9 219px,#4970b7 222px,#486bb4 225px,#4768b2 228px,#4664b0 231px,#4661ae 234px,#455eac 237px,#445baa 240px,#4357a8 243px,#4254a6 246px,#4251a4 249px,#414fa3 252px,#414ca1 255px,#404ba0 258px,#40499f 261px,#3f479e 264px,#3f469e 267px,#3f459d 270px,#3e439c 273px,#3e429b 276px,#3e419a 279px,#3d3f9a 282px,#3d3e99 285px,#3d3d98 288px)"></i>
<i style="left:839.66px;width:7.64px;background:linear-gradient(#496fb6 0px,#4a71b7 3px,#4a74b9 6px,#4b76ba 9px,#4b78bc 12px,#4c7bbd 15px,#4c7dbe 18px,#4d7fc0 21px,#4e81c1 24px,#4e83c2 27px,#4f86c4 30px,#4f89c6 33px,#508cc3 36px,#5091b6 39px,#5197a5 42px,#519e91 45px,#51a67c 48px,#52ae66 51px,#52b552 54px,#55b94b 57px,#59bb4d 60px,#5dbd50 63px,#68c054 66px,#79c65c 69px,#8dcd65 72px,#a5d56f 75px,#c0de7b 78px,#dde888 81px,#f4ee92 84px,#f6ec91 87px,#decc81 90px,#c3a66e 93px,#a8815c 96px,#90604b 99px,#986c5d 102px,#aa8579 105px,#ba9c92 108px,#c8b0a8 111px,#d4c1bb 114px,#ddcec9 117px,#e2d6d2 120px,#e7dcd9 123px,#e9e0dd 126px,#eae1de 129px,#e8dfdb 132px,#e5dad6 135px,#e0d3cf 138px,#dacac5 141px,#d0bcb5 144px,#c5aca3 147px,#b8998f 150px,#a88377 153px,#976b5c 156px,#91614c 159px,#ab855e 162px,#c9af72 165px,#e7d887 168px,#f5ed91 171px,#eaec8e 174px,#cae180 177px,#acd773 180px,#91ce67 183px,#78c65c 186px,#63bf52 189px,#59bb4d 192px,#52b554 195px,#51a383 198px,#5197a7 201px,#508dc2 204px,#4f87c4 207px,#4e82c2 210px,#4d7ebf 213px,#4c79bc 216px,#4a74b9 219px,#4970b7 222px,#486cb4 225px,#4768b2 228px,#4664b0 231px,#4661ae 234px,#455eac 237px,#445baa 240px,#4357a8 243px,#4354a6 246px,#4251a4 249px,#414fa3 252px,#414da2 255px,#404ba0 258px,#40499f 261px,#3f479e 264px,#3f469e 267px,#3f459d 270px,#3e439c 273px,#3e429b 276px,#3e419a 279px,#3d3f9a 282px,#3d3e99 285px,#3d3d98 288px)"></i>
<i style="left:846.70px;width:7.64px;background:linear-gradient(#496eb6 0px,#4a71b7 3px,#4a73b9 6px,#4b76ba 9px,#4b78bc 12px,#4c7abd 15px,#4c7cbe 18px,#4d7fc0 21px,#4e81c1 24px,#4e83c2 27px,#4f86c4 30px,#4f89c6 33px,#508cc3 36px,#5091b6 39px,#5198a4 42px,#519f8f 45px,#51a779 48px,#52af63 51px,#52b64f 54px,#55b94c 57px,#5abb4e 60px,#5ebd50 63px,#6cc256 66px,#7ec85e 69px,#93cf68 72px,#acd772 75px,#c7e07f 78px,#e5ea8c 81px,#f4ee92 84px,#f1e58e 87px,#d8c27c 90px,#bc9c69 93px,#a17757 96px,#8c5a49 99px,#a07769 102px,#b29186 105px,#c3a9a0 108px,#d1bdb6 111px,#ddcec9 114px,#e6dcd8 117px,#ece4e1 120px,#f0eae8 123px,#f3eeec 126px,#f4efed 129px,#f2ecea 132px,#eee7e4 135px,#e9e0dd 138px,#e2d6d2 141px,#d8c7c2 144px,#ccb6af 147px,#bda198 150px,#ad8a7e 153px,#9c7163 156px,#8c5b48 159px,#a7805b 162px,#c6ab70 165px,#e6d586 168px,#f5ed91 171px,#ebec8e 174px,#cae180 177px,#add773 180px,#91ce67 183px,#79c65c 186px,#63bf52 189px,#59bb4d 192px,#52b554 195px,#51a384 198px,#5196a7 201px,#508dc3 204px,#4f86c4 207px,#4e82c2 210px,#4d7ebf 213px,#4c79bc 216px,#4a74b9 219px,#4970b7 222px,#486bb4 225px,#4768b2 228px,#4664b0 231px,#4661ae 234px,#455eac 237px,#445baa 240px,#4357a8 243px,#4254a6 246px,#4251a4 249px,#414fa3 252px,#414ca1 255px,#404ba0 258px,#40499f 261px,#3f479e 264px,#3f469e 267px,#3f459d 270px,#3e439c 273px,#3e429b 276px,#3e419a 279px,#3d3f9a 282px,#3d3e99 285px,#3d3d98 288px)"></i>
<i style="left:853.74px;width:7.64px;background:linear-gradient(#496eb6 0px,#4970b7 3px,#4a73b8 6px,#4b75ba 9px,#4b78bb 12px,#4c7abd 15px,#4c7cbe 18px,#4d7ebf 21px,#4d81c1 24px,#4e83c2 27px,#4f86c4 30px,#4f89c6 33px,#508cc3 36px,#5091b5 39px,#5198a3 42px,#51a08d 45px,#51a877 48px,#52b061 51px,#52b74c 54px,#56ba4c 57px,#5bbc4e 60px,#62be52 63px,#71c359 66px,#84ca61 69px,#9ad16b 72px,#b3da76 75px,#cfe382 78px,#eded8f 81px,#f5ed91 84px,#ebdd89 87px,#d0b877 90px,#b49164 93px,#996c51 96px,#936455 99px,#a78174 102px,#b99b91 105px,#cab3ab 108px,#d8c7c1 111px,#e4d8d4 114px,#ede5e3 117px,#f2edeb 120px,#f7f3f2 123px,#faf7f6 126px,#faf8f7 129px,#f8f5f4 132px,#f4efee 135px,#efe8e6 138px,#e8dedb 141px,#ddcfca 144px,#d1bdb6 147px,#c2a89f 150px,#b19084 153px,#9f7668 156px,#8b5a49 159px,#a47b59 162px,#c4a76f 165px,#e4d485 168px,#f5ed91 171px,#ebec8f 174px,#cae180 177px,#acd773 180px,#91ce67 183px,#78c65c 186px,#62be52 189px,#58bb4d 192px,#52b454 195px,#51a385 198px,#5096a9 201px,#508cc4 204px,#4f86c4 207px,#4e82c1 210px,#4d7dbf 213px,#4b79bc 216px,#4a74b9 219px,#496fb6 222px,#486bb4 225px,#4767b2 228px,#4664af 231px,#4560ad 234px,#455dac 237px,#445aaa 240px,#4357a8 243px,#4254a6 246px,#4251a4 249px,#414ea3 252px,#404ca1 255px,#404aa0 258px,#40499f 261px,#3f479e 264px,#3f469d 267px,#3f449d 270px,#3e439c 273px,#3e429b 276px,#3e409a 279px,#3d3f9a 282px,#3d3e99 285px,#3d3d98 288px)"></i>
<i style="left:860.78px;width:7.64px;background:linear-gradient(#496eb5 0px,#4970b7 3px,#4a72b8 6px,#4a75ba 9px,#4b77bb 12px,#4c79bc 15px,#4c7cbe 18px,#4d7ebf 21px,#4d81c1 24px,#4e83c2 27px,#4f86c4 30px,#4f89c6 33px,#508cc3 36px,#5092b5 39px,#5198a2 42px,#51a08c 45px,#51a875 48px,#52b15f 51px,#52b84a 54px,#57ba4c 57px,#5cbc4f 60px,#66c054 63px,#76c55b 66px,#8acc64 69px,#a1d36e 72px,#badc79 75px,#d5e585 78px,#f3ef92 81px,#f5ed91 84px,#e5d585 87px,#c9af72 90px,#ad875f 93px,#92634c 96px,#986d5e 99px,#ac887c 102px,#bea298 105px,#ceb9b2 108px,#dccdc8 111px,#e8dedb 114px,#f1ebe9 117px,#f6f2f1 120px,#faf8f7 123px,#fdfcfc 126px,#fdfcfc 129px,#fbf9f8 132px,#f7f3f2 135px,#f2eceb 138px,#ebe2df 141px,#e0d2ce 144px,#d3c0ba 147px,#c4aba2 150px,#b39387 153px,#a1796b 156px,#8d5c4c 159px,#a27857 162px,#c2a56e 165px,#e3d284 168px,#f5ed91 171px,#ebec8f 174px,#cae180 177px,#acd773 180px,#91ce66 183px,#78c65b 186px,#62be52 189px,#58bb4d 192px,#52b455 195px,#51a288 198px,#5094ad 201px,#508bc6 204px,#4f85c4 207px,#4e81c1 210px,#4c7dbe 213px,#4b78bc 216px,#4a73b9 219px,#496eb6 222px,#486ab3 225px,#4767b1 228px,#4663af 231px,#4560ad 234px,#455dab 237px,#445aa9 240px,#4356a7 243px,#4253a6 246px,#4250a4 249px,#414ea2 252px,#404ca1 255px,#404aa0 258px,#40489f 261px,#3f479e 264px,#3f459d 267px,#3e449c 270px,#3e439c 273px,#3e429b 276px,#3e409a 279px,#3d3f99 282px,#3d3e99 285px,#3d3d98 288px)"></i>
<i style="left:867.82px;width:7.64px;background:linear-gradient(#496db5 0px,#496fb6 3px,#4a72b8 6px,#4a74b9 9px,#4b76bb 12px,#4c79bc 15px,#4c7bbe 18px,#4d7ebf 21px,#4d80c1 24px,#4e83c2 27px,#4f86c4 30px,#4f89c6 33px,#508dc3 36px,#5092b4 39px,#5199a1 42px,#51a08b 45px,#51a974 48px,#52b15d 51px,#52b84a 54px,#57ba4d 57px,#5dbc4f 60px,#69c155 63px,#7ac65c 66px,#8ecd65 69px,#a5d56f 72px,#bedd7a 75px,#d9e687 78px,#f3ef92 81px,#f6ec91 84px,#e2d083 87px,#c5a970 90px,#a8825c 93px,#8e5e4a 96px,#9c7163 99px,#af8c81 102px,#c1a69d 105px,#d1bdb6 108px,#ded0cb 111px,#eae1de 114px,#f3edec 117px,#f8f5f4 120px,#fcfbfa 123px,#fffefe 126px,#fffffe 129px,#fcfbfb 132px,#f8f6f5 135px,#f4efed 138px,#ece4e1 141px,#e1d4d0 144px,#d4c2bc 147px,#c5aca4 150px,#b49489 153px,#a27a6d 156px,#8e5e4d 159px,#a17756 162px,#c1a46d 165px,#e3d184 168px,#f5ed91 171px,#ebec8f 174px,#cae180 177px,#abd772 180px,#90ce66 183px,#77c55b 186px,#61be51 189px,#58bb4d 192px,#52b357 195px,#51a08c 198px,#5093b1 201px,#508ac6 204px,#4e84c3 207px,#4d80c0 210px,#4c7cbe 213px,#4b77bb 216px,#4a72b8 219px,#496db5 222px,#4869b3 225px,#4766b1 228px,#4662af 231px,#455fad 234px,#445cab 237px,#4459a9 240px,#4356a7 243px,#4253a5 246px,#4150a3 249px,#414da2 252px,#404ba1 255px,#4049a0 258px,#3f489f 261px,#3f469e 264px,#3f459d 267px,#3e449c 270px,#3e429b 273px,#3e419b 276px,#3d409a 279px,#3d3f99 282px,#3d3e99 285px,#3d3d98 288px)"></i>
<i style="left:874.86px;width:7.64px;background:linear-gradient(#486cb5 0px,#496fb6 3px,#4a71b7 6px,#4a73b9 9px,#4b76ba 12px,#4b78bc 15px,#4c7bbd 18px,#4d7dbf 21px,#4d80c0 24px,#4e83c2 27px,#4f86c4 30px,#4f89c6 33px,#508cc3 36px,#5092b4 39px,#5199a1 42px,#51a08b 45px,#51a974 48px,#52b15d 51px,#52b84a 54px,#57ba4d 57px,#5dbc4f 60px,#69c155 63px,#7ac65c 66px,#8ecd65 69px,#a5d56f 72px,#bedd7b 75px,#dae787 78px,#f3ef92 81px,#f6ec91 84px,#e1d083 87px,#c5a96f 90px,#a8815b 93px,#8e5d49 96px,#9c7263 99px,#af8d81 102px,#c1a69d 105px,#d1bdb7 108px,#ded0cc 111px,#eae1de 114px,#f3eeec 117px,#f8f5f4 120px,#fcfbfa 123px,#fffefe 126px,#fff 129px,#fcfbfb 132px,#f8f6f5 135px,#f4efed 138px,#ece4e1 141px,#e1d4cf 144px,#d4c2bc 147px,#c5aca4 150px,#b49489 153px,#a27a6d 156px,#8e5d4d 159px,#a17757 162px,#c2a46d 165px,#e3d284 168px,#f5ed91 171px,#ebec8e 174px,#c9e17f 177px,#aad772 180px,#8ecd65 183px,#75c55a 186px,#60be51 189px,#58ba4d 192px,#52b25b 195px,#519e91 198px,#5091b6 201px,#4f89c6 204px,#4e83c2 207px,#4d7fc0 210px,#4c7bbd 213px,#4b76ba 216px,#4a71b7 219px,#486cb5 222px,#4768b2 225px,#4765b0 228px,#4661ae 231px,#455eac 234px,#445baa 237px,#4358a8 240px,#4355a6 243px,#4252a5 246px,#414fa3 249px,#414da2 252px,#404ba0 255px,#40499f 258px,#3f479e 261px,#3f469e 264px,#3f459d 267px,#3e439c 270px,#3e429b 273px,#3e419b 276px,#3d409a 279px,#3d3f99 282px,#3d3e99 285px,#3d3d98 288px)"></i>
<i style="left:881.90px;width:7.64px;background:linear-gradient(#486cb4 0px,#496eb6 3px,#4970b7 6px,#4a73b8 9px,#4b75ba 12px,#4b78bb 15px,#4c7abd 18px,#4c7dbe 21px,#4d80c0 24px,#4e82c2 27px,#4f85c4 30px,#4f88c5 33px,#508cc4 36px,#5091b5 39px,#5198a3 42px,#51a08d 45px,#51a876 48px,#52b05f 51px,#52b84a 54px,#57ba4d 57px,#5cbc4f 60px,#67c054 63px,#79c65c 66px,#8dcd65 69px,#a4d46f 72px,#bddd7a 75px,#d9e687 78px,#f3ef92 81px,#f6ec91 84px,#e1cf83 87px,#c5a86f 90px,#a8815b 93px,#8e5d49 96px,#9c7263 99px,#af8d81 102px,#c1a69d 105px,#d1bdb7 108px,#ded1cc 111px,#eae2df 114px,#f3eeec 117px,#f8f5f4 120px,#fcfbfb 123px,#fffefe 126px,#fff 129px,#fcfbfb 132px,#f8f5f5 135px,#f3eeed 138px,#ece3e0 141px,#e0d3cf 144px,#d3c1ba 147px,#c4aba2 150px,#b39287 153px,#a0786a 156px,#8c5b4a 159px,#a47b59 162px,#c5a86f 165px,#e6d586 168px,#f5ed91 171px,#e7eb8d 174px,#c5e07e 177px,#a6d570 180px,#8acc63 183px,#71c358 186px,#5ebd50 189px,#56ba4c 192px,#52ad68 195px,#519b9b 198px,#508ebe 201px,#4f87c5 204px,#4e82c2 207px,#4d7ebf 210px,#4c79bc 213px,#4a74b9 216px,#496fb6 219px,#486bb4 222px,#4767b1 225px,#4663af 228px,#4560ad 231px,#455dab 234px,#445aa9 237px,#4357a8 240px,#4254a6 243px,#4251a4 246px,#414ea2 249px,#404ca1 252px,#404aa0 255px,#3f489f 258px,#3f479e 261px,#3f459d 264px,#3e449c 267px,#3e439c 270px,#3e429b 273px,#3e409a 276px,#3d3f9a 279px,#3d3e99 282px,#3d3e99 285px,#3d3d98 288px)"></i>
<i style="left:888.94px;width:7.64px;background:linear-gradient(#486bb4 0px,#496db5 3px,#496fb6 6px,#4a72b8 9px,#4a74b9 12px,#4b77bb 15px,#4c79bc 18px,#4c7cbe 21px,#4d7fc0 24px,#4e82c1 27px,#4e85c3 30px,#4f88c5 33px,#508cc5 36px,#5091b7 39px,#5197a5 42px,#519f90 45px,#51a779 48px,#52af62 51px,#52b74d 54px,#56ba4c 57px,#5bbc4f 60px,#65bf53 63px,#76c55b 66px,#8bcc64 69px,#a2d46e 72px,#bcdd7a 75px,#d8e686 78px,#f3ef92 81px,#f6ec91 84px,#e1cf83 87px,#c5a86f 90px,#a8815b 93px,#8e5d49 96px,#9c7263 99px,#af8d81 102px,#c1a79e 105px,#d1beb7 108px,#dfd1cc 111px,#eae2df 114px,#f3eeec 117px,#f8f5f4 120px,#fcfbfb 123px,#fffffe 126px,#fffffe 129px,#fcfbfb 132px,#f8f5f4 135px,#f3eeec 138px,#ebe2df 141px,#dfd2cd 144px,#d2bfb8 147px,#c2a89f 150px,#b08f84 153px,#9e7466 156px,#8c5a48 159px,#a8815c 162px,#c9af72 165px,#eadc89 168px,#f4ee92 171px,#e1e98a 174px,#bfde7b 177px,#a0d36d 180px,#84ca61 183px,#6cc256 186px,#5cbc4f 189px,#54b94b 192px,#51a877 195px,#5197a5 198px,#508cc4 201px,#4f85c4 204px,#4d81c1 207px,#4c7cbe 210px,#4b77bb 213px,#4a72b8 216px,#496db5 219px,#4869b3 222px,#4765b0 225px,#4662ae 228px,#455fac 231px,#445baa 234px,#4358a9 237px,#4355a7 240px,#4252a5 243px,#414fa3 246px,#414da2 249px,#404ba0 252px,#40499f 255px,#3f479e 258px,#3f469e 261px,#3f459d 264px,#3e439c 267px,#3e429b 270px,#3e419b 273px,#3d409a 276px,#3d3f99 279px,#3d3e99 282px,#3d3d98 285px,#3d3d98 288px)"></i>
<i style="left:895.98px;width:7.64px;background:linear-gradient(#486ab3 0px,#486cb5 3px,#496fb6 6px,#4a71b7 9px,#4a73b9 12px,#4b76ba 15px,#4b78bc 18px,#4c7bbd 21px,#4d7ebf 24px,#4d81c1 27px,#4e84c3 30px,#4f87c5 33px,#508bc7 36px,#5090ba 39px,#5096a8 42px,#519e93 45px,#51a67d 48px,#52ae66 51px,#52b650 54px,#56b94c 57px,#5bbc4e 60px,#63bf52 63px,#73c459 66px,#88cb63 69px,#a0d36d 72px,#badc79 75px,#d7e686 78px,#f3ef92 81px,#f6ec91 84px,#e1cf82 87px,#c4a86f 90px,#a8815b 93px,#8e5d4a 96px,#9c7163 99px,#af8d81 102px,#c1a69d 105px,#d1bdb6 108px,#ded0cb 111px,#eae1dd 114px,#f2eceb 117px,#f7f4f3 120px,#fbfaf9 123px,#fefdfd 126px,#fefdfd 129px,#fbf9f9 132px,#f7f3f2 135px,#f2ecea 138px,#e9e0dd 141px,#ddcfca 144px,#d0bbb5 147px,#bfa49b 150px,#ad8b7f 153px,#9a6f61 156px,#90614b 159px,#ae8960 162px,#cfb777 165px,#efe38c 168px,#f4ee92 171px,#dae787 174px,#b8db78 177px,#99d16a 180px,#7ec85e 183px,#66c054 186px,#5abb4e 189px,#52b84b 192px,#51a286 195px,#5093b0 198px,#508ac6 201px,#4e84c3 204px,#4d7fc0 207px,#4c7abd 210px,#4b75ba 213px,#4970b7 216px,#486cb4 219px,#4768b2 222px,#4664af 225px,#4560ad 228px,#455dab 231px,#445aaa 234px,#4357a8 237px,#4254a6 240px,#4251a4 243px,#414ea2 246px,#404ca1 249px,#404aa0 252px,#3f489f 255px,#3f479e 258px,#3f459d 261px,#3e449c 264px,#3e439c 267px,#3e429b 270px,#3e419a 273px,#3d409a 276px,#3d3f99 279px,#3d3e99 282px,#3d3d98 285px,#3d3d98 288px)"></i>
<i style="left:903.02px;width:7.64px;background:linear-gradient(#4869b3 0px,#486bb4 3px,#496eb5 6px,#4970b7 9px,#4a73b8 12px,#4b75ba 15px,#4b78bb 18px,#4c7abd 21px,#4d7dbf 24px,#4d80c0 27px,#4e83c2 30px,#4f86c4 33px,#508ac6 36px,#508fbd 39px,#5095ac 42px,#519c97 45px,#51a481 48px,#51ad6a 51px,#52b554 54px,#55b94b 57px,#5abb4e 60px,#60be51 63px,#71c358 66px,#85ca61 69px,#9dd26c 72px,#b8db78 75px,#d6e585 78px,#f3ef92 81px,#f6ec91 84px,#e1cf83 87px,#c5a86f 90px,#a8815c 93px,#8e5e4a 96px,#9b7061 99px,#ad8a7e 102px,#bea399 105px,#ceb9b2 108px,#dbcbc6 111px,#e6dcd8 114px,#eee7e4 117px,#f3eeec 120px,#f7f4f3 123px,#f9f7f6 126px,#f9f7f6 129px,#f7f3f2 132px,#f3edec 135px,#ede6e3 138px,#e5dad6 141px,#d9c8c3 144px,#cbb5ae 147px,#bb9e94 150px,#a98478 153px,#96695a 156px,#96684f 159px,#b59264 162px,#d6c07b 165px,#f5ea90 168px,#f3ef92 171px,#d3e484 174px,#b0d975 177px,#91ce67 180px,#76c55b 183px,#60be51 186px,#58bb4d 189px,#52b25b 192px,#519e93 195px,#5090ba 198px,#4f87c5 201px,#4e82c1 204px,#4d7dbf 207px,#4b78bc 210px,#4a73b9 213px,#496eb6 216px,#486ab3 219px,#4766b1 222px,#4662ae 225px,#455fac 228px,#445cab 231px,#4458a9 234px,#4355a7 237px,#4252a5 240px,#414fa3 243px,#414da2 246px,#404ba0 249px,#40499f 252px,#3f479e 255px,#3f469d 258px,#3f449d 261px,#3e439c 264px,#3e429b 267px,#3e419b 270px,#3d409a 273px,#3d3f99 276px,#3d3e99 279px,#3d3e99 282px,#3d3d98 285px,#3d3d98 288px)"></i>
<i style="left:910.06px;width:7.64px;background:linear-gradient(#4768b2 0px,#486bb4 3px,#496db5 6px,#496fb6 9px,#4a72b8 12px,#4a74b9 15px,#4b77bb 18px,#4c79bc 21px,#4c7cbe 24px,#4d7ebf 27px,#4e81c1 30px,#4e85c3 33px,#4f89c6 36px,#508dc1 39px,#5093b1 42px,#519a9d 45px,#51a286 48px,#51ab6f 51px,#52b358 54px,#54b94b 57px,#59bb4d 60px,#5ebd50 63px,#6dc257 66px,#81c960 69px,#99d16a 72px,#b4da76 75px,#d3e484 78px,#f3ef92 81px,#f5ed91 84px,#e4d385 87px,#c8ae72 90px,#ac875f 93px,#93644d 96px,#976a5b 99px,#a98478 102px,#ba9c92 105px,#c9b2aa 108px,#d6c4be 111px,#e1d4d0 114px,#e9dfdc 117px,#eee6e4 120px,#f2ecea 123px,#f4efee 126px,#f4efed 129px,#f1ebe9 132px,#ede5e3 135px,#e8deda 138px,#dfd1cd 141px,#d3c0ba 144px,#c5ada4 147px,#b5958a 150px,#a37b6e 153px,#8f6050 156px,#9e7455 159px,#be9f6a 162px,#dfcc81 165px,#f5ed91 168px,#eeed90 171px,#c9e17f 174px,#a7d670 177px,#89cb63 180px,#6fc358 183px,#5dbd4f 186px,#56b94c 189px,#51ab6e 192px,#5199a0 195px,#508cc3 198px,#4f85c3 201px,#4d80c0 204px,#4c7bbe 207px,#4b76ba 210px,#4a71b7 213px,#486cb4 216px,#4768b2 219px,#4664b0 222px,#4560ad 225px,#455dab 228px,#445aaa 231px,#4357a8 234px,#4254a6 237px,#4251a4 240px,#414ea2 243px,#404ca1 246px,#404aa0 249px,#3f489f 252px,#3f469e 255px,#3f459d 258px,#3e439c 261px,#3e429b 264px,#3e419b 267px,#3e409a 270px,#3d409a 273px,#3d3f99 276px,#3d3e99 279px,#3d3d98 282px,#3d3d98 285px,#3d3c98 288px)"></i>
<i style="left:917.10px;width:7.64px;background:linear-gradient(#4767b2 0px,#486ab3 3px,#486cb4 6px,#496eb6 9px,#4a71b7 12px,#4a73b9 15px,#4b76ba 18px,#4b78bb 21px,#4c7abd 24px,#4c7dbe 27px,#4d80c0 30px,#4e83c2 33px,#4f87c4 36px,#508bc7 39px,#5090b8 42px,#5198a4 45px,#51a08d 48px,#51a875 51px,#52b15d 54px,#53b84a 57px,#58ba4d 60px,#5dbc4f 63px,#69c155 66px,#7cc75d 69px,#94cf68 72px,#afd874 75px,#cde281 78px,#eded8f 81px,#f5ed91 84px,#e9da88 87px,#ceb576 90px,#b28f63 93px,#996c51 96px,#916151 99px,#a37c6f 102px,#b4948a 105px,#c3aaa1 108px,#d0bcb5 111px,#dbccc6 114px,#e3d7d2 117px,#e8ddda 120px,#ebe3e0 123px,#eee6e4 126px,#ede6e3 129px,#ebe2df 132px,#e7dcd9 135px,#e1d5d0 138px,#d8c7c2 141px,#ccb6af 144px,#bea399 147px,#ae8c80 150px,#9c7263 153px,#8d5c49 156px,#a8815c 159px,#c9ae72 162px,#e9da88 165px,#f4ee92 168px,#e2e98a 171px,#bedd7b 174px,#9ed26c 177px,#81c95f 180px,#68c054 183px,#5bbc4e 186px,#53b84a 189px,#51a481 192px,#5094ad 195px,#508ac6 198px,#4e83c2 201px,#4d7ebf 204px,#4c79bc 207px,#4a74b9 210px,#496fb6 213px,#486ab3 216px,#4766b1 219px,#4662ae 222px,#455fac 225px,#445baa 228px,#4358a9 231px,#4355a7 234px,#4252a5 237px,#414fa3 240px,#414da2 243px,#404aa0 246px,#40499f 249px,#3f479e 252px,#3f459d 255px,#3e449c 258px,#3e439c 261px,#3e429b 264px,#3e419a 267px,#3d409a 270px,#3d3f99 273px,#3d3e99 276px,#3d3e99 279px,#3d3d98 282px,#3d3d98 285px,#3d3c98 288px)"></i>
<i style="left:924.14px;width:7.64px;background:linear-gradient(#4766b1 0px,#4869b2 3px,#486bb4 6px,#496eb5 9px,#4970b7 12px,#4a72b8 15px,#4a74b9 18px,#4b77bb 21px,#4b79bc 24px,#4c7bbd 27px,#4d7ebf 30px,#4d81c1 33px,#4e84c3 36px,#4f89c6 39px,#508ec0 42px,#5094ad 45px,#519d96 48px,#51a67d 51px,#52af64 54px,#52b74d 57px,#56ba4c 60px,#5bbc4f 63px,#65bf53 66px,#77c55b 69px,#8dcd65 72px,#a8d671 75px,#c6e07e 78px,#e6eb8c 81px,#f4ee92 84px,#efe28c 87px,#d5bf7b 90px,#ba9a68 93px,#a17756 96px,#8a5847 99px,#9c7264 102px,#ad8a7e 105px,#bc9f95 108px,#c8b1a9 111px,#d3c1ba 114px,#dbcbc6 117px,#e0d2ce 120px,#e4d8d4 123px,#e6dbd7 126px,#e5dad7 129px,#e3d6d2 132px,#ded0cc 135px,#d9c9c3 138px,#cfbbb4 141px,#c3aaa1 144px,#b6968c 147px,#a57f72 150px,#936555 153px,#986b50 156px,#b59365 159px,#d5bf7b 162px,#f4e98f 165px,#f3ef92 168px,#d5e585 171px,#b3da76 174px,#94cf68 177px,#78c65c 180px,#62be52 183px,#59bb4d 186px,#52b357 189px,#519f90 192px,#5090b9 195px,#4f87c4 198px,#4d81c1 201px,#4c7cbe 204px,#4b77bb 207px,#4a71b8 210px,#486cb5 213px,#4768b2 216px,#4664b0 219px,#4560ad 222px,#455dab 225px,#445aa9 228px,#4357a8 231px,#4254a6 234px,#4251a4 237px,#414ea2 240px,#404ba1 243px,#4049a0 246px,#3f479e 249px,#3f469d 252px,#3f449d 255px,#3e439c 258px,#3e429b 261px,#3e419a 264px,#3d409a 267px,#3d3f9a 270px,#3d3f99 273px,#3d3e99 276px,#3d3d98 279px,#3d3d98 282px,#3d3c98 285px,#3d3c98 288px)"></i>
<i style="left:931.18px;width:7.64px;background:linear-gradient(#4765b0 0px,#4768b2 3px,#486ab3 6px,#486db5 9px,#496fb6 12px,#4a71b8 15px,#4a73b9 18px,#4b75ba 21px,#4b77bb 24px,#4c79bc 27px,#4c7cbe 30px,#4d7fc0 33px,#4e82c2 36px,#4f86c4 39px,#508bc7 42px,#5091b6 45px,#5199a0 48px,#51a287 51px,#51ab6d 54px,#52b454 57px,#55b94b 60px,#5abb4e 63px,#60be51 66px,#71c358 69px,#86cb62 72px,#a1d36d 75px,#bedd7b 78px,#dee889 81px,#f4ee92 84px,#f5ea90 87px,#dcc97f 90px,#c2a56e 93px,#a9825c 96px,#92634c 99px,#956758 102px,#a67f72 105px,#b49489 108px,#c0a69d 111px,#cbb5ae 114px,#d3c0b9 117px,#d7c6c1 120px,#dbccc6 123px,#ddcec9 126px,#ddcec9 129px,#dacac4 132px,#d5c4bd 135px,#d0bcb5 138px,#c6aea5 141px,#ba9c92 144px,#ac897d 147px,#9c7163 150px,#8b5a48 153px,#a47c59 156px,#c3a66e 159px,#e2d083 162px,#f5ed91 165px,#eded8f 168px,#c9e180 171px,#a8d671 174px,#8acc64 177px,#70c358 180px,#5dbd50 183px,#56ba4c 186px,#51ac6c 189px,#5199a0 192px,#508cc4 195px,#4e84c3 198px,#4d7ebf 201px,#4c79bc 204px,#4a74b9 207px,#496fb6 210px,#486ab3 213px,#4766b1 216px,#4662ae 219px,#455eac 222px,#445baa 225px,#4358a8 228px,#4355a7 231px,#4252a5 234px,#414fa3 237px,#414ca1 240px,#404aa0 243px,#3f489f 246px,#3f469e 249px,#3f459d 252px,#3e439c 255px,#3e429b 258px,#3e419b 261px,#3d409a 264px,#3d3f9a 267px,#3d3f99 270px,#3d3e99 273px,#3d3d98 276px,#3d3d98 282px,#3d3c98 285px,#3d3c98 288px)"></i>
<i style="left:938.22px;width:7.64px;background:linear-gradient(#4664b0 0px,#4767b1 3px,#4869b3 6px,#486cb4 9px,#496eb6 12px,#4970b7 15px,#4a72b8 18px,#4a74b9 21px,#4b76ba 24px,#4b78bb 27px,#4c7abd 30px,#4c7cbe 33px,#4d7fc0 36px,#4e83c2 39px,#4f88c5 42px,#508dc0 45px,#5095ac 48px,#519e93 51px,#51a778 54px,#52b15e 57px,#53b84a 60px,#58ba4d 63px,#5dbd4f 66px,#6ac155 69px,#7ec85e 72px,#96d069 75px,#b3da76 78px,#d3e484 81px,#f3ef92 84px,#f5ed91 87px,#e5d585 90px,#ccb274 93px,#b39063 96px,#9b6f53 99px,#8d5c4c 102px,#9e7466 105px,#ac897d 108px,#b89a90 111px,#c3aaa1 114px,#cbb4ad 117px,#cfbbb4 120px,#d3c0ba 123px,#d5c3bd 126px,#d4c2bc 129px,#d1beb7 132px,#cdb7b0 135px,#c7afa7 138px,#bda197 141px,#b18f84 144px,#a27b6d 147px,#916353 150px,#976a50 153px,#b39063 156px,#d0b877 159px,#ede08b 162px,#f4ee92 165px,#e0e98a 168px,#bddd7a 171px,#9dd26c 174px,#80c95f 177px,#68c054 180px,#5bbc4e 183px,#52b84a 186px,#51a482 189px,#5093b0 192px,#4f88c5 195px,#4e81c1 198px,#4c7cbe 201px,#4b77bb 204px,#4a71b8 207px,#486cb5 210px,#4768b2 213px,#4664af 216px,#4560ad 219px,#445cab 222px,#4459a9 225px,#4356a7 228px,#4253a6 231px,#4150a4 234px,#414da2 237px,#404ba1 240px,#40499f 243px,#3f479e 246px,#3f459d 249px,#3e449c 252px,#3e429b 255px,#3e419b 258px,#3e409a 261px,#3d3f9a 264px,#3d3f99 267px,#3d3e99 270px,#3d3e99 273px,#3d3d98 276px,#3d3d98 279px,#3d3c98 282px,#3d3c98 288px)"></i>
<i style="left:945.26px;width:7.64px;background:linear-gradient(#4663af 0px,#4766b1 3px,#4768b2 6px,#486ab3 9px,#486db5 12px,#496fb6 15px,#4a71b7 18px,#4a73b8 21px,#4a74b9 24px,#4b76ba 27px,#4b78bc 30px,#4c7abd 33px,#4c7dbe 36px,#4d80c0 39px,#4e84c3 42px,#508ac6 45px,#5090b9 48px,#5198a2 51px,#51a287 54px,#51ac6b 57px,#52b551 60px,#56ba4c 63px,#5abc4e 66px,#62be52 69px,#73c45a 72px,#8acc64 75px,#a6d570 78px,#c5e07e 81px,#e6eb8c 84px,#f4ee92 87px,#efe38c 90px,#d7c27c 93px,#bea06b 96px,#a67f5a 99px,#91614c 102px,#956858 105px,#a47d70 108px,#b08f83 111px,#bb9e94 114px,#c3a9a0 117px,#c7b0a8 120px,#cbb5ad 123px,#cdb7b0 126px,#ccb6af 129px,#c9b2aa 132px,#c4aba3 135px,#bea299 138px,#b39388 141px,#a78175 144px,#986c5d 147px,#8e5d4a 150px,#a67e5a 153px,#c1a46d 156px,#decb80 159px,#f6ec91 162px,#f3ef92 165px,#d2e483 168px,#b0d874 171px,#91ce66 174px,#75c55a 177px,#5fbd51 180px,#58ba4d 183px,#52b05f 186px,#519c97 189px,#508ebf 192px,#4e85c3 195px,#4d7fc0 198px,#4c79bc 201px,#4a74b9 204px,#496eb6 207px,#4869b3 210px,#4765b0 213px,#4661ae 216px,#455eac 219px,#445aaa 222px,#4357a8 225px,#4254a6 228px,#4251a4 231px,#414ea3 234px,#404ca1 237px,#4049a0 240px,#3f479e 243px,#3f469d 246px,#3e449c 249px,#3e439c 252px,#3e419b 255px,#3e409a 258px,#3d3f9a 261px,#3d3f99 264px,#3d3e99 267px,#3d3e99 270px,#3d3d98 273px,#3d3d98 279px,#3d3c98 282px,#3d3c98 285px,#3c3c98 288px)"></i>
<i style="left:952.30px;width:7.64px;background:linear-gradient(#4662ae 0px,#4664b0 3px,#4767b1 6px,#4869b3 9px,#486bb4 12px,#496db5 15px,#496fb6 18px,#4a71b7 21px,#4a73b8 24px,#4a74b9 27px,#4b76ba 30px,#4b78bc 33px,#4c7abd 36px,#4d7dbf 39px,#4d81c1 42px,#4f86c4 45px,#508cc5 48px,#5093b2 51px,#519c98 54px,#51a67b 57px,#52b15f 60px,#53b84a 63px,#58bb4d 66px,#5dbd4f 69px,#6ac155 72px,#7ec85e 75px,#98d06a 78px,#b5da77 81px,#d6e585 84px,#f3ef92 87px,#f6ec91 90px,#e4d384 93px,#cbb274 96px,#b39063 99px,#9c7154 102px,#8b5a49 105px,#9b7061 108px,#a88275 111px,#b39287 114px,#bb9e94 117px,#bfa49b 120px,#c3aaa1 123px,#c5aca4 126px,#c4aba2 129px,#c1a69d 132px,#bc9f96 135px,#b5958b 138px,#aa8579 141px,#9d7365 144px,#8d5c4c 147px,#9b7053 150px,#b49264 153px,#cfb777 156px,#eadc89 159px,#f5ed91 162px,#e7eb8d 165px,#c3df7d 168px,#a2d46e 171px,#84ca61 174px,#6ac155 177px,#5bbc4f 180px,#53b94b 183px,#51a67c 186px,#5095ac 189px,#5089c6 192px,#4e81c1 195px,#4c7cbe 198px,#4b76ba 201px,#4970b7 204px,#486bb4 207px,#4767b1 210px,#4663af 213px,#455fac 216px,#445baa 219px,#4358a8 222px,#4355a7 225px,#4252a5 228px,#414fa3 231px,#414ca1 234px,#404aa0 237px,#3f489f 240px,#3f469e 243px,#3f449d 246px,#3e439c 249px,#3e429b 252px,#3e409a 255px,#3d3f9a 258px,#3d3f99 261px,#3d3e99 264px,#3d3e99 267px,#3d3d98 270px,#3d3d98 276px,#3d3c98 279px,#3d3c98 282px,#3c3c98 285px,#3c3c98 288px)"></i>
<i style="left:959.34px;width:7.64px;background:linear-gradient(#4560ad 0px,#4663af 3px,#4765b0 6px,#4768b2 9px,#486ab3 12px,#486cb4 15px,#496eb6 18px,#4970b7 21px,#4a71b7 24px,#4a73b8 27px,#4a74b9 30px,#4b76ba 33px,#4b78bc 36px,#4c7abd 39px,#4d7dbf 42px,#4e82c1 45px,#4f87c5 48px,#508ec0 51px,#5096a9 54px,#51a08c 57px,#51ab6f 60px,#52b553 63px,#55b94c 66px,#5abb4e 69px,#61be52 72px,#72c459 75px,#89cc63 78px,#a6d570 81px,#c5e07e 84px,#e6eb8c 87px,#f4ee92 90px,#efe38d 93px,#d8c37c 96px,#bfa16c 99px,#a8815b 102px,#93654d 105px,#916151 108px,#9f7668 111px,#ab877a 114px,#b39287 117px,#b8998f 120px,#bb9e95 123px,#bda197 126px,#bc9f96 129px,#b99a90 132px,#b49389 135px,#ac897d 138px,#a0786a 141px,#926353 144px,#93644d 147px,#a8825c 150px,#c2a46d 153px,#dcc97f 156px,#f5eb91 159px,#f4ee92 162px,#d7e686 165px,#b4da76 168px,#94cf68 171px,#77c55b 174px,#60be51 177px,#58ba4d 180px,#52b25c 183px,#519d94 186px,#508fbd 189px,#4f85c3 192px,#4d7ebf 195px,#4b78bc 198px,#4a73b8 201px,#496db5 204px,#4768b2 207px,#4664af 210px,#4560ad 213px,#445cab 216px,#4459a9 219px,#4356a7 222px,#4253a5 225px,#4150a4 228px,#414da2 231px,#404ba0 234px,#40489f 237px,#3f469e 240px,#3f459d 243px,#3e439c 246px,#3e429b 249px,#3e409a 252px,#3d3f9a 255px,#3d3f99 258px,#3d3e99 261px,#3d3e99 264px,#3d3d98 267px,#3d3d98 273px,#3d3c98 276px,#3d3c98 279px,#3c3c98 282px,#3c3c98 288px)"></i>
<i style="left:966.38px;width:7.64px;background:linear-gradient(#455fac 0px,#4661ae 3px,#4664af 6px,#4766b1 9px,#4768b2 12px,#486ab3 15px,#486cb5 18px,#496eb6 21px,#496fb6 24px,#4a71b7 27px,#4a72b8 30px,#4a74b9 33px,#4b76ba 36px,#4b78bc 39px,#4c7bbd 42px,#4d7ebf 45px,#4e83c2 48px,#4f89c6 51px,#5090ba 54px,#5199a0 57px,#51a482 60px,#52af63 63px,#52b84a 66px,#58ba4d 69px,#5cbc4f 72px,#68c054 75px,#7bc75d 78px,#95cf68 81px,#b3d976 84px,#d3e484 87px,#f3ef92 90px,#f5ed91 93px,#e6d686 96px,#ceb576 99px,#b69565 102px,#a07656 105px,#8e5d49 108px,#956858 111px,#a27a6c 114px,#ab877a 117px,#b08e82 120px,#b49489 123px,#b5968b 126px,#b49489 129px,#b08f84 132px,#ab887c 135px,#a37c6e 138px,#96695a 141px,#8d5c49 144px,#a07656 147px,#b79566 150px,#d0b877 153px,#e9da88 156px,#f5ed91 159px,#ebec8f 162px,#c7e07f 165px,#a5d56f 168px,#86ca62 171px,#6cc256 174px,#5cbc4f 177px,#54b94b 180px,#51a778 183px,#5096a8 186px,#508ac6 189px,#4e81c1 192px,#4c7bbd 195px,#4b75ba 198px,#496fb6 201px,#486ab3 204px,#4765b0 207px,#4661ae 210px,#455dac 213px,#445aa9 216px,#4356a7 219px,#4253a6 222px,#4251a4 225px,#414ea2 228px,#404ba1 231px,#40499f 234px,#3f479e 237px,#3f459d 240px,#3e439c 243px,#3e429b 246px,#3e419a 249px,#3d3f9a 252px,#3d3f99 255px,#3d3e99 258px,#3d3e99 261px,#3d3d98 264px,#3d3d98 270px,#3d3c98 273px,#3d3c98 276px,#3c3c98 279px,#3c3c98 288px)"></i>
<i style="left:973.42px;width:7.64px;background:linear-gradient(#455dab 0px,#4560ad 3px,#4662ae 6px,#4664b0 9px,#4767b1 12px,#4869b3 15px,#486bb4 18px,#486cb5 21px,#496eb5 24px,#496fb6 27px,#4971b7 30px,#4a72b8 33px,#4a74b9 36px,#4b76ba 39px,#4b78bc 42px,#4c7bbd 45px,#4d7ebf 48px,#4e84c3 51px,#508ac7 54px,#5092b4 57px,#519c97 60px,#51a877 63px,#52b259 66px,#54b94b 69px,#59bb4e 72px,#5fbd50 75px,#6ec257 78px,#84ca61 81px,#a0d36d 84px,#bfdd7b 87px,#dfe889 90px,#f4ee92 93px,#f4ea90 96px,#decb80 99px,#c6aa70 102px,#af8a60 105px,#9a6e52 108px,#8b5948 111px,#986c5d 114px,#a27b6d 117px,#a88376 120px,#ac897d 123px,#ae8b80 126px,#ad897d 129px,#a98477 132px,#a37c6f 135px,#996e5f 138px,#8c5b4a 141px,#996c51 144px,#ad895f 147px,#c5a96f 150px,#ddca80 153px,#f5ea90 156px,#f4ee92 159px,#dae787 162px,#b7db78 165px,#96d069 168px,#79c65c 171px,#62be52 174px,#59bb4d 177px,#52b357 180px,#519f90 183px,#5090ba 186px,#4f86c4 189px,#4d7ebf 192px,#4b78bc 195px,#4a72b8 198px,#486cb4 201px,#4767b1 204px,#4662af 207px,#455eac 210px,#445baa 213px,#4357a8 216px,#4254a6 219px,#4251a4 222px,#414ea3 225px,#404ca1 228px,#4049a0 231px,#3f479e 234px,#3f459d 237px,#3e449c 240px,#3e429b 243px,#3e419a 246px,#3d3f9a 249px,#3d3e99 252px,#3d3e99 255px,#3d3d98 258px,#3d3d98 267px,#3d3c98 270px,#3d3c98 273px,#3c3c98 276px,#3c3c98 282px,#3c3c97 285px,#3c3c97 288px)"></i>
<i style="left:980.46px;width:6.04px;background:linear-gradient(#445baa 0px,#455eac 3px,#4560ad 6px,#4663af 9px,#4765b0 12px,#4767b2 15px,#4869b3 18px,#486bb4 21px,#486cb4 24px,#496db5 27px,#496fb6 30px,#4970b7 33px,#4a72b8 36px,#4a73b9 39px,#4b75ba 42px,#4b78bc 45px,#4c7bbd 48px,#4d7fc0 51px,#4e85c3 54px,#508cc5 57px,#5094ad 60px,#51a08e 63px,#51ab6d 66px,#52b650 69px,#56ba4c 72px,#5bbc4f 75px,#64bf52 78px,#75c55a 81px,#8dcd65 84px,#aad772 87px,#cae180 90px,#ebec8e 93px,#f5ed91 96px,#ecdf8a 99px,#d4bd7a 102px,#bb9b69 105px,#a47c59 108px,#92634d 111px,#8d5d4c 114px,#976a5b 117px,#9f7668 120px,#a47e70 123px,#a78174 126px,#a57e71 129px,#9f7669 132px,#986b5c 135px,#8e5e4e 138px,#91614b 141px,#a27957 144px,#b89766 147px,#d0b877 150px,#e9da88 153px,#f5ed91 156px,#eded8f 159px,#cae180 162px,#a8d671 165px,#88cb63 168px,#6dc257 171px,#5cbc4f 174px,#55b94b 177px,#51a973 180px,#5197a5 183px,#508bc7 186px,#4e82c1 189px,#4c7bbd 192px,#4a74b9 195px,#496eb6 198px,#4869b2 201px,#4664af 204px,#455fad 207px,#445cab 210px,#4358a8 213px,#4355a6 216px,#4252a5 219px,#414fa3 222px,#404ca1 225px,#404aa0 228px,#3f479e 231px,#3f469d 234px,#3e449c 237px,#3e429b 240px,#3e419b 243px,#3d409a 246px,#3d3e99 249px,#3d3e99 252px,#3d3d98 255px,#3d3d98 261px,#3d3c98 264px,#3d3c98 270px,#3c3c98 273px,#3c3c98 276px,#3c3c97 279px,#3c3c97 288px)"></i>
<svg width="989" height="433" viewBox="0 0 989 433" style="position:absolute;left:0;top:0">
<defs><linearGradient id="cb" x1="0" x2="1" y1="0" y2="0">
<stop offset="0.0" stop-color="#3b3694"/>
<stop offset="0.15" stop-color="#508bc7"/>
<stop offset="0.25" stop-color="#52b84a"/>
<stop offset="0.285" stop-color="#5ebd50"/>
<stop offset="0.47" stop-color="#f3ef92"/>
<stop offset="0.525" stop-color="#f6ec91"/>
<stop offset="0.75" stop-color="#8a5847"/>
<stop offset="1.0" stop-color="#fff"/>
</linearGradient></defs>
<path d="M95.1 28.5 H131.7 M315.3 28.5 H346.7" stroke="#838383" stroke-width="1.7" fill="none"/>
<path d="M131.5 28.18 L131.9 28.28 L132.3 28.43 L132.7 28.60 L133.1 28.76 L133.5 28.90 L133.9 28.99 L134.3 29.01 L134.7 28.96 L135.1 28.84 L135.5 28.65 L135.9 28.43 L136.3 28.21 L136.7 28.01 L137.1 27.87 L137.5 27.82 L137.9 27.86 L138.3 28.00 L138.7 28.22 L139.1 28.50 L139.5 28.80 L139.9 29.08 L140.3 29.28 L140.7 29.39 L141.1 29.37 L141.5 29.22 L141.9 28.95 L142.3 28.60 L142.7 28.21 L143.1 27.84 L143.5 27.54 L143.9 27.37 L144.3 27.35 L144.7 27.50 L145.1 27.81 L145.5 28.24 L145.9 28.73 L146.3 29.23 L146.7 29.64 L147.1 29.92 L147.5 30.00 L147.9 29.86 L148.3 29.52 L148.7 29.00 L149.1 28.38 L149.5 27.74 L149.9 27.17 L150.3 26.77 L150.7 26.60 L151.1 26.70 L151.5 27.07 L151.9 27.67 L152.3 28.43 L152.7 29.24 L153.1 29.99 L153.5 30.57 L153.9 30.87 L154.3 30.84 L154.7 30.46 L155.1 29.77 L155.5 28.86 L155.9 27.85 L156.3 26.88 L156.7 26.09 L157.1 25.61 L157.5 25.54 L157.9 25.89 L158.3 26.65 L158.7 27.72 L159.1 28.96 L159.5 30.19 L159.9 31.24 L160.3 31.94 L160.7 32.17 L161.1 31.88 L161.5 31.07 L161.9 29.85 L162.3 28.37 L162.7 26.83 L163.1 25.47 L163.5 24.48 L163.9 24.04 L164.3 24.22 L164.7 25.05 L165.1 26.42 L165.5 28.15 L165.9 30.02 L166.3 31.75 L166.7 33.09 L167.1 33.81 L167.5 33.79 L167.9 33.00 L168.3 31.51 L168.7 29.52 L169.1 27.29 L169.5 25.14 L169.9 23.39 L170.3 22.31 L170.7 22.09 L171.1 22.79 L171.5 24.36 L171.9 26.59 L172.3 29.20 L172.7 31.81 L173.1 34.04 L173.5 35.56 L173.9 36.10 L174.3 35.56 L174.7 33.97 L175.1 31.52 L175.5 28.54 L175.9 25.44 L176.3 22.66 L176.7 20.63 L177.1 19.67 L177.5 19.96 L177.9 21.50 L178.3 24.12 L178.7 27.47 L179.1 31.08 L179.5 34.45 L179.9 37.07 L180.3 38.54 L180.7 38.60 L181.1 37.19 L181.5 34.48 L181.9 30.80 L182.3 26.67 L182.7 22.67 L183.1 19.39 L183.5 17.32 L183.9 16.81 L184.3 17.98 L184.7 20.71 L185.1 24.65 L185.5 29.27 L185.9 33.92 L186.3 37.92 L186.7 40.68 L187.1 41.75 L187.5 40.93 L187.9 38.29 L188.3 34.16 L188.7 29.10 L189.1 23.81 L189.5 19.05 L189.9 15.53 L190.3 13.80 L190.7 14.14 L191.1 16.57 L191.5 20.79 L191.9 26.22 L192.3 32.12 L192.7 37.65 L193.1 41.99 L193.5 44.48 L193.9 44.73 L194.3 42.64 L194.7 38.46 L195.1 32.75 L195.5 26.30 L195.9 20.02 L196.3 14.83 L196.7 11.50 L197.1 10.55 L197.5 12.17 L197.9 16.17 L198.3 22.03 L198.7 28.94 L199.1 35.93 L199.5 41.97 L199.9 46.19 L200.3 47.94 L200.7 46.93 L201.1 43.25 L201.5 37.37 L201.9 30.12 L202.3 22.52 L202.7 15.64 L203.1 10.51 L203.5 7.87 L203.9 8.16 L204.3 11.38 L204.7 17.11 L205.1 24.55 L205.5 32.68 L205.9 40.31 L206.3 46.36 L206.7 49.93 L207.1 50.46 L207.5 47.85 L207.9 42.44 L208.3 34.95 L208.7 26.45 L209.1 18.15 L209.5 11.24 L209.9 6.72 L210.3 5.28 L210.7 7.15 L211.1 12.10 L211.5 19.45 L211.9 28.16 L212.3 37.00 L212.7 44.70 L213.1 50.15 L213.5 52.54 L213.9 51.51 L214.3 47.18 L214.7 40.14 L215.1 31.39 L215.5 22.17 L215.9 13.80 L216.3 7.48 L216.7 4.12 L217.1 4.24 L217.5 7.82 L217.9 14.38 L218.3 22.98 L218.7 32.40 L219.1 41.30 L219.5 48.41 L219.9 52.69 L220.3 53.54 L220.7 50.81 L221.1 44.89 L221.5 36.62 L221.9 27.18 L222.3 17.92 L222.7 10.16 L223.1 5.00 L223.5 3.20 L223.9 5.00 L224.3 10.16 L224.7 17.92 L225.1 27.18 L225.5 36.62 L225.9 44.89 L226.3 50.81 L226.7 53.54 L227.1 52.69 L227.5 48.41 L227.9 41.30 L228.3 32.40 L228.7 22.98 L229.1 14.38 L229.5 7.82 L229.9 4.24 L230.3 4.12 L230.7 7.48 L231.1 13.80 L231.5 22.17 L231.9 31.39 L232.3 40.14 L232.7 47.18 L233.1 51.51 L233.5 52.54 L233.9 50.15 L234.3 44.70 L234.7 37.00 L235.1 28.16 L235.5 19.45 L235.9 12.10 L236.3 7.15 L236.7 5.28 L237.1 6.72 L237.5 11.24 L237.9 18.15 L238.3 26.45 L238.7 34.95 L239.1 42.44 L239.5 47.85 L239.9 50.46 L240.3 49.93 L240.7 46.36 L241.1 40.31 L241.5 32.68 L241.9 24.55 L242.3 17.11 L242.7 11.38 L243.1 8.16 L243.5 7.87 L243.9 10.51 L244.3 15.64 L244.7 22.52 L245.1 30.12 L245.5 37.37 L245.9 43.25 L246.3 46.93 L246.7 47.94 L247.1 46.19 L247.5 41.97 L247.9 35.93 L248.3 28.94 L248.7 22.03 L249.1 16.17 L249.5 12.17 L249.9 10.55 L250.3 11.50 L250.7 14.83 L251.1 20.02 L251.5 26.30 L251.9 32.75 L252.3 38.46 L252.7 42.64 L253.1 44.73 L253.5 44.48 L253.9 41.99 L254.3 37.65 L254.7 32.12 L255.1 26.22 L255.5 20.79 L255.9 16.57 L256.3 14.14 L256.7 13.80 L257.1 15.53 L257.5 19.05 L257.9 23.81 L258.3 29.10 L258.7 34.16 L259.1 38.29 L259.5 40.93 L259.9 41.75 L260.3 40.68 L260.7 37.92 L261.1 33.92 L261.5 29.27 L261.9 24.65 L262.3 20.71 L262.7 17.98 L263.1 16.81 L263.5 17.32 L263.9 19.39 L264.3 22.67 L264.7 26.67 L265.1 30.80 L265.5 34.48 L265.9 37.19 L266.3 38.60 L266.7 38.54 L267.1 37.07 L267.5 34.45 L267.9 31.08 L268.3 27.47 L268.7 24.12 L269.1 21.50 L269.5 19.96 L269.9 19.67 L270.3 20.63 L270.7 22.66 L271.1 25.44 L271.5 28.54 L271.9 31.52 L272.3 33.97 L272.7 35.56 L273.1 36.10 L273.5 35.56 L273.9 34.04 L274.3 31.81 L274.7 29.20 L275.1 26.59 L275.5 24.36 L275.9 22.79 L276.3 22.09 L276.7 22.31 L277.1 23.39 L277.5 25.14 L277.9 27.29 L278.3 29.52 L278.7 31.51 L279.1 33.00 L279.5 33.79 L279.9 33.81 L280.3 33.09 L280.7 31.75 L281.1 30.02 L281.5 28.15 L281.9 26.42 L282.3 25.05 L282.7 24.22 L283.1 24.04 L283.5 24.48 L283.9 25.47 L284.3 26.83 L284.7 28.37 L285.1 29.85 L285.5 31.07 L285.9 31.88 L286.3 32.17 L286.7 31.94 L287.1 31.24 L287.5 30.19 L287.9 28.96 L288.3 27.72 L288.7 26.65 L289.1 25.89 L289.5 25.54 L289.9 25.61 L290.3 26.09 L290.7 26.88 L291.1 27.85 L291.5 28.86 L291.9 29.77 L292.3 30.46 L292.7 30.84 L293.1 30.87 L293.5 30.57 L293.9 29.99 L294.3 29.24 L294.7 28.43 L295.1 27.67 L295.5 27.07 L295.9 26.70 L296.3 26.60 L296.7 26.77 L297.1 27.17 L297.5 27.74 L297.9 28.38 L298.3 29.00 L298.7 29.52 L299.1 29.86 L299.5 30.00 L299.9 29.92 L300.3 29.64 L300.7 29.23 L301.1 28.73 L301.5 28.24 L301.9 27.81 L302.3 27.50 L302.7 27.35 L303.1 27.37 L303.5 27.54 L303.9 27.84 L304.3 28.21 L304.7 28.60 L305.1 28.95 L305.5 29.22 L305.9 29.37 L306.3 29.39 L306.7 29.28 L307.1 29.08 L307.5 28.80 L307.9 28.50 L308.3 28.22 L308.7 28.00 L309.1 27.86 L309.5 27.82 L309.9 27.87 L310.3 28.01 L310.7 28.21 L311.1 28.43 L311.5 28.65 L311.9 28.84 L312.3 28.96 L312.7 29.01 L313.1 28.99 L313.5 28.90 L313.9 28.76 L314.3 28.60 L314.7 28.43 L315.1 28.28 L315.5 28.18" stroke="#838383" stroke-width="1.9" fill="none" stroke-linejoin="round"/>
<path d="M361.7 28.5 Q350.5 26.2 340.1 21.7 L343.9 28.5 L340.1 35.3 Q350.5 30.8 361.7 28.5 Z" fill="#838383"/>
<circle cx="117.1" cy="29.0" r="4.3" fill="#df2c20"/>
<path d="M405.6 28.5 H441.2 M624.8 28.5 H656.7" stroke="#838383" stroke-width="1.7" fill="none"/>
<path d="M441.0 28.18 L441.4 28.28 L441.8 28.43 L442.2 28.60 L442.6 28.76 L443.0 28.90 L443.4 28.99 L443.8 29.01 L444.2 28.96 L444.6 28.84 L445.0 28.65 L445.4 28.43 L445.8 28.21 L446.2 28.01 L446.6 27.87 L447.0 27.82 L447.4 27.86 L447.8 28.00 L448.2 28.22 L448.6 28.50 L449.0 28.80 L449.4 29.08 L449.8 29.28 L450.2 29.39 L450.6 29.37 L451.0 29.22 L451.4 28.95 L451.8 28.60 L452.2 28.21 L452.6 27.84 L453.0 27.54 L453.4 27.37 L453.8 27.35 L454.2 27.50 L454.6 27.81 L455.0 28.24 L455.4 28.73 L455.8 29.23 L456.2 29.64 L456.6 29.92 L457.0 30.00 L457.4 29.86 L457.8 29.52 L458.2 29.00 L458.6 28.38 L459.0 27.74 L459.4 27.17 L459.8 26.77 L460.2 26.60 L460.6 26.70 L461.0 27.07 L461.4 27.67 L461.8 28.43 L462.2 29.24 L462.6 29.99 L463.0 30.57 L463.4 30.87 L463.8 30.84 L464.2 30.46 L464.6 29.77 L465.0 28.86 L465.4 27.85 L465.8 26.88 L466.2 26.09 L466.6 25.61 L467.0 25.54 L467.4 25.89 L467.8 26.65 L468.2 27.72 L468.6 28.96 L469.0 30.19 L469.4 31.24 L469.8 31.94 L470.2 32.17 L470.6 31.88 L471.0 31.07 L471.4 29.85 L471.8 28.37 L472.2 26.83 L472.6 25.47 L473.0 24.48 L473.4 24.04 L473.8 24.22 L474.2 25.05 L474.6 26.42 L475.0 28.15 L475.4 30.02 L475.8 31.75 L476.2 33.09 L476.6 33.81 L477.0 33.79 L477.4 33.00 L477.8 31.51 L478.2 29.52 L478.6 27.29 L479.0 25.14 L479.4 23.39 L479.8 22.31 L480.2 22.09 L480.6 22.79 L481.0 24.36 L481.4 26.59 L481.8 29.20 L482.2 31.81 L482.6 34.04 L483.0 35.56 L483.4 36.10 L483.8 35.56 L484.2 33.97 L484.6 31.52 L485.0 28.54 L485.4 25.44 L485.8 22.66 L486.2 20.63 L486.6 19.67 L487.0 19.96 L487.4 21.50 L487.8 24.12 L488.2 27.47 L488.6 31.08 L489.0 34.45 L489.4 37.07 L489.8 38.54 L490.2 38.60 L490.6 37.19 L491.0 34.48 L491.4 30.80 L491.8 26.67 L492.2 22.67 L492.6 19.39 L493.0 17.32 L493.4 16.81 L493.8 17.98 L494.2 20.71 L494.6 24.65 L495.0 29.27 L495.4 33.92 L495.8 37.92 L496.2 40.68 L496.6 41.75 L497.0 40.93 L497.4 38.29 L497.8 34.16 L498.2 29.10 L498.6 23.81 L499.0 19.05 L499.4 15.53 L499.8 13.80 L500.2 14.14 L500.6 16.57 L501.0 20.79 L501.4 26.22 L501.8 32.12 L502.2 37.65 L502.6 41.99 L503.0 44.48 L503.4 44.73 L503.8 42.64 L504.2 38.46 L504.6 32.75 L505.0 26.30 L505.4 20.02 L505.8 14.83 L506.2 11.50 L506.6 10.55 L507.0 12.17 L507.4 16.17 L507.8 22.03 L508.2 28.94 L508.6 35.93 L509.0 41.97 L509.4 46.19 L509.8 47.94 L510.2 46.93 L510.6 43.25 L511.0 37.37 L511.4 30.12 L511.8 22.52 L512.2 15.64 L512.6 10.51 L513.0 7.87 L513.4 8.16 L513.8 11.38 L514.2 17.11 L514.6 24.55 L515.0 32.68 L515.4 40.31 L515.8 46.36 L516.2 49.93 L516.6 50.46 L517.0 47.85 L517.4 42.44 L517.8 34.95 L518.2 26.45 L518.6 18.15 L519.0 11.24 L519.4 6.72 L519.8 5.28 L520.2 7.15 L520.6 12.10 L521.0 19.45 L521.4 28.16 L521.8 37.00 L522.2 44.70 L522.6 50.15 L523.0 52.54 L523.4 51.51 L523.8 47.18 L524.2 40.14 L524.6 31.39 L525.0 22.17 L525.4 13.80 L525.8 7.48 L526.2 4.12 L526.6 4.24 L527.0 7.82 L527.4 14.38 L527.8 22.98 L528.2 32.40 L528.6 41.30 L529.0 48.41 L529.4 52.69 L529.8 53.54 L530.2 50.81 L530.6 44.89 L531.0 36.62 L531.4 27.18 L531.8 17.92 L532.2 10.16 L532.6 5.00 L533.0 3.20 L533.4 5.00 L533.8 10.16 L534.2 17.92 L534.6 27.18 L535.0 36.62 L535.4 44.89 L535.8 50.81 L536.2 53.54 L536.6 52.69 L537.0 48.41 L537.4 41.30 L537.8 32.40 L538.2 22.98 L538.6 14.38 L539.0 7.82 L539.4 4.24 L539.8 4.12 L540.2 7.48 L540.6 13.80 L541.0 22.17 L541.4 31.39 L541.8 40.14 L542.2 47.18 L542.6 51.51 L543.0 52.54 L543.4 50.15 L543.8 44.70 L544.2 37.00 L544.6 28.16 L545.0 19.45 L545.4 12.10 L545.8 7.15 L546.2 5.28 L546.6 6.72 L547.0 11.24 L547.4 18.15 L547.8 26.45 L548.2 34.95 L548.6 42.44 L549.0 47.85 L549.4 50.46 L549.8 49.93 L550.2 46.36 L550.6 40.31 L551.0 32.68 L551.4 24.55 L551.8 17.11 L552.2 11.38 L552.6 8.16 L553.0 7.87 L553.4 10.51 L553.8 15.64 L554.2 22.52 L554.6 30.12 L555.0 37.37 L555.4 43.25 L555.8 46.93 L556.2 47.94 L556.6 46.19 L557.0 41.97 L557.4 35.93 L557.8 28.94 L558.2 22.03 L558.6 16.17 L559.0 12.17 L559.4 10.55 L559.8 11.50 L560.2 14.83 L560.6 20.02 L561.0 26.30 L561.4 32.75 L561.8 38.46 L562.2 42.64 L562.6 44.73 L563.0 44.48 L563.4 41.99 L563.8 37.65 L564.2 32.12 L564.6 26.22 L565.0 20.79 L565.4 16.57 L565.8 14.14 L566.2 13.80 L566.6 15.53 L567.0 19.05 L567.4 23.81 L567.8 29.10 L568.2 34.16 L568.6 38.29 L569.0 40.93 L569.4 41.75 L569.8 40.68 L570.2 37.92 L570.6 33.92 L571.0 29.27 L571.4 24.65 L571.8 20.71 L572.2 17.98 L572.6 16.81 L573.0 17.32 L573.4 19.39 L573.8 22.67 L574.2 26.67 L574.6 30.80 L575.0 34.48 L575.4 37.19 L575.8 38.60 L576.2 38.54 L576.6 37.07 L577.0 34.45 L577.4 31.08 L577.8 27.47 L578.2 24.12 L578.6 21.50 L579.0 19.96 L579.4 19.67 L579.8 20.63 L580.2 22.66 L580.6 25.44 L581.0 28.54 L581.4 31.52 L581.8 33.97 L582.2 35.56 L582.6 36.10 L583.0 35.56 L583.4 34.04 L583.8 31.81 L584.2 29.20 L584.6 26.59 L585.0 24.36 L585.4 22.79 L585.8 22.09 L586.2 22.31 L586.6 23.39 L587.0 25.14 L587.4 27.29 L587.8 29.52 L588.2 31.51 L588.6 33.00 L589.0 33.79 L589.4 33.81 L589.8 33.09 L590.2 31.75 L590.6 30.02 L591.0 28.15 L591.4 26.42 L591.8 25.05 L592.2 24.22 L592.6 24.04 L593.0 24.48 L593.4 25.47 L593.8 26.83 L594.2 28.37 L594.6 29.85 L595.0 31.07 L595.4 31.88 L595.8 32.17 L596.2 31.94 L596.6 31.24 L597.0 30.19 L597.4 28.96 L597.8 27.72 L598.2 26.65 L598.6 25.89 L599.0 25.54 L599.4 25.61 L599.8 26.09 L600.2 26.88 L600.6 27.85 L601.0 28.86 L601.4 29.77 L601.8 30.46 L602.2 30.84 L602.6 30.87 L603.0 30.57 L603.4 29.99 L603.8 29.24 L604.2 28.43 L604.6 27.67 L605.0 27.07 L605.4 26.70 L605.8 26.60 L606.2 26.77 L606.6 27.17 L607.0 27.74 L607.4 28.38 L607.8 29.00 L608.2 29.52 L608.6 29.86 L609.0 30.00 L609.4 29.92 L609.8 29.64 L610.2 29.23 L610.6 28.73 L611.0 28.24 L611.4 27.81 L611.8 27.50 L612.2 27.35 L612.6 27.37 L613.0 27.54 L613.4 27.84 L613.8 28.21 L614.2 28.60 L614.6 28.95 L615.0 29.22 L615.4 29.37 L615.8 29.39 L616.2 29.28 L616.6 29.08 L617.0 28.80 L617.4 28.50 L617.8 28.22 L618.2 28.00 L618.6 27.86 L619.0 27.82 L619.4 27.87 L619.8 28.01 L620.2 28.21 L620.6 28.43 L621.0 28.65 L621.4 28.84 L621.8 28.96 L622.2 29.01 L622.6 28.99 L623.0 28.90 L623.4 28.76 L623.8 28.60 L624.2 28.43 L624.6 28.28 L625.0 28.18" stroke="#838383" stroke-width="1.9" fill="none" stroke-linejoin="round"/>
<path d="M671.7 28.5 Q660.5 26.2 650.1 21.7 L653.9 28.5 L650.1 35.3 Q660.5 30.8 671.7 28.5 Z" fill="#838383"/>
<circle cx="533.2" cy="4.2" r="4.3" fill="#df2c20"/>
<path d="M701.5 28.5 H737.3000000000001 M920.9 28.5 H952.6" stroke="#838383" stroke-width="1.7" fill="none"/>
<path d="M737.1 28.18 L737.5 28.28 L737.9 28.43 L738.3 28.60 L738.7 28.76 L739.1 28.90 L739.5 28.99 L739.9 29.01 L740.3 28.96 L740.7 28.84 L741.1 28.65 L741.5 28.43 L741.9 28.21 L742.3 28.01 L742.7 27.87 L743.1 27.82 L743.5 27.86 L743.9 28.00 L744.3 28.22 L744.7 28.50 L745.1 28.80 L745.5 29.08 L745.9 29.28 L746.3 29.39 L746.7 29.37 L747.1 29.22 L747.5 28.95 L747.9 28.60 L748.3 28.21 L748.7 27.84 L749.1 27.54 L749.5 27.37 L749.9 27.35 L750.3 27.50 L750.7 27.81 L751.1 28.24 L751.5 28.73 L751.9 29.23 L752.3 29.64 L752.7 29.92 L753.1 30.00 L753.5 29.86 L753.9 29.52 L754.3 29.00 L754.7 28.38 L755.1 27.74 L755.5 27.17 L755.9 26.77 L756.3 26.60 L756.7 26.70 L757.1 27.07 L757.5 27.67 L757.9 28.43 L758.3 29.24 L758.7 29.99 L759.1 30.57 L759.5 30.87 L759.9 30.84 L760.3 30.46 L760.7 29.77 L761.1 28.86 L761.5 27.85 L761.9 26.88 L762.3 26.09 L762.7 25.61 L763.1 25.54 L763.5 25.89 L763.9 26.65 L764.3 27.72 L764.7 28.96 L765.1 30.19 L765.5 31.24 L765.9 31.94 L766.3 32.17 L766.7 31.88 L767.1 31.07 L767.5 29.85 L767.9 28.37 L768.3 26.83 L768.7 25.47 L769.1 24.48 L769.5 24.04 L769.9 24.22 L770.3 25.05 L770.7 26.42 L771.1 28.15 L771.5 30.02 L771.9 31.75 L772.3 33.09 L772.7 33.81 L773.1 33.79 L773.5 33.00 L773.9 31.51 L774.3 29.52 L774.7 27.29 L775.1 25.14 L775.5 23.39 L775.9 22.31 L776.3 22.09 L776.7 22.79 L777.1 24.36 L777.5 26.59 L777.9 29.20 L778.3 31.81 L778.7 34.04 L779.1 35.56 L779.5 36.10 L779.9 35.56 L780.3 33.97 L780.7 31.52 L781.1 28.54 L781.5 25.44 L781.9 22.66 L782.3 20.63 L782.7 19.67 L783.1 19.96 L783.5 21.50 L783.9 24.12 L784.3 27.47 L784.7 31.08 L785.1 34.45 L785.5 37.07 L785.9 38.54 L786.3 38.60 L786.7 37.19 L787.1 34.48 L787.5 30.80 L787.9 26.67 L788.3 22.67 L788.7 19.39 L789.1 17.32 L789.5 16.81 L789.9 17.98 L790.3 20.71 L790.7 24.65 L791.1 29.27 L791.5 33.92 L791.9 37.92 L792.3 40.68 L792.7 41.75 L793.1 40.93 L793.5 38.29 L793.9 34.16 L794.3 29.10 L794.7 23.81 L795.1 19.05 L795.5 15.53 L795.9 13.80 L796.3 14.14 L796.7 16.57 L797.1 20.79 L797.5 26.22 L797.9 32.12 L798.3 37.65 L798.7 41.99 L799.1 44.48 L799.5 44.73 L799.9 42.64 L800.3 38.46 L800.7 32.75 L801.1 26.30 L801.5 20.02 L801.9 14.83 L802.3 11.50 L802.7 10.55 L803.1 12.17 L803.5 16.17 L803.9 22.03 L804.3 28.94 L804.7 35.93 L805.1 41.97 L805.5 46.19 L805.9 47.94 L806.3 46.93 L806.7 43.25 L807.1 37.37 L807.5 30.12 L807.9 22.52 L808.3 15.64 L808.7 10.51 L809.1 7.87 L809.5 8.16 L809.9 11.38 L810.3 17.11 L810.7 24.55 L811.1 32.68 L811.5 40.31 L811.9 46.36 L812.3 49.93 L812.7 50.46 L813.1 47.85 L813.5 42.44 L813.9 34.95 L814.3 26.45 L814.7 18.15 L815.1 11.24 L815.5 6.72 L815.9 5.28 L816.3 7.15 L816.7 12.10 L817.1 19.45 L817.5 28.16 L817.9 37.00 L818.3 44.70 L818.7 50.15 L819.1 52.54 L819.5 51.51 L819.9 47.18 L820.3 40.14 L820.7 31.39 L821.1 22.17 L821.5 13.80 L821.9 7.48 L822.3 4.12 L822.7 4.24 L823.1 7.82 L823.5 14.38 L823.9 22.98 L824.3 32.40 L824.7 41.30 L825.1 48.41 L825.5 52.69 L825.9 53.54 L826.3 50.81 L826.7 44.89 L827.1 36.62 L827.5 27.18 L827.9 17.92 L828.3 10.16 L828.7 5.00 L829.1 3.20 L829.5 5.00 L829.9 10.16 L830.3 17.92 L830.7 27.18 L831.1 36.62 L831.5 44.89 L831.9 50.81 L832.3 53.54 L832.7 52.69 L833.1 48.41 L833.5 41.30 L833.9 32.40 L834.3 22.98 L834.7 14.38 L835.1 7.82 L835.5 4.24 L835.9 4.12 L836.3 7.48 L836.7 13.80 L837.1 22.17 L837.5 31.39 L837.9 40.14 L838.3 47.18 L838.7 51.51 L839.1 52.54 L839.5 50.15 L839.9 44.70 L840.3 37.00 L840.7 28.16 L841.1 19.45 L841.5 12.10 L841.9 7.15 L842.3 5.28 L842.7 6.72 L843.1 11.24 L843.5 18.15 L843.9 26.45 L844.3 34.95 L844.7 42.44 L845.1 47.85 L845.5 50.46 L845.9 49.93 L846.3 46.36 L846.7 40.31 L847.1 32.68 L847.5 24.55 L847.9 17.11 L848.3 11.38 L848.7 8.16 L849.1 7.87 L849.5 10.51 L849.9 15.64 L850.3 22.52 L850.7 30.12 L851.1 37.37 L851.5 43.25 L851.9 46.93 L852.3 47.94 L852.7 46.19 L853.1 41.97 L853.5 35.93 L853.9 28.94 L854.3 22.03 L854.7 16.17 L855.1 12.17 L855.5 10.55 L855.9 11.50 L856.3 14.83 L856.7 20.02 L857.1 26.30 L857.5 32.75 L857.9 38.46 L858.3 42.64 L858.7 44.73 L859.1 44.48 L859.5 41.99 L859.9 37.65 L860.3 32.12 L860.7 26.22 L861.1 20.79 L861.5 16.57 L861.9 14.14 L862.3 13.80 L862.7 15.53 L863.1 19.05 L863.5 23.81 L863.9 29.10 L864.3 34.16 L864.7 38.29 L865.1 40.93 L865.5 41.75 L865.9 40.68 L866.3 37.92 L866.7 33.92 L867.1 29.27 L867.5 24.65 L867.9 20.71 L868.3 17.98 L868.7 16.81 L869.1 17.32 L869.5 19.39 L869.9 22.67 L870.3 26.67 L870.7 30.80 L871.1 34.48 L871.5 37.19 L871.9 38.60 L872.3 38.54 L872.7 37.07 L873.1 34.45 L873.5 31.08 L873.9 27.47 L874.3 24.12 L874.7 21.50 L875.1 19.96 L875.5 19.67 L875.9 20.63 L876.3 22.66 L876.7 25.44 L877.1 28.54 L877.5 31.52 L877.9 33.97 L878.3 35.56 L878.7 36.10 L879.1 35.56 L879.5 34.04 L879.9 31.81 L880.3 29.20 L880.7 26.59 L881.1 24.36 L881.5 22.79 L881.9 22.09 L882.3 22.31 L882.7 23.39 L883.1 25.14 L883.5 27.29 L883.9 29.52 L884.3 31.51 L884.7 33.00 L885.1 33.79 L885.5 33.81 L885.9 33.09 L886.3 31.75 L886.7 30.02 L887.1 28.15 L887.5 26.42 L887.9 25.05 L888.3 24.22 L888.7 24.04 L889.1 24.48 L889.5 25.47 L889.9 26.83 L890.3 28.37 L890.7 29.85 L891.1 31.07 L891.5 31.88 L891.9 32.17 L892.3 31.94 L892.7 31.24 L893.1 30.19 L893.5 28.96 L893.9 27.72 L894.3 26.65 L894.7 25.89 L895.1 25.54 L895.5 25.61 L895.9 26.09 L896.3 26.88 L896.7 27.85 L897.1 28.86 L897.5 29.77 L897.9 30.46 L898.3 30.84 L898.7 30.87 L899.1 30.57 L899.5 29.99 L899.9 29.24 L900.3 28.43 L900.7 27.67 L901.1 27.07 L901.5 26.70 L901.9 26.60 L902.3 26.77 L902.7 27.17 L903.1 27.74 L903.5 28.38 L903.9 29.00 L904.3 29.52 L904.7 29.86 L905.1 30.00 L905.5 29.92 L905.9 29.64 L906.3 29.23 L906.7 28.73 L907.1 28.24 L907.5 27.81 L907.9 27.50 L908.3 27.35 L908.7 27.37 L909.1 27.54 L909.5 27.84 L909.9 28.21 L910.3 28.60 L910.7 28.95 L911.1 29.22 L911.5 29.37 L911.9 29.39 L912.3 29.28 L912.7 29.08 L913.1 28.80 L913.5 28.50 L913.9 28.22 L914.3 28.00 L914.7 27.86 L915.1 27.82 L915.5 27.87 L915.9 28.01 L916.3 28.21 L916.7 28.43 L917.1 28.65 L917.5 28.84 L917.9 28.96 L918.3 29.01 L918.7 28.99 L919.1 28.90 L919.5 28.76 L919.9 28.60 L920.3 28.43 L920.7 28.28 L921.1 28.18" stroke="#838383" stroke-width="1.9" fill="none" stroke-linejoin="round"/>
<path d="M967.6 28.5 Q956.4 26.2 946.0 21.7 L949.8 28.5 L946.0 35.3 Q956.4 30.8 967.6 28.5 Z" fill="#838383"/>
<circle cx="937.7" cy="29.2" r="4.3" fill="#df2c20"/>
<rect x="95.10" y="57.55" width="285.65" height="288.30" fill="none" stroke="#000" stroke-width="2.5"/>
<path d="M142.92 58.80v6.2M142.92 344.60v-6.2M190.42 58.80v6.2M190.42 344.60v-6.2M237.92 58.80v6.2M237.92 344.60v-6.2M285.42 58.80v6.2M285.42 344.60v-6.2M332.92 58.80v6.2M332.92 344.60v-6.2M96.35 129.80h5.5M379.50 129.80h-5.5M96.35 202.00h5.5M379.50 202.00h-5.5M96.35 274.20h5.5M379.50 274.20h-5.5" stroke="#000" stroke-width="2.6" fill="none"/>
<rect x="398.45" y="57.55" width="285.65" height="288.30" fill="none" stroke="#000" stroke-width="2.5"/>
<path d="M446.27 58.80v6.2M446.27 344.60v-6.2M493.77 58.80v6.2M493.77 344.60v-6.2M541.27 58.80v6.2M541.27 344.60v-6.2M588.77 58.80v6.2M588.77 344.60v-6.2M636.27 58.80v6.2M636.27 344.60v-6.2M399.70 129.80h5.5M682.85 129.80h-5.5M399.70 202.00h5.5M682.85 202.00h-5.5M399.70 274.20h5.5M682.85 274.20h-5.5" stroke="#000" stroke-width="2.6" fill="none"/>
<rect x="701.80" y="57.55" width="285.65" height="288.30" fill="none" stroke="#000" stroke-width="2.5"/>
<path d="M749.62 58.80v6.2M749.62 344.60v-6.2M797.12 58.80v6.2M797.12 344.60v-6.2M844.62 58.80v6.2M844.62 344.60v-6.2M892.12 58.80v6.2M892.12 344.60v-6.2M939.62 58.80v6.2M939.62 344.60v-6.2M703.05 129.80h5.5M986.20 129.80h-5.5M703.05 202.00h5.5M986.20 202.00h-5.5M703.05 274.20h5.5M986.20 274.20h-5.5" stroke="#000" stroke-width="2.6" fill="none"/>
<rect x="986.2" y="56.3" width="3" height="290.8" fill="#000"/>
<text class="sans" transform="matrix(1.8791 0 0 1.9140 68.42 82.70)" font-size="20" fill="#000">2</text>
<text class="sans" transform="matrix(1.9372 0 0 1.8940 67.65 216.02)" font-size="20" fill="#000">0</text>
<text class="sans" transform="matrix(1.9243 0 0 1.8925 53.07 347.20)" font-size="20" fill="#000">-2</text>
<text class="sans" transform="matrix(1.8813 0 0 1.8657 85.41 380.63)" font-size="20" fill="#000">-3</text>
<text class="sans" transform="matrix(1.9686 0 0 1.8657 223.83 380.63)" font-size="20" fill="#000">0</text>
<text class="sans" transform="matrix(1.9053 0 0 1.8657 357.57 380.63)" font-size="20" fill="#000">3</text>
<text class="sans" transform="matrix(1.9250 0 0 1.8657 389.57 380.63)" font-size="20" fill="#000">-3</text>
<text class="sans" transform="matrix(1.8639 0 0 1.8657 530.61 380.63)" font-size="20" fill="#000">0</text>
<text class="sans" transform="matrix(1.9368 0 0 1.8657 664.35 380.63)" font-size="20" fill="#000">3</text>
<text class="sans" transform="matrix(1.8625 0 0 1.8657 697.42 380.63)" font-size="20" fill="#000">-3</text>
<text class="sans" transform="matrix(1.9372 0 0 1.8657 833.45 380.63)" font-size="20" fill="#000">0</text>
<text class="sans" transform="matrix(1.9368 0 0 1.8657 970.15 380.63)" font-size="20" fill="#000">3</text>
<text class="serif" transform="matrix(2.2759 0 0 2.0833 181.18 418.78)" font-size="20" fill="#000">ω</text>
<text class="sans" transform="matrix(1.6571 0 0 1.2828 209.46 435.50)" font-size="20" fill="#000">i</text>
<text class="sans" transform="matrix(1.7750 0 0 1.8552 223.22 416.90)" font-size="20" fill="#000">[</text>
<text class="dvi" transform="matrix(1.7063 0 0 1.7580 234.68 419.30)" font-size="20" fill="#000">t</text>
<text class="sansi" transform="matrix(1.0964 0 0 1.1862 248.92 433.20)" font-size="20" fill="#000">h</text>
<text class="sans" transform="matrix(1.7750 0 0 1.8552 262.83 416.90)" font-size="20" fill="#000">]</text>
<text class="serif" transform="matrix(2.2759 0 0 2.0833 484.78 418.78)" font-size="20" fill="#000">ω</text>
<text class="sans" transform="matrix(1.6571 0 0 1.2828 513.06 435.50)" font-size="20" fill="#000">i</text>
<text class="sans" transform="matrix(1.7750 0 0 1.8552 526.82 416.90)" font-size="20" fill="#000">[</text>
<text class="dvi" transform="matrix(1.7063 0 0 1.7580 538.28 419.30)" font-size="20" fill="#000">t</text>
<text class="sansi" transform="matrix(1.0964 0 0 1.1862 552.52 433.20)" font-size="20" fill="#000">h</text>
<text class="sans" transform="matrix(1.7750 0 0 1.8552 566.43 416.90)" font-size="20" fill="#000">]</text>
<text class="serif" transform="matrix(2.2759 0 0 2.0833 789.08 418.78)" font-size="20" fill="#000">ω</text>
<text class="sans" transform="matrix(1.6571 0 0 1.2828 817.36 435.50)" font-size="20" fill="#000">i</text>
<text class="sans" transform="matrix(1.7750 0 0 1.8552 831.12 416.90)" font-size="20" fill="#000">[</text>
<text class="dvi" transform="matrix(1.7063 0 0 1.7580 842.58 419.30)" font-size="20" fill="#000">t</text>
<text class="sansi" transform="matrix(1.0964 0 0 1.1862 856.82 433.20)" font-size="20" fill="#000">h</text>
<text class="sans" transform="matrix(1.7750 0 0 1.8552 870.73 416.90)" font-size="20" fill="#000">]</text>
<g transform="translate(29.7 246.2) rotate(-90)">
<text class="serif" transform="matrix(2.2241 0 0 2.1979 -1.78 -0.24)" font-size="20" fill="#000">ω</text>
<text class="sans" transform="matrix(1.7750 0 0 1.8552 35.12 -2.10)" font-size="20" fill="#000">[</text>
<text class="dvi" transform="matrix(1.7063 0 0 1.7580 46.58 0.30)" font-size="20" fill="#000">t</text>
<text class="sansi" transform="matrix(1.0964 0 0 1.1862 60.82 14.20)" font-size="20" fill="#000">h</text>
<text class="sans" transform="matrix(1.7750 0 0 1.8552 74.73 -2.10)" font-size="20" fill="#000">]</text>
</g>
<text class="sansb" transform="matrix(1.6526 0 0 1.9269 102.71 89.61)" font-size="20" fill="#fff">a</text>
<text class="sansb" transform="matrix(1.9109 0 0 1.9796 404.42 93.00)" font-size="20" fill="#fff">b</text>
<text class="sansb" transform="matrix(1.6513 0 0 1.9269 710.98 89.61)" font-size="20" fill="#fff">c</text>
<text class="dvi" transform="matrix(1.6783 0 0 1.7651 221.42 96.80)" font-size="20" fill="#fff">t</text>
<text class="sans" transform="matrix(1.7026 0 0 1.6124 245.38 95.40)" font-size="20" fill="#fff" stroke="#fff" stroke-width="0.45">=</text>
<text class="sans" transform="matrix(1.9486 0 0 1.8516 275.15 96.43)" font-size="20" fill="#fff">-10</text>
<text class="dvi" transform="matrix(1.8322 0 0 1.7651 330.22 96.80)" font-size="20" fill="#fff">t</text>
<text class="sans" transform="matrix(1.1598 0 0 1.1586 345.58 110.50)" font-size="20" fill="#fff">h</text>
<text class="sans" transform="matrix(1.0943 0 0 1.1273 357.92 82.70)" font-size="20" fill="#fff">-1</text>
<text class="dvi" transform="matrix(1.8322 0 0 1.7651 595.82 96.80)" font-size="20" fill="#fff">t</text>
<text class="sans" transform="matrix(1.6308 0 0 1.6124 620.75 95.40)" font-size="20" fill="#fff" stroke="#fff" stroke-width="0.45">=</text>
<text class="sans" transform="matrix(2.0000 0 0 1.9081 650.00 96.62)" font-size="20" fill="#fff">0</text>
<text class="dvi" transform="matrix(1.8322 0 0 1.7651 838.32 96.80)" font-size="20" fill="#fff">t</text>
<text class="sans" transform="matrix(1.6410 0 0 1.6124 863.04 95.40)" font-size="20" fill="#fff" stroke="#fff" stroke-width="0.45">=</text>
<text class="sans" transform="matrix(1.9048 0 0 1.8516 893.14 96.43)" font-size="20" fill="#fff">10</text>
<text class="dvi" transform="matrix(1.7622 0 0 1.7651 934.11 96.80)" font-size="20" fill="#fff">t</text>
<text class="sans" transform="matrix(1.2308 0 0 1.1586 948.48 110.50)" font-size="20" fill="#fff">h</text>
<text class="sans" transform="matrix(1.1132 0 0 1.1273 961.90 82.70)" font-size="20" fill="#fff">-1</text>
<text class="sans" transform="matrix(1.4031 0 0 1.3357 115.48 300.03)" font-size="20" fill="#fff">0</text>
<rect x="138" y="284" width="59.8" height="11.6" fill="url(#cb)" stroke="#fff" stroke-width="1.8"/>
<text class="sans" transform="matrix(1.3940 0 0 1.3357 207.32 300.03)" font-size="20" fill="#fff">8x10</text>
<text class="sans" transform="matrix(0.8405 0 0 0.8145 269.04 290.30)" font-size="20" fill="#fff">-4</text>
<text class="sans" transform="matrix(1.5511 0 0 1.4424 114.71 327.31)" font-size="20" fill="#fff">intensity</text>
<path d="M323.2 347.9 L331.6 375.6 H325.1 V398.7 H321.3 V375.6 H314.9 Z" fill="#de3020"/>
</svg>
</div></body></html>
